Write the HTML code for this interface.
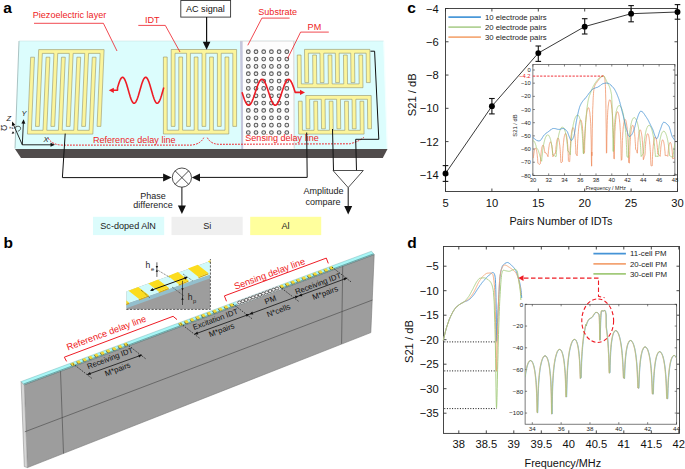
<!DOCTYPE html>
<html><head><meta charset="utf-8"><style>
html,body{margin:0;padding:0;background:#fff;}
svg{display:block;font-family:"Liberation Sans", sans-serif;}
</style></head><body>
<svg width="685" height="469" viewBox="0 0 685 469">
<rect width="685" height="469" fill="#fff"/>
<text x="3.2" y="13" font-size="15.5" fill="#000" text-anchor="start" font-weight="bold" >a</text>
<polygon points="19,41 383.6,41 387.2,149 15,149" fill="#dcfdfd" stroke="none" stroke-width="0" />
<line x1="383.8" y1="41" x2="387.3" y2="148.5" stroke="#f4ffff" stroke-width="1.2" />
<line x1="19" y1="41" x2="15" y2="148.5" stroke="#98b4b4" stroke-width="0.8" />
<line x1="19" y1="41" x2="383.6" y2="41" stroke="#c0dede" stroke-width="0.5" />
<polygon points="15,149 387.5,149 382.8,158 21,158" fill="#504b4b" stroke="none" stroke-width="0" />
<polygon points="240,41 294.6,41 294.6,149 241.2,149" fill="#fdfdfd" stroke="none" stroke-width="0" />
<polygon points="240,41 242.6,41 243.2,149 241.2,149" fill="#c4c6dc" stroke="none" stroke-width="0" />
<line x1="293.8" y1="41" x2="294.2" y2="148.5" stroke="#c8c8c8" stroke-width="0.8" />
<line x1="240" y1="41.2" x2="294.6" y2="41.2" stroke="#d0d0d0" stroke-width="0.6" />
<circle cx="248.3" cy="51.7" r="1.85" fill="#ececec" stroke="#5a5a5a" stroke-width="1.05"/>
<circle cx="256" cy="51.7" r="1.85" fill="#ececec" stroke="#5a5a5a" stroke-width="1.05"/>
<circle cx="263.7" cy="51.7" r="1.85" fill="#ececec" stroke="#5a5a5a" stroke-width="1.05"/>
<circle cx="271.4" cy="51.7" r="1.85" fill="#ececec" stroke="#5a5a5a" stroke-width="1.05"/>
<circle cx="279.1" cy="51.7" r="1.85" fill="#ececec" stroke="#5a5a5a" stroke-width="1.05"/>
<circle cx="286.8" cy="51.7" r="1.85" fill="#ececec" stroke="#5a5a5a" stroke-width="1.05"/>
<circle cx="248.3" cy="59.05" r="1.85" fill="#ececec" stroke="#5a5a5a" stroke-width="1.05"/>
<circle cx="256" cy="59.05" r="1.85" fill="#ececec" stroke="#5a5a5a" stroke-width="1.05"/>
<circle cx="263.7" cy="59.05" r="1.85" fill="#ececec" stroke="#5a5a5a" stroke-width="1.05"/>
<circle cx="271.4" cy="59.05" r="1.85" fill="#ececec" stroke="#5a5a5a" stroke-width="1.05"/>
<circle cx="279.1" cy="59.05" r="1.85" fill="#ececec" stroke="#5a5a5a" stroke-width="1.05"/>
<circle cx="286.8" cy="59.05" r="1.85" fill="#ececec" stroke="#5a5a5a" stroke-width="1.05"/>
<circle cx="248.3" cy="66.39" r="1.85" fill="#ececec" stroke="#5a5a5a" stroke-width="1.05"/>
<circle cx="256" cy="66.39" r="1.85" fill="#ececec" stroke="#5a5a5a" stroke-width="1.05"/>
<circle cx="263.7" cy="66.39" r="1.85" fill="#ececec" stroke="#5a5a5a" stroke-width="1.05"/>
<circle cx="271.4" cy="66.39" r="1.85" fill="#ececec" stroke="#5a5a5a" stroke-width="1.05"/>
<circle cx="279.1" cy="66.39" r="1.85" fill="#ececec" stroke="#5a5a5a" stroke-width="1.05"/>
<circle cx="286.8" cy="66.39" r="1.85" fill="#ececec" stroke="#5a5a5a" stroke-width="1.05"/>
<circle cx="248.3" cy="73.73" r="1.85" fill="#ececec" stroke="#5a5a5a" stroke-width="1.05"/>
<circle cx="256" cy="73.73" r="1.85" fill="#ececec" stroke="#5a5a5a" stroke-width="1.05"/>
<circle cx="263.7" cy="73.73" r="1.85" fill="#ececec" stroke="#5a5a5a" stroke-width="1.05"/>
<circle cx="271.4" cy="73.73" r="1.85" fill="#ececec" stroke="#5a5a5a" stroke-width="1.05"/>
<circle cx="279.1" cy="73.73" r="1.85" fill="#ececec" stroke="#5a5a5a" stroke-width="1.05"/>
<circle cx="286.8" cy="73.73" r="1.85" fill="#ececec" stroke="#5a5a5a" stroke-width="1.05"/>
<circle cx="248.3" cy="81.08" r="1.85" fill="#ececec" stroke="#5a5a5a" stroke-width="1.05"/>
<circle cx="256" cy="81.08" r="1.85" fill="#ececec" stroke="#5a5a5a" stroke-width="1.05"/>
<circle cx="263.7" cy="81.08" r="1.85" fill="#ececec" stroke="#5a5a5a" stroke-width="1.05"/>
<circle cx="271.4" cy="81.08" r="1.85" fill="#ececec" stroke="#5a5a5a" stroke-width="1.05"/>
<circle cx="279.1" cy="81.08" r="1.85" fill="#ececec" stroke="#5a5a5a" stroke-width="1.05"/>
<circle cx="286.8" cy="81.08" r="1.85" fill="#ececec" stroke="#5a5a5a" stroke-width="1.05"/>
<circle cx="248.3" cy="88.43" r="1.85" fill="#ececec" stroke="#5a5a5a" stroke-width="1.05"/>
<circle cx="256" cy="88.43" r="1.85" fill="#ececec" stroke="#5a5a5a" stroke-width="1.05"/>
<circle cx="263.7" cy="88.43" r="1.85" fill="#ececec" stroke="#5a5a5a" stroke-width="1.05"/>
<circle cx="271.4" cy="88.43" r="1.85" fill="#ececec" stroke="#5a5a5a" stroke-width="1.05"/>
<circle cx="279.1" cy="88.43" r="1.85" fill="#ececec" stroke="#5a5a5a" stroke-width="1.05"/>
<circle cx="286.8" cy="88.43" r="1.85" fill="#ececec" stroke="#5a5a5a" stroke-width="1.05"/>
<circle cx="248.3" cy="95.77" r="1.85" fill="#ececec" stroke="#5a5a5a" stroke-width="1.05"/>
<circle cx="256" cy="95.77" r="1.85" fill="#ececec" stroke="#5a5a5a" stroke-width="1.05"/>
<circle cx="263.7" cy="95.77" r="1.85" fill="#ececec" stroke="#5a5a5a" stroke-width="1.05"/>
<circle cx="271.4" cy="95.77" r="1.85" fill="#ececec" stroke="#5a5a5a" stroke-width="1.05"/>
<circle cx="279.1" cy="95.77" r="1.85" fill="#ececec" stroke="#5a5a5a" stroke-width="1.05"/>
<circle cx="286.8" cy="95.77" r="1.85" fill="#ececec" stroke="#5a5a5a" stroke-width="1.05"/>
<circle cx="248.3" cy="103.12" r="1.85" fill="#ececec" stroke="#5a5a5a" stroke-width="1.05"/>
<circle cx="256" cy="103.12" r="1.85" fill="#ececec" stroke="#5a5a5a" stroke-width="1.05"/>
<circle cx="263.7" cy="103.12" r="1.85" fill="#ececec" stroke="#5a5a5a" stroke-width="1.05"/>
<circle cx="271.4" cy="103.12" r="1.85" fill="#ececec" stroke="#5a5a5a" stroke-width="1.05"/>
<circle cx="279.1" cy="103.12" r="1.85" fill="#ececec" stroke="#5a5a5a" stroke-width="1.05"/>
<circle cx="286.8" cy="103.12" r="1.85" fill="#ececec" stroke="#5a5a5a" stroke-width="1.05"/>
<circle cx="248.3" cy="110.46" r="1.85" fill="#ececec" stroke="#5a5a5a" stroke-width="1.05"/>
<circle cx="256" cy="110.46" r="1.85" fill="#ececec" stroke="#5a5a5a" stroke-width="1.05"/>
<circle cx="263.7" cy="110.46" r="1.85" fill="#ececec" stroke="#5a5a5a" stroke-width="1.05"/>
<circle cx="271.4" cy="110.46" r="1.85" fill="#ececec" stroke="#5a5a5a" stroke-width="1.05"/>
<circle cx="279.1" cy="110.46" r="1.85" fill="#ececec" stroke="#5a5a5a" stroke-width="1.05"/>
<circle cx="286.8" cy="110.46" r="1.85" fill="#ececec" stroke="#5a5a5a" stroke-width="1.05"/>
<circle cx="248.3" cy="117.81" r="1.85" fill="#ececec" stroke="#5a5a5a" stroke-width="1.05"/>
<circle cx="256" cy="117.81" r="1.85" fill="#ececec" stroke="#5a5a5a" stroke-width="1.05"/>
<circle cx="263.7" cy="117.81" r="1.85" fill="#ececec" stroke="#5a5a5a" stroke-width="1.05"/>
<circle cx="271.4" cy="117.81" r="1.85" fill="#ececec" stroke="#5a5a5a" stroke-width="1.05"/>
<circle cx="279.1" cy="117.81" r="1.85" fill="#ececec" stroke="#5a5a5a" stroke-width="1.05"/>
<circle cx="286.8" cy="117.81" r="1.85" fill="#ececec" stroke="#5a5a5a" stroke-width="1.05"/>
<circle cx="248.3" cy="125.15" r="1.85" fill="#ececec" stroke="#5a5a5a" stroke-width="1.05"/>
<circle cx="256" cy="125.15" r="1.85" fill="#ececec" stroke="#5a5a5a" stroke-width="1.05"/>
<circle cx="263.7" cy="125.15" r="1.85" fill="#ececec" stroke="#5a5a5a" stroke-width="1.05"/>
<circle cx="271.4" cy="125.15" r="1.85" fill="#ececec" stroke="#5a5a5a" stroke-width="1.05"/>
<circle cx="279.1" cy="125.15" r="1.85" fill="#ececec" stroke="#5a5a5a" stroke-width="1.05"/>
<circle cx="286.8" cy="125.15" r="1.85" fill="#ececec" stroke="#5a5a5a" stroke-width="1.05"/>
<circle cx="248.3" cy="132.5" r="1.85" fill="#ececec" stroke="#5a5a5a" stroke-width="1.05"/>
<circle cx="256" cy="132.5" r="1.85" fill="#ececec" stroke="#5a5a5a" stroke-width="1.05"/>
<circle cx="263.7" cy="132.5" r="1.85" fill="#ececec" stroke="#5a5a5a" stroke-width="1.05"/>
<circle cx="271.4" cy="132.5" r="1.85" fill="#ececec" stroke="#5a5a5a" stroke-width="1.05"/>
<circle cx="279.1" cy="132.5" r="1.85" fill="#ececec" stroke="#5a5a5a" stroke-width="1.05"/>
<circle cx="286.8" cy="132.5" r="1.85" fill="#ececec" stroke="#5a5a5a" stroke-width="1.05"/>
<polygon points="38.7,49.6 104.1,49.6 100.87,126.4 97.07,126.4 100.14,53.4 88.54,53.4 85.47,126.4 81.67,126.4 84.74,53.4 73.14,53.4 70.07,126.4 66.27,126.4 69.34,53.4 57.74,53.4 54.67,126.4 50.87,126.4 53.94,53.4 42.34,53.4 39.27,126.4 35.47,126.4" fill="#fbf59c" stroke="#8e8a62" stroke-width="0.55" stroke-linejoin="miter"/>
<polygon points="27.45,134.1 92.85,134.1 96.08,57.2 92.28,57.2 89.21,130.3 77.61,130.3 80.68,57.2 76.88,57.2 73.81,130.3 62.21,130.3 65.28,57.2 61.48,57.2 58.41,130.3 46.81,130.3 49.88,57.2 46.08,57.2 43.01,130.3 31.41,130.3 34.48,57.2 30.68,57.2" fill="#fbf59c" stroke="#8e8a62" stroke-width="0.55" stroke-linejoin="miter"/>
<polygon points="171.2,49.5 236.6,49.5 236.6,126.4 232.8,126.4 232.8,53.3 221.2,53.3 221.2,126.4 217.4,126.4 217.4,53.3 205.8,53.3 205.8,126.4 202,126.4 202,53.3 190.4,53.3 190.4,126.4 186.6,126.4 186.6,53.3 175,53.3 175,126.4 171.2,126.4" fill="#fbf59c" stroke="#8e8a62" stroke-width="0.55" stroke-linejoin="miter"/>
<polygon points="163.4,134 228.8,134 228.8,57 225,57 225,130.2 213.4,130.2 213.4,57 209.6,57 209.6,130.2 198,130.2 198,57 194.2,57 194.2,130.2 182.6,130.2 182.6,57 178.8,57 178.8,130.2 167.2,130.2 167.2,57 163.4,57" fill="#fbf59c" stroke="#8e8a62" stroke-width="0.55" stroke-linejoin="miter"/>
<polygon points="304.5,49.4 369.9,49.4 370.23,82.6 366.43,82.6 366.14,53.2 354.54,53.2 354.83,82.6 351.03,82.6 350.74,53.2 339.14,53.2 339.43,82.6 335.63,82.6 335.34,53.2 323.74,53.2 324.03,82.6 320.23,82.6 319.94,53.2 308.34,53.2 308.63,82.6 304.83,82.6" fill="#fbf59c" stroke="#8e8a62" stroke-width="0.55" stroke-linejoin="miter"/>
<polygon points="297.58,87.7 362.98,87.7 362.66,55 358.86,55 359.15,83.9 347.55,83.9 347.26,55 343.46,55 343.75,83.9 332.15,83.9 331.86,55 328.06,55 328.35,83.9 316.75,83.9 316.46,55 312.66,55 312.94,83.9 301.35,83.9 301.06,55 297.26,55" fill="#fbf59c" stroke="#8e8a62" stroke-width="0.55" stroke-linejoin="miter"/>
<polygon points="305.8,95.5 371.2,95.5 371.53,128.8 367.73,128.8 367.44,99.3 355.84,99.3 356.13,128.8 352.33,128.8 352.04,99.3 340.44,99.3 340.73,128.8 336.93,128.8 336.64,99.3 325.04,99.3 325.33,128.8 321.53,128.8 321.24,99.3 309.64,99.3 309.93,128.8 306.13,128.8" fill="#fbf59c" stroke="#8e8a62" stroke-width="0.55" stroke-linejoin="miter"/>
<polygon points="298.69,134.1 364.09,134.1 363.76,101.2 359.96,101.2 360.25,130.3 348.65,130.3 348.36,101.2 344.56,101.2 344.85,130.3 333.25,130.3 332.96,101.2 329.16,101.2 329.45,130.3 317.85,130.3 317.56,101.2 313.76,101.2 314.05,130.3 302.45,130.3 302.16,101.2 298.36,101.2" fill="#fbf59c" stroke="#8e8a62" stroke-width="0.55" stroke-linejoin="miter"/>
<polyline points="112,90.3 117.5,90.3 117.5,87.84 118.08,85.87 118.66,84.01 119.24,82.3 119.81,80.79 120.39,79.52 120.97,78.52 121.55,77.8 122.13,77.4 122.71,77.31 123.29,77.54 123.87,78.09 124.45,78.95 125.02,80.08 125.6,81.46 126.18,83.07 126.76,84.85 127.34,86.77 127.92,88.77 128.5,90.82 129.07,92.85 129.65,94.81 130.23,96.67 130.81,98.37 131.39,99.87 131.97,101.13 132.55,102.12 133.13,102.82 133.71,103.22 134.28,103.29 134.86,103.04 135.44,102.48 136.02,101.61 136.6,100.47 137.18,99.07 137.76,97.46 138.34,95.67 138.91,93.75 139.49,91.74 140.07,89.69 140.65,87.67 141.23,85.7 141.81,83.85 142.39,82.16 142.97,80.67 143.54,79.42 144.12,78.44 144.7,77.75 145.28,77.37 145.86,77.32 146.44,77.58 147.02,78.16 147.59,79.03 148.17,80.19 148.75,81.59 149.33,83.22 149.91,85.01 150.49,86.94 151.07,88.95 151.65,90.99 152.23,93.02 152.8,94.98 153.38,96.82 153.96,98.51 154.54,99.98 155.12,101.22 155.7,102.19 156.28,102.87 156.86,103.23 157.43,103.28 158.01,103 158.59,102.41 159.17,101.52 159.75,100.36 160.33,98.94 160.91,97.31 161.49,95.51 162.06,93.57 162.64,91.56 163.22,89.52 163.8,87.49" fill="none" stroke="#ee1c25" stroke-width="1.6" stroke-linejoin="round"/>
<polygon points="108.8,90.3 113.8,87.7 113.8,92.9" fill="#ee1c25" stroke="none" stroke-width="0" />
<polyline points="242,92.3 242.66,94.33 243.33,96.32 244,98.2 244.66,99.94 245.32,101.49 245.99,102.82 246.66,103.88 247.32,104.66 247.98,105.14 248.65,105.3 249.31,105.14 249.98,104.66 250.65,103.88 251.31,102.82 251.97,101.49 252.64,99.94 253.31,98.2 253.97,96.32 254.63,94.33 255.3,92.3 255.97,90.27 256.63,88.28 257.3,86.4 257.96,84.66 258.62,83.11 259.29,81.78 259.95,80.72 260.62,79.94 261.28,79.46 261.95,79.3 262.62,79.46 263.28,79.94 263.94,80.72 264.61,81.78 265.27,83.11 265.94,84.66 266.61,86.4 267.27,88.28 267.94,90.27 268.6,92.3 269.26,94.33 269.93,96.32 270.59,98.2 271.26,99.94 271.93,101.49 272.59,102.82 273.25,103.88 273.92,104.66 274.58,105.14 275.25,105.3 275.91,105.14 276.58,104.66 277.25,103.88 277.91,102.82 278.57,101.49 279.24,99.94 279.9,98.2 280.57,96.32 281.24,94.33 281.9,92.3 282.56,90.27 283.23,88.28 283.89,86.4 284.56,84.66 285.22,83.11 285.89,81.78 286.56,80.72 287.22,79.94 287.88,79.46 288.55,79.3 289.21,79.46 289.88,79.94 290.54,80.72 291.21,81.78 291.88,83.11 292.54,84.66 293.2,86.4 293.87,88.28 294.53,90.27 295.2,92.3 295.2,92.4 301,92.4" fill="none" stroke="#ee1c25" stroke-width="1.6" stroke-linejoin="round"/>
<polygon points="305,92.4 300,95 300,89.8" fill="#ee1c25" stroke="none" stroke-width="0" />
<path d="M48.2,138.2 Q52,145 62.8,145.1 L191,145.1 Q200,144.5 203.8,137.7" fill="none" stroke="#ee1c25" stroke-width="1" stroke-dasharray="1.8,1.2"/>
<path d="M207.3,137.7 Q211,144.5 220,144.3 L349.7,143.8 Q358,142 363.9,137.3" fill="none" stroke="#ee1c25" stroke-width="1" stroke-dasharray="1.8,1.2"/>
<text x="93" y="142.6" font-size="9.05" fill="#ee1c25" text-anchor="start" font-weight="normal" >Reference delay line</text>
<text x="245.3" y="141.1" font-size="9.05" fill="#ee1c25" text-anchor="start" font-weight="normal" >Sensing delay line</text>
<line x1="22.3" y1="144.8" x2="51.5" y2="144.8" stroke="#111" stroke-width="0.9" />
<polygon points="55,144.8 50.5,146.8 50.5,142.8" fill="#111" stroke="none" stroke-width="0" />
<line x1="22.3" y1="144.8" x2="23.4" y2="122.5" stroke="#111" stroke-width="0.9" />
<polygon points="23.6,119.2 25.37,123.79 21.38,123.59" fill="#111" stroke="none" stroke-width="0" />
<line x1="22.3" y1="144.8" x2="13.4" y2="124.6" stroke="#111" stroke-width="0.9" />
<polygon points="12.1,121.6 15.26,124.65 11.91,125.98" fill="#111" stroke="none" stroke-width="0" />
<text x="43.6" y="141.6" font-size="7.5" fill="#222" text-anchor="start" font-weight="normal" font-style="italic">X</text>
<text x="21.6" y="115.8" font-size="7.5" fill="#222" text-anchor="start" font-weight="normal" font-style="italic">Y</text>
<text x="6.4" y="120.5" font-size="7.5" fill="#222" text-anchor="start" font-weight="normal" font-style="italic">Z</text>
<text x="3.4" y="130.3" font-size="8.2" fill="#222" text-anchor="middle" transform="rotate(90 3.4 127.7)">Ω</text>
<text x="11.8" y="130" font-size="6" fill="#222" text-anchor="middle" font-style="italic" transform="rotate(80 11.8 128)">z</text>
<path d="M14.2,128.6 C15.5,125.6 20.8,125.4 20.6,128.4 C20.4,130.2 19,131 17.8,131.2" fill="none" stroke="#222" stroke-width="0.75"/>
<polygon points="11.6,133.8 12.96,131.23 14.47,133.35" fill="#111" stroke="none" stroke-width="0" />
<text x="32.8" y="18.1" font-size="9.05" fill="#ee1c25" text-anchor="start" font-weight="normal" >Piezoelectric layer</text>
<polyline points="34,23.3 103.4,23.3 117,51" fill="none" stroke="#ee1c25" stroke-width="0.8" />
<text x="145" y="23" font-size="9.05" fill="#ee1c25" text-anchor="start" font-weight="normal" >IDT</text>
<polyline points="138.3,25.4 165.3,25.4 180,52" fill="none" stroke="#ee1c25" stroke-width="0.8" />
<text x="258.3" y="14.9" font-size="9.05" fill="#ee1c25" text-anchor="start" font-weight="normal" >Substrate</text>
<polyline points="289.6,18.1 261.9,18.1 247.8,45.3" fill="none" stroke="#ee1c25" stroke-width="0.8" />
<text x="307.6" y="29.9" font-size="9.05" fill="#ee1c25" text-anchor="start" font-weight="normal" >PM</text>
<polyline points="328.8,32.1 300.6,32.1 287.5,58.7" fill="none" stroke="#ee1c25" stroke-width="0.8" />
<rect x="180.8" y="0.5" width="49.8" height="16.6" fill="#fff" stroke="#333" stroke-width="0.9"/>
<text x="205.4" y="12" font-size="9.1" fill="#111" text-anchor="middle" font-weight="normal" >AC signal</text>
<line x1="206.6" y1="17" x2="206.6" y2="43" stroke="#111" stroke-width="1.2" />
<polygon points="206.6,49.8 202.8,41.8 210.4,41.8" fill="#111" stroke="none" stroke-width="0" />
<polyline points="65.2,133.6 62.4,177.6 163.5,177.6" fill="none" stroke="#111" stroke-width="1" />
<polygon points="171.6,177.6 163.1,181.6 163.1,173.6" fill="#111" stroke="none" stroke-width="0" />
<circle cx="181.9" cy="177.6" r="9.6" fill="#fff" stroke="#222" stroke-width="0.8"/>
<line x1="175.1" y1="170.8" x2="188.7" y2="184.4" stroke="#222" stroke-width="0.8" />
<line x1="175.1" y1="184.4" x2="188.7" y2="170.8" stroke="#222" stroke-width="0.8" />
<polyline points="306.7,132.5 307.2,177.4 199.7,177.4" fill="none" stroke="#111" stroke-width="1" />
<polygon points="191.8,177.5 200,173.5 200,181.5" fill="#111" stroke="none" stroke-width="0" />
<line x1="181.9" y1="187.2" x2="181.9" y2="206" stroke="#111" stroke-width="1" />
<polygon points="181.9,214 177.9,205.5 185.9,205.5" fill="#111" stroke="none" stroke-width="0" />
<polyline points="332.5,129 333.5,170.6" fill="none" stroke="#111" stroke-width="1" />
<polyline points="370.5,51.2 374.6,51.2 378.8,139.3 355.7,139.3 356.5,170.6" fill="none" stroke="#111" stroke-width="1" />
<polygon points="333,170.5 363.3,170.5 348.2,187.6" fill="#fff" stroke="#222" stroke-width="0.8" />
<line x1="348.2" y1="187.6" x2="348.2" y2="207" stroke="#111" stroke-width="1" />
<polygon points="348.2,214.5 344.2,206 352.2,206" fill="#111" stroke="none" stroke-width="0" />
<text x="153.1" y="198.6" font-size="9.0" fill="#222" text-anchor="middle" font-weight="normal" >Phase</text>
<text x="153" y="208.4" font-size="9.0" fill="#222" text-anchor="middle" font-weight="normal" >difference</text>
<text x="323.5" y="194.1" font-size="9.0" fill="#222" text-anchor="middle" font-weight="normal" >Amplitude</text>
<text x="322.9" y="204.6" font-size="9.0" fill="#222" text-anchor="middle" font-weight="normal" >compare</text>
<rect x="93" y="216.8" width="71.2" height="18.3" fill="#dcfcfc"/>
<rect x="171.5" y="216.8" width="71.2" height="18.3" fill="#efefef"/>
<rect x="250.2" y="216.8" width="71" height="18.3" fill="#ffff9d"/>
<text x="128.1" y="229.4" font-size="9.1" fill="#222" text-anchor="middle" font-weight="normal" >Sc-doped AlN</text>
<text x="207.3" y="229.4" font-size="9.1" fill="#222" text-anchor="middle" font-weight="normal" >Si</text>
<text x="285.6" y="229.4" font-size="9.1" fill="#222" text-anchor="middle" font-weight="normal" >Al</text>
<text x="3.5" y="247.7" font-size="15.5" fill="#000" text-anchor="start" font-weight="bold" >b</text>
<polygon points="24.3,384.8 374.2,254.6 370.8,332.6 27.4,467.6" fill="#9d9d9d" stroke="none" stroke-width="0" />
<polygon points="21.1,381.6 24.3,384.8 27.4,467.6 24.3,466.6" fill="#d6d6d6" stroke="#666" stroke-width="0.4" />
<polygon points="21.1,381.6 371.5,251.2 374.2,254.6 24.3,384.8" fill="#a8f6f6" stroke="#6fa8ac" stroke-width="0.4" />
<line x1="23.6" y1="384" x2="373.6" y2="253.8" stroke="#6aa8a8" stroke-width="1.0" />
<line x1="24.3" y1="384.8" x2="374.2" y2="254.6" stroke="#555" stroke-width="0.5" />
<line x1="374.2" y1="254.6" x2="370.8" y2="332.6" stroke="#777" stroke-width="0.6" />
<line x1="27.4" y1="467.6" x2="370.8" y2="332.6" stroke="#777" stroke-width="0.6" />
<line x1="24.8" y1="431.8" x2="372.5" y2="300" stroke="#444" stroke-width="0.6" />
<line x1="60.5" y1="371.3" x2="63.5" y2="453.5" stroke="#444" stroke-width="0.6" />
<line x1="342.7" y1="266.3" x2="341.6" y2="343.8" stroke="#444" stroke-width="0.6" />
<polygon points="70.15,364.02 72.95,362.97 74.85,365.47 72.05,366.52" fill="#556050" stroke="none" stroke-width="0" />
<polygon points="70.5,363.42 73.3,362.37 75.2,364.87 72.4,365.92" fill="#f2d83a" stroke="none" stroke-width="0" />
<polygon points="76.07,361.81 78.87,360.77 80.77,363.27 77.97,364.31" fill="#556050" stroke="none" stroke-width="0" />
<polygon points="76.42,361.21 79.22,360.17 81.12,362.67 78.32,363.71" fill="#f2d83a" stroke="none" stroke-width="0" />
<polygon points="81.99,359.61 84.79,358.57 86.69,361.07 83.89,362.11" fill="#556050" stroke="none" stroke-width="0" />
<polygon points="82.34,359.01 85.14,357.97 87.04,360.47 84.24,361.51" fill="#f2d83a" stroke="none" stroke-width="0" />
<polygon points="87.92,357.4 90.72,356.36 92.62,358.86 89.82,359.9" fill="#556050" stroke="none" stroke-width="0" />
<polygon points="88.27,356.8 91.07,355.76 92.97,358.26 90.17,359.3" fill="#f2d83a" stroke="none" stroke-width="0" />
<polygon points="93.84,355.2 96.64,354.16 98.54,356.66 95.74,357.7" fill="#556050" stroke="none" stroke-width="0" />
<polygon points="94.19,354.6 96.99,353.56 98.89,356.06 96.09,357.1" fill="#f2d83a" stroke="none" stroke-width="0" />
<polygon points="99.76,353 102.56,351.95 104.46,354.45 101.66,355.5" fill="#556050" stroke="none" stroke-width="0" />
<polygon points="100.11,352.4 102.91,351.35 104.81,353.85 102.01,354.9" fill="#f2d83a" stroke="none" stroke-width="0" />
<polygon points="105.68,350.79 108.48,349.75 110.38,352.25 107.58,353.29" fill="#556050" stroke="none" stroke-width="0" />
<polygon points="106.03,350.19 108.83,349.15 110.73,351.65 107.93,352.69" fill="#f2d83a" stroke="none" stroke-width="0" />
<polygon points="111.61,348.59 114.41,347.55 116.31,350.05 113.51,351.09" fill="#556050" stroke="none" stroke-width="0" />
<polygon points="111.96,347.99 114.76,346.95 116.66,349.45 113.86,350.49" fill="#f2d83a" stroke="none" stroke-width="0" />
<polygon points="117.53,346.38 120.33,345.34 122.23,347.84 119.43,348.88" fill="#556050" stroke="none" stroke-width="0" />
<polygon points="117.88,345.78 120.68,344.74 122.58,347.24 119.78,348.28" fill="#f2d83a" stroke="none" stroke-width="0" />
<polygon points="123.45,344.18 126.25,343.14 128.15,345.64 125.35,346.68" fill="#556050" stroke="none" stroke-width="0" />
<polygon points="123.8,343.58 126.6,342.54 128.5,345.04 125.7,346.08" fill="#f2d83a" stroke="none" stroke-width="0" />
<polygon points="178.15,323.82 180.95,322.78 182.85,325.28 180.05,326.32" fill="#556050" stroke="none" stroke-width="0" />
<polygon points="178.5,323.22 181.3,322.18 183.2,324.68 180.4,325.72" fill="#f2d83a" stroke="none" stroke-width="0" />
<polygon points="183.82,321.72 186.62,320.67 188.52,323.17 185.72,324.22" fill="#556050" stroke="none" stroke-width="0" />
<polygon points="184.17,321.12 186.97,320.07 188.87,322.57 186.07,323.62" fill="#f2d83a" stroke="none" stroke-width="0" />
<polygon points="189.48,319.61 192.28,318.56 194.18,321.06 191.38,322.11" fill="#556050" stroke="none" stroke-width="0" />
<polygon points="189.83,319.01 192.63,317.96 194.53,320.46 191.73,321.51" fill="#f2d83a" stroke="none" stroke-width="0" />
<polygon points="195.15,317.5 197.95,316.46 199.85,318.96 197.05,320" fill="#556050" stroke="none" stroke-width="0" />
<polygon points="195.5,316.9 198.3,315.86 200.2,318.36 197.4,319.4" fill="#f2d83a" stroke="none" stroke-width="0" />
<polygon points="200.82,315.39 203.62,314.35 205.52,316.85 202.72,317.89" fill="#556050" stroke="none" stroke-width="0" />
<polygon points="201.17,314.79 203.97,313.75 205.87,316.25 203.07,317.29" fill="#f2d83a" stroke="none" stroke-width="0" />
<polygon points="206.48,313.28 209.28,312.24 211.18,314.74 208.38,315.78" fill="#556050" stroke="none" stroke-width="0" />
<polygon points="206.83,312.68 209.63,311.64 211.53,314.14 208.73,315.18" fill="#f2d83a" stroke="none" stroke-width="0" />
<polygon points="212.15,311.17 214.95,310.13 216.85,312.63 214.05,313.67" fill="#556050" stroke="none" stroke-width="0" />
<polygon points="212.5,310.57 215.3,309.53 217.2,312.03 214.4,313.07" fill="#f2d83a" stroke="none" stroke-width="0" />
<polygon points="217.82,309.06 220.62,308.02 222.52,310.52 219.72,311.56" fill="#556050" stroke="none" stroke-width="0" />
<polygon points="218.17,308.46 220.97,307.42 222.87,309.92 220.07,310.96" fill="#f2d83a" stroke="none" stroke-width="0" />
<polygon points="223.48,306.95 226.28,305.91 228.18,308.41 225.38,309.45" fill="#556050" stroke="none" stroke-width="0" />
<polygon points="223.83,306.35 226.63,305.31 228.53,307.81 225.73,308.85" fill="#f2d83a" stroke="none" stroke-width="0" />
<polygon points="229.15,304.84 231.95,303.8 233.85,306.3 231.05,307.34" fill="#556050" stroke="none" stroke-width="0" />
<polygon points="229.5,304.24 232.3,303.2 234.2,305.7 231.4,306.74" fill="#f2d83a" stroke="none" stroke-width="0" />
<polygon points="279.25,286.2 282.05,285.16 283.95,287.66 281.15,288.7" fill="#556050" stroke="none" stroke-width="0" />
<polygon points="279.6,285.6 282.4,284.56 284.3,287.06 281.5,288.1" fill="#f2d83a" stroke="none" stroke-width="0" />
<polygon points="284.76,284.15 287.56,283.11 289.46,285.61 286.66,286.65" fill="#556050" stroke="none" stroke-width="0" />
<polygon points="285.11,283.55 287.91,282.51 289.81,285.01 287.01,286.05" fill="#f2d83a" stroke="none" stroke-width="0" />
<polygon points="290.27,282.1 293.07,281.06 294.97,283.56 292.17,284.6" fill="#556050" stroke="none" stroke-width="0" />
<polygon points="290.62,281.5 293.42,280.46 295.32,282.96 292.52,284" fill="#f2d83a" stroke="none" stroke-width="0" />
<polygon points="295.78,280.05 298.58,279.01 300.48,281.51 297.68,282.55" fill="#556050" stroke="none" stroke-width="0" />
<polygon points="296.13,279.45 298.93,278.41 300.83,280.91 298.03,281.95" fill="#f2d83a" stroke="none" stroke-width="0" />
<polygon points="301.29,278 304.09,276.95 305.99,279.45 303.19,280.5" fill="#556050" stroke="none" stroke-width="0" />
<polygon points="301.64,277.4 304.44,276.35 306.34,278.85 303.54,279.9" fill="#f2d83a" stroke="none" stroke-width="0" />
<polygon points="306.81,275.95 309.61,274.9 311.51,277.4 308.71,278.45" fill="#556050" stroke="none" stroke-width="0" />
<polygon points="307.16,275.35 309.96,274.3 311.86,276.8 309.06,277.85" fill="#f2d83a" stroke="none" stroke-width="0" />
<polygon points="312.32,273.89 315.12,272.85 317.02,275.35 314.22,276.39" fill="#556050" stroke="none" stroke-width="0" />
<polygon points="312.67,273.29 315.47,272.25 317.37,274.75 314.57,275.79" fill="#f2d83a" stroke="none" stroke-width="0" />
<polygon points="317.83,271.84 320.63,270.8 322.53,273.3 319.73,274.34" fill="#556050" stroke="none" stroke-width="0" />
<polygon points="318.18,271.24 320.98,270.2 322.88,272.7 320.08,273.74" fill="#f2d83a" stroke="none" stroke-width="0" />
<polygon points="323.34,269.79 326.14,268.75 328.04,271.25 325.24,272.29" fill="#556050" stroke="none" stroke-width="0" />
<polygon points="323.69,269.19 326.49,268.15 328.39,270.65 325.59,271.69" fill="#f2d83a" stroke="none" stroke-width="0" />
<polygon points="328.85,267.74 331.65,266.7 333.55,269.2 330.75,270.24" fill="#556050" stroke="none" stroke-width="0" />
<polygon points="329.2,267.14 332,266.1 333.9,268.6 331.1,269.64" fill="#f2d83a" stroke="none" stroke-width="0" />
<polygon points="235.3,301.89 278.6,285.77 281.4,289.17 238.1,305.29" fill="#e4e4e4" stroke="none" stroke-width="0" />
<ellipse cx="239.41" cy="302.5" rx="1.75" ry="1.5" fill="#f4f4f4" stroke="#3a3a3a" stroke-width="0.75"/>
<ellipse cx="242.82" cy="301.23" rx="1.75" ry="1.5" fill="#f4f4f4" stroke="#3a3a3a" stroke-width="0.75"/>
<ellipse cx="246.24" cy="299.96" rx="1.75" ry="1.5" fill="#f4f4f4" stroke="#3a3a3a" stroke-width="0.75"/>
<ellipse cx="249.66" cy="298.69" rx="1.75" ry="1.5" fill="#f4f4f4" stroke="#3a3a3a" stroke-width="0.75"/>
<ellipse cx="253.07" cy="297.42" rx="1.75" ry="1.5" fill="#f4f4f4" stroke="#3a3a3a" stroke-width="0.75"/>
<ellipse cx="256.49" cy="296.15" rx="1.75" ry="1.5" fill="#f4f4f4" stroke="#3a3a3a" stroke-width="0.75"/>
<ellipse cx="259.91" cy="294.87" rx="1.75" ry="1.5" fill="#f4f4f4" stroke="#3a3a3a" stroke-width="0.75"/>
<ellipse cx="263.32" cy="293.6" rx="1.75" ry="1.5" fill="#f4f4f4" stroke="#3a3a3a" stroke-width="0.75"/>
<ellipse cx="266.74" cy="292.33" rx="1.75" ry="1.5" fill="#f4f4f4" stroke="#3a3a3a" stroke-width="0.75"/>
<ellipse cx="270.16" cy="291.06" rx="1.75" ry="1.5" fill="#f4f4f4" stroke="#3a3a3a" stroke-width="0.75"/>
<ellipse cx="273.57" cy="289.79" rx="1.75" ry="1.5" fill="#f4f4f4" stroke="#3a3a3a" stroke-width="0.75"/>
<ellipse cx="276.99" cy="288.52" rx="1.75" ry="1.5" fill="#f4f4f4" stroke="#3a3a3a" stroke-width="0.75"/>
<text x="67.9" y="350.5" font-size="9.25" fill="#ee1c25" text-anchor="start" transform="rotate(-20.4 67.9 350.5)">Reference delay line</text>
<text x="235.4" y="289.8" font-size="9.25" fill="#ee1c25" text-anchor="start" transform="rotate(-20.4 235.4 289.8)">Sensing delay line</text>
<polyline points="66.6,361.4 64.3,357.2 173.1,316.3 177,319.6" fill="none" stroke="#ee1c25" stroke-width="1" />
<polyline points="226.5,301.3 224.4,295.9 326.3,258.1 328.3,263.4" fill="none" stroke="#ee1c25" stroke-width="1" />
<line x1="72.8" y1="363.6" x2="92" y2="378.48" stroke="#111" stroke-width="0.7" stroke-dasharray="1.6,1.2"/>
<line x1="126.6" y1="344" x2="145.8" y2="358.88" stroke="#111" stroke-width="0.7" stroke-dasharray="1.6,1.2"/>
<line x1="87.2" y1="374.6" x2="142" y2="354.9" stroke="#111" stroke-width="0.8" />
<polygon points="87.2,374.6 89.99,372 91,374.83" fill="#111" stroke="none" stroke-width="0" />
<polygon points="142,354.9 139.21,357.5 138.2,354.67" fill="#111" stroke="none" stroke-width="0" />
<text x="88.2" y="369.2" font-size="7.75" fill="#111" text-anchor="start" transform="rotate(-20.4 88.2 369.2)">Receiving IDT</text>
<text x="106" y="376.4" font-size="7.9" fill="#111" text-anchor="start" transform="rotate(-20.4 106 376.4)">M*pairs</text>
<line x1="180.6" y1="323.5" x2="199.8" y2="338.38" stroke="#111" stroke-width="0.7" stroke-dasharray="1.6,1.2"/>
<line x1="233" y1="304" x2="252.2" y2="318.88" stroke="#111" stroke-width="0.7" stroke-dasharray="1.6,1.2"/>
<line x1="279.6" y1="286.6" x2="298.8" y2="301.48" stroke="#111" stroke-width="0.7" stroke-dasharray="1.6,1.2"/>
<line x1="332" y1="267.1" x2="351.2" y2="281.98" stroke="#111" stroke-width="0.7" stroke-dasharray="1.6,1.2"/>
<line x1="194.5" y1="334.2" x2="249.5" y2="314.2" stroke="#111" stroke-width="0.8" />
<polygon points="194.5,334.2 197.28,331.59 198.3,334.41" fill="#111" stroke="none" stroke-width="0" />
<polygon points="249.5,314.2 246.72,316.81 245.7,313.99" fill="#111" stroke="none" stroke-width="0" />
<line x1="249.5" y1="314.2" x2="298.6" y2="296" stroke="#111" stroke-width="0.8" />
<polygon points="249.5,314.2 252.26,311.58 253.3,314.39" fill="#111" stroke="none" stroke-width="0" />
<polygon points="298.6,296 295.84,298.62 294.8,295.81" fill="#111" stroke="none" stroke-width="0" />
<line x1="298.6" y1="296" x2="347.2" y2="278" stroke="#111" stroke-width="0.8" />
<polygon points="298.6,296 301.36,293.38 302.4,296.19" fill="#111" stroke="none" stroke-width="0" />
<polygon points="347.2,278 344.44,280.62 343.4,277.81" fill="#111" stroke="none" stroke-width="0" />
<text x="194" y="330" font-size="7.65" fill="#111" text-anchor="start" transform="rotate(-20.4 194 330)">Excitation IDT</text>
<text x="210" y="337.2" font-size="7.9" fill="#111" text-anchor="start" transform="rotate(-20.4 210 337.2)">M*pairs</text>
<text x="265.8" y="304.4" font-size="7.9" fill="#111" text-anchor="start" transform="rotate(-20.4 265.8 304.4)">PM</text>
<text x="268" y="317.2" font-size="7.9" fill="#111" text-anchor="start" transform="rotate(-20.4 268 317.2)">N*cells</text>
<text x="296.2" y="294.6" font-size="7.75" fill="#111" text-anchor="start" transform="rotate(-20.4 296.2 294.6)">Receiving IDT</text>
<text x="313.6" y="300" font-size="7.9" fill="#111" text-anchor="start" transform="rotate(-20.4 313.6 300)">M*pairs</text>
<clipPath id="clipb"><rect x="126.3" y="255" width="84.1" height="54.4"/></clipPath>
<g clip-path="url(#clipb)">
<polygon points="126.3,291.6 210.4,261 210.4,309.4 126.3,309.4" fill="#9d9d9d" stroke="none" stroke-width="0" />
<polygon points="126.3,291.6 210.4,261 210.4,274.8 126.3,303.9" fill="#d0fafa" stroke="none" stroke-width="0" />
<polygon points="126.3,303.9 210.4,274.8 210.4,278.2 126.3,308.3" fill="#93bfcd" stroke="none" stroke-width="0" />
<polygon points="99.5,313.9 109.3,310 109.3,311.4 99.5,315.3" fill="#d8a810" stroke="none" stroke-width="0" />
<polygon points="88.9,305.6 98.7,301.7 109.3,310 99.5,313.9" fill="#fcdc1e" stroke="none" stroke-width="0" />
<polygon points="119.3,306.5 129.1,302.6 129.1,304 119.3,307.9" fill="#d8a810" stroke="none" stroke-width="0" />
<polygon points="108.7,298.2 118.5,294.3 129.1,302.6 119.3,306.5" fill="#fcdc1e" stroke="none" stroke-width="0" />
<polygon points="139.1,299.1 148.9,295.2 148.9,296.6 139.1,300.5" fill="#d8a810" stroke="none" stroke-width="0" />
<polygon points="128.5,290.8 138.3,286.9 148.9,295.2 139.1,299.1" fill="#fcdc1e" stroke="none" stroke-width="0" />
<polygon points="158.9,291.7 168.7,287.8 168.7,289.2 158.9,293.1" fill="#d8a810" stroke="none" stroke-width="0" />
<polygon points="148.3,283.4 158.1,279.5 168.7,287.8 158.9,291.7" fill="#fcdc1e" stroke="none" stroke-width="0" />
<polygon points="178.7,284.3 188.5,280.4 188.5,281.8 178.7,285.7" fill="#d8a810" stroke="none" stroke-width="0" />
<polygon points="168.1,276 177.9,272.1 188.5,280.4 178.7,284.3" fill="#fcdc1e" stroke="none" stroke-width="0" />
<polygon points="198.5,276.9 208.3,273 208.3,274.4 198.5,278.3" fill="#d8a810" stroke="none" stroke-width="0" />
<polygon points="187.9,268.6 197.7,264.7 208.3,273 198.5,276.9" fill="#fcdc1e" stroke="none" stroke-width="0" />
<polygon points="218.3,269.5 228.1,265.6 228.1,267 218.3,270.9" fill="#d8a810" stroke="none" stroke-width="0" />
<polygon points="207.7,261.2 217.5,257.3 228.1,265.6 218.3,269.5" fill="#fcdc1e" stroke="none" stroke-width="0" />
</g>
<polyline points="126.3,309.4 210.4,309.4 210.4,259" fill="none" stroke="#333" stroke-width="0.8" stroke-dasharray="2.2,1.4"/>
<line x1="156.9" y1="262.3" x2="156.9" y2="276.9" stroke="#222" stroke-width="0.7" />
<polygon points="156.9,268.2 155.7,266 158.1,266" fill="#111" stroke="none" stroke-width="0" />
<polygon points="156.9,269.6 158.1,271.8 155.7,271.8" fill="#111" stroke="none" stroke-width="0" />
<line x1="157.8" y1="270.2" x2="170" y2="277.5" stroke="#222" stroke-width="0.6" stroke-dasharray="1,0.8"/>
<line x1="182.5" y1="280.8" x2="182.5" y2="305" stroke="#222" stroke-width="0.7" />
<polygon points="182.5,290.5 181.3,288.3 183.7,288.3" fill="#111" stroke="none" stroke-width="0" />
<polygon points="182.5,297.5 183.7,299.7 181.3,299.7" fill="#111" stroke="none" stroke-width="0" />
<line x1="172" y1="287" x2="184" y2="296" stroke="#222" stroke-width="0.6" stroke-dasharray="1,0.8"/>
<line x1="141" y1="290" x2="150" y2="298" stroke="#222" stroke-width="0.6" stroke-dasharray="1,0.8"/>
<line x1="183" y1="274" x2="193" y2="281" stroke="#222" stroke-width="0.6" stroke-dasharray="1,0.8"/>
<line x1="151.2" y1="290.3" x2="186.5" y2="277.6" stroke="#111" stroke-width="1.0" />
<polygon points="150,290.7 152.66,288.04 153.74,291.05" fill="#111" stroke="none" stroke-width="0" />
<polygon points="187.8,277.1 185.14,279.76 184.06,276.75" fill="#111" stroke="none" stroke-width="0" />
<text x="145.6" y="267.8" font-size="8.6" fill="#222" text-anchor="start" font-weight="normal" >h</text>
<text x="150.9" y="270.6" font-size="5.8" fill="#222" text-anchor="start" font-weight="normal" >e</text>
<text x="187.8" y="300.4" font-size="8.6" fill="#222" text-anchor="start" font-weight="normal" >h</text>
<text x="192.9" y="303.4" font-size="5.8" fill="#222" text-anchor="start" font-weight="normal" >p</text>
<text x="407.2" y="12.8" font-size="15.5" fill="#000" text-anchor="start" font-weight="bold" >c</text>
<rect x="445.5" y="8.5" width="232.0" height="183.0" fill="none" stroke="#333" stroke-width="0.9"/>
<line x1="445.5" y1="8.5" x2="448.5" y2="8.5" stroke="#333" stroke-width="0.9" />
<line x1="677.5" y1="8.5" x2="674.5" y2="8.5" stroke="#333" stroke-width="0.9" />
<text x="438.8" y="12.5" font-size="11.2" fill="#111" text-anchor="end" font-weight="normal" >−4</text>
<line x1="445.5" y1="41.77" x2="448.5" y2="41.77" stroke="#333" stroke-width="0.9" />
<line x1="677.5" y1="41.77" x2="674.5" y2="41.77" stroke="#333" stroke-width="0.9" />
<text x="438.8" y="45.77" font-size="11.2" fill="#111" text-anchor="end" font-weight="normal" >−6</text>
<line x1="445.5" y1="75.05" x2="448.5" y2="75.05" stroke="#333" stroke-width="0.9" />
<line x1="677.5" y1="75.05" x2="674.5" y2="75.05" stroke="#333" stroke-width="0.9" />
<text x="438.8" y="79.05" font-size="11.2" fill="#111" text-anchor="end" font-weight="normal" >−8</text>
<line x1="445.5" y1="108.32" x2="448.5" y2="108.32" stroke="#333" stroke-width="0.9" />
<line x1="677.5" y1="108.32" x2="674.5" y2="108.32" stroke="#333" stroke-width="0.9" />
<text x="438.8" y="112.32" font-size="11.2" fill="#111" text-anchor="end" font-weight="normal" >−10</text>
<line x1="445.5" y1="141.59" x2="448.5" y2="141.59" stroke="#333" stroke-width="0.9" />
<line x1="677.5" y1="141.59" x2="674.5" y2="141.59" stroke="#333" stroke-width="0.9" />
<text x="438.8" y="145.59" font-size="11.2" fill="#111" text-anchor="end" font-weight="normal" >−12</text>
<line x1="445.5" y1="174.86" x2="448.5" y2="174.86" stroke="#333" stroke-width="0.9" />
<line x1="677.5" y1="174.86" x2="674.5" y2="174.86" stroke="#333" stroke-width="0.9" />
<text x="438.8" y="178.86" font-size="11.2" fill="#111" text-anchor="end" font-weight="normal" >−14</text>
<line x1="445.5" y1="191.5" x2="445.5" y2="188.5" stroke="#333" stroke-width="0.9" />
<line x1="445.5" y1="8.5" x2="445.5" y2="11.5" stroke="#333" stroke-width="0.9" />
<text x="445.5" y="207.2" font-size="11.2" fill="#111" text-anchor="middle" font-weight="normal" >5</text>
<line x1="491.9" y1="191.5" x2="491.9" y2="188.5" stroke="#333" stroke-width="0.9" />
<line x1="491.9" y1="8.5" x2="491.9" y2="11.5" stroke="#333" stroke-width="0.9" />
<text x="491.9" y="207.2" font-size="11.2" fill="#111" text-anchor="middle" font-weight="normal" >10</text>
<line x1="538.3" y1="191.5" x2="538.3" y2="188.5" stroke="#333" stroke-width="0.9" />
<line x1="538.3" y1="8.5" x2="538.3" y2="11.5" stroke="#333" stroke-width="0.9" />
<text x="538.3" y="207.2" font-size="11.2" fill="#111" text-anchor="middle" font-weight="normal" >15</text>
<line x1="584.7" y1="191.5" x2="584.7" y2="188.5" stroke="#333" stroke-width="0.9" />
<line x1="584.7" y1="8.5" x2="584.7" y2="11.5" stroke="#333" stroke-width="0.9" />
<text x="584.7" y="207.2" font-size="11.2" fill="#111" text-anchor="middle" font-weight="normal" >20</text>
<line x1="631.1" y1="191.5" x2="631.1" y2="188.5" stroke="#333" stroke-width="0.9" />
<line x1="631.1" y1="8.5" x2="631.1" y2="11.5" stroke="#333" stroke-width="0.9" />
<text x="631.1" y="207.2" font-size="11.2" fill="#111" text-anchor="middle" font-weight="normal" >25</text>
<line x1="677.5" y1="191.5" x2="677.5" y2="188.5" stroke="#333" stroke-width="0.9" />
<line x1="677.5" y1="8.5" x2="677.5" y2="11.5" stroke="#333" stroke-width="0.9" />
<text x="677.5" y="207.2" font-size="11.2" fill="#111" text-anchor="middle" font-weight="normal" >30</text>
<text x="560.9" y="224.8" font-size="10.85" fill="#111" text-anchor="middle" font-weight="normal" >Pairs Number of IDTs</text>
<text x="415.6" y="94.8" font-size="11.2" fill="#111" text-anchor="middle" transform="rotate(-90 415.6 94.8)">S21 / dB</text>
<path d="M445.5,173.5 L491.9,106.2 L538.3,53.1 L584.7,26.6 L631.1,13.7 L677.5,12.0" fill="none" stroke="#222" stroke-width="0.9" stroke-linejoin="round" />
<line x1="445.5" y1="165.6" x2="445.5" y2="181.4" stroke="#111" stroke-width="1.1" />
<line x1="442.7" y1="165.6" x2="448.3" y2="165.6" stroke="#111" stroke-width="1.1" />
<line x1="442.7" y1="181.4" x2="448.3" y2="181.4" stroke="#111" stroke-width="1.1" />
<circle cx="445.5" cy="173.53" r="2.95" fill="#000"/>
<line x1="491.9" y1="98.5" x2="491.9" y2="113.9" stroke="#111" stroke-width="1.1" />
<line x1="489.1" y1="98.5" x2="494.7" y2="98.5" stroke="#111" stroke-width="1.1" />
<line x1="489.1" y1="113.9" x2="494.7" y2="113.9" stroke="#111" stroke-width="1.1" />
<circle cx="491.9" cy="106.16" r="2.95" fill="#000"/>
<line x1="538.3" y1="46" x2="538.3" y2="61.4" stroke="#111" stroke-width="1.1" />
<line x1="535.5" y1="46" x2="541.1" y2="46" stroke="#111" stroke-width="1.1" />
<line x1="535.5" y1="61.4" x2="541.1" y2="61.4" stroke="#111" stroke-width="1.1" />
<circle cx="538.3" cy="53.09" r="2.95" fill="#000"/>
<line x1="584.7" y1="18.7" x2="584.7" y2="34" stroke="#111" stroke-width="1.1" />
<line x1="581.9" y1="18.7" x2="587.5" y2="18.7" stroke="#111" stroke-width="1.1" />
<line x1="581.9" y1="34" x2="587.5" y2="34" stroke="#111" stroke-width="1.1" />
<circle cx="584.7" cy="26.63" r="2.95" fill="#000"/>
<line x1="631.1" y1="5.6" x2="631.1" y2="21.8" stroke="#111" stroke-width="1.1" />
<line x1="628.3" y1="5.6" x2="633.9" y2="5.6" stroke="#111" stroke-width="1.1" />
<line x1="628.3" y1="21.8" x2="633.9" y2="21.8" stroke="#111" stroke-width="1.1" />
<circle cx="631.1" cy="13.66" r="2.95" fill="#000"/>
<line x1="677.5" y1="4.6" x2="677.5" y2="19.2" stroke="#111" stroke-width="1.1" />
<line x1="674.7" y1="4.6" x2="680.3" y2="4.6" stroke="#111" stroke-width="1.1" />
<line x1="674.7" y1="19.2" x2="680.3" y2="19.2" stroke="#111" stroke-width="1.1" />
<circle cx="677.5" cy="11.99" r="2.95" fill="#000"/>
<line x1="448.4" y1="17.1" x2="480.9" y2="17.1" stroke="#4a98d8" stroke-width="1.8" />
<text x="485" y="19.6" font-size="7.75" fill="#222" text-anchor="start" font-weight="normal" >10 electrode pairs</text>
<line x1="448.4" y1="27.1" x2="480.9" y2="27.1" stroke="#b2d296" stroke-width="1.8" />
<text x="485" y="29.6" font-size="7.75" fill="#222" text-anchor="start" font-weight="normal" >20 electrode pairs</text>
<line x1="448.4" y1="37.1" x2="480.9" y2="37.1" stroke="#f5ab7a" stroke-width="1.8" />
<text x="485" y="39.6" font-size="7.75" fill="#222" text-anchor="start" font-weight="normal" >30 electrode pairs</text>
<rect x="532.9" y="64.5" width="142.0" height="110.9" fill="#fff" stroke="#444" stroke-width="0.7"/>
<line x1="532.9" y1="70" x2="534.9" y2="70" stroke="#333" stroke-width="0.6" />
<line x1="674.9" y1="70" x2="672.9" y2="70" stroke="#333" stroke-width="0.6" />
<text x="530.8" y="72.1" font-size="5.8" fill="#222" text-anchor="end" font-weight="normal" >0</text>
<line x1="532.9" y1="83.17" x2="534.9" y2="83.17" stroke="#333" stroke-width="0.6" />
<line x1="674.9" y1="83.17" x2="672.9" y2="83.17" stroke="#333" stroke-width="0.6" />
<text x="530.8" y="85.27" font-size="5.8" fill="#222" text-anchor="end" font-weight="normal" >−10</text>
<line x1="532.9" y1="96.35" x2="534.9" y2="96.35" stroke="#333" stroke-width="0.6" />
<line x1="674.9" y1="96.35" x2="672.9" y2="96.35" stroke="#333" stroke-width="0.6" />
<text x="530.8" y="98.45" font-size="5.8" fill="#222" text-anchor="end" font-weight="normal" >−20</text>
<line x1="532.9" y1="109.53" x2="534.9" y2="109.53" stroke="#333" stroke-width="0.6" />
<line x1="674.9" y1="109.53" x2="672.9" y2="109.53" stroke="#333" stroke-width="0.6" />
<text x="530.8" y="111.62" font-size="5.8" fill="#222" text-anchor="end" font-weight="normal" >−30</text>
<line x1="532.9" y1="122.7" x2="534.9" y2="122.7" stroke="#333" stroke-width="0.6" />
<line x1="674.9" y1="122.7" x2="672.9" y2="122.7" stroke="#333" stroke-width="0.6" />
<text x="530.8" y="124.8" font-size="5.8" fill="#222" text-anchor="end" font-weight="normal" >−40</text>
<line x1="532.9" y1="135.88" x2="534.9" y2="135.88" stroke="#333" stroke-width="0.6" />
<line x1="674.9" y1="135.88" x2="672.9" y2="135.88" stroke="#333" stroke-width="0.6" />
<text x="530.8" y="137.97" font-size="5.8" fill="#222" text-anchor="end" font-weight="normal" >−50</text>
<line x1="532.9" y1="149.05" x2="534.9" y2="149.05" stroke="#333" stroke-width="0.6" />
<line x1="674.9" y1="149.05" x2="672.9" y2="149.05" stroke="#333" stroke-width="0.6" />
<text x="530.8" y="151.15" font-size="5.8" fill="#222" text-anchor="end" font-weight="normal" >−60</text>
<line x1="532.9" y1="162.22" x2="534.9" y2="162.22" stroke="#333" stroke-width="0.6" />
<line x1="674.9" y1="162.22" x2="672.9" y2="162.22" stroke="#333" stroke-width="0.6" />
<text x="530.8" y="164.32" font-size="5.8" fill="#222" text-anchor="end" font-weight="normal" >−70</text>
<line x1="532.9" y1="175.4" x2="534.9" y2="175.4" stroke="#333" stroke-width="0.6" />
<line x1="674.9" y1="175.4" x2="672.9" y2="175.4" stroke="#333" stroke-width="0.6" />
<text x="530.8" y="177.5" font-size="5.8" fill="#222" text-anchor="end" font-weight="normal" >−80</text>
<line x1="532.9" y1="175.4" x2="532.9" y2="173.4" stroke="#333" stroke-width="0.6" />
<line x1="532.9" y1="64.5" x2="532.9" y2="66.5" stroke="#333" stroke-width="0.6" />
<text x="532.9" y="182.4" font-size="5.8" fill="#222" text-anchor="middle" font-weight="normal" >30</text>
<line x1="548.68" y1="175.4" x2="548.68" y2="173.4" stroke="#333" stroke-width="0.6" />
<line x1="548.68" y1="64.5" x2="548.68" y2="66.5" stroke="#333" stroke-width="0.6" />
<text x="548.68" y="182.4" font-size="5.8" fill="#222" text-anchor="middle" font-weight="normal" >32</text>
<line x1="564.46" y1="175.4" x2="564.46" y2="173.4" stroke="#333" stroke-width="0.6" />
<line x1="564.46" y1="64.5" x2="564.46" y2="66.5" stroke="#333" stroke-width="0.6" />
<text x="564.46" y="182.4" font-size="5.8" fill="#222" text-anchor="middle" font-weight="normal" >34</text>
<line x1="580.23" y1="175.4" x2="580.23" y2="173.4" stroke="#333" stroke-width="0.6" />
<line x1="580.23" y1="64.5" x2="580.23" y2="66.5" stroke="#333" stroke-width="0.6" />
<text x="580.23" y="182.4" font-size="5.8" fill="#222" text-anchor="middle" font-weight="normal" >36</text>
<line x1="596.01" y1="175.4" x2="596.01" y2="173.4" stroke="#333" stroke-width="0.6" />
<line x1="596.01" y1="64.5" x2="596.01" y2="66.5" stroke="#333" stroke-width="0.6" />
<text x="596.01" y="182.4" font-size="5.8" fill="#222" text-anchor="middle" font-weight="normal" >38</text>
<line x1="611.79" y1="175.4" x2="611.79" y2="173.4" stroke="#333" stroke-width="0.6" />
<line x1="611.79" y1="64.5" x2="611.79" y2="66.5" stroke="#333" stroke-width="0.6" />
<text x="611.79" y="182.4" font-size="5.8" fill="#222" text-anchor="middle" font-weight="normal" >40</text>
<line x1="627.57" y1="175.4" x2="627.57" y2="173.4" stroke="#333" stroke-width="0.6" />
<line x1="627.57" y1="64.5" x2="627.57" y2="66.5" stroke="#333" stroke-width="0.6" />
<text x="627.57" y="182.4" font-size="5.8" fill="#222" text-anchor="middle" font-weight="normal" >42</text>
<line x1="643.34" y1="175.4" x2="643.34" y2="173.4" stroke="#333" stroke-width="0.6" />
<line x1="643.34" y1="64.5" x2="643.34" y2="66.5" stroke="#333" stroke-width="0.6" />
<text x="643.34" y="182.4" font-size="5.8" fill="#222" text-anchor="middle" font-weight="normal" >44</text>
<line x1="659.12" y1="175.4" x2="659.12" y2="173.4" stroke="#333" stroke-width="0.6" />
<line x1="659.12" y1="64.5" x2="659.12" y2="66.5" stroke="#333" stroke-width="0.6" />
<text x="659.12" y="182.4" font-size="5.8" fill="#222" text-anchor="middle" font-weight="normal" >46</text>
<line x1="674.9" y1="175.4" x2="674.9" y2="173.4" stroke="#333" stroke-width="0.6" />
<line x1="674.9" y1="64.5" x2="674.9" y2="66.5" stroke="#333" stroke-width="0.6" />
<text x="674.9" y="182.4" font-size="5.8" fill="#222" text-anchor="middle" font-weight="normal" >48</text>
<text x="605.8" y="189.6" font-size="5.3" fill="#222" text-anchor="middle" font-weight="normal" >Frequency / MHz</text>
<text x="517.3" y="125.5" font-size="5.8" fill="#222" text-anchor="middle" transform="rotate(-90 517.3 125.5)">S21 / dB</text>
<clipPath id="clipc"><rect x="532.9" y="64.5" width="142.0" height="110.9"/></clipPath>
<path d="M532.9,158.1 L533.0,158.0 L533.2,157.9 L533.3,157.8 L533.4,157.7 L533.5,156.3 L533.7,155.1 L533.8,154.1 L533.9,153.1 L534.1,152.3 L534.2,151.5 L534.3,150.8 L534.5,150.2 L534.6,149.7 L534.7,149.3 L534.8,148.9 L535.0,148.6 L535.1,148.3 L535.2,148.2 L535.4,148.1 L535.5,148.1 L535.6,148.1 L535.7,148.2 L535.9,148.4 L536.0,148.6 L536.1,148.9 L536.3,149.3 L536.4,149.8 L536.5,150.4 L536.6,151.0 L536.8,151.7 L536.9,152.5 L537.0,153.5 L537.2,154.5 L537.3,155.7 L537.4,157.0 L537.6,158.4 L537.7,160.0 L537.8,161.9 L537.9,163.0 L538.1,163.2 L538.2,163.4 L538.3,163.6 L538.5,163.8 L538.6,163.9 L538.7,164.0 L538.8,164.1 L539.0,164.2 L539.1,164.3 L539.2,164.3 L539.4,164.4 L539.5,164.3 L539.6,164.3 L539.7,164.3 L539.9,164.2 L540.0,164.1 L540.1,164.0 L540.3,163.8 L540.4,161.9 L540.5,159.8 L540.7,158.0 L540.8,156.4 L540.9,154.9 L541.0,153.6 L541.2,152.4 L541.3,151.3 L541.4,150.3 L541.6,149.5 L541.7,148.7 L541.8,148.0 L541.9,147.4 L542.1,146.9 L542.2,146.4 L542.3,146.0 L542.5,145.7 L542.6,145.5 L542.7,145.3 L542.8,145.2 L543.0,145.2 L543.1,145.2 L543.2,145.3 L543.4,145.5 L543.5,145.7 L543.6,146.0 L543.8,146.4 L543.9,146.9 L544.0,147.4 L544.1,148.1 L544.3,148.8 L544.4,149.6 L544.5,150.5 L544.7,151.5 L544.8,152.7 L544.9,153.0 L545.0,152.9 L545.2,152.8 L545.3,152.8 L545.4,152.8 L545.6,152.8 L545.7,152.8 L545.8,152.9 L546.0,153.0 L546.1,153.1 L546.2,153.3 L546.3,153.4 L546.5,153.6 L546.6,153.8 L546.7,154.0 L546.9,154.2 L547.0,154.5 L547.1,154.7 L547.2,155.0 L547.4,155.3 L547.5,155.6 L547.6,155.9 L547.8,156.2 L547.9,156.5 L548.0,156.7 L548.1,154.8 L548.3,153.2 L548.4,151.7 L548.5,150.4 L548.7,149.2 L548.8,148.1 L548.9,147.1 L549.1,146.3 L549.2,145.5 L549.3,144.8 L549.4,144.2 L549.6,143.6 L549.7,143.2 L549.8,142.8 L550.0,142.5 L550.1,142.2 L550.2,142.1 L550.3,142.0 L550.5,141.9 L550.6,141.9 L550.7,142.0 L550.9,142.2 L551.0,142.4 L551.1,142.7 L551.2,143.1 L551.4,143.5 L551.5,144.1 L551.6,144.7 L551.8,145.4 L551.9,146.2 L552.0,147.1 L552.2,148.1 L552.3,149.3 L552.4,150.6 L552.5,152.0 L552.7,153.6 L552.8,155.4 L552.9,156.7 L553.1,156.4 L553.2,156.2 L553.3,155.9 L553.4,155.6 L553.6,155.4 L553.7,155.1 L553.8,154.9 L554.0,154.7 L554.1,154.5 L554.2,154.3 L554.3,154.1 L554.5,154.0 L554.6,153.8 L554.7,153.7 L554.9,153.6 L555.0,153.6 L555.1,153.5 L555.3,153.5 L555.4,153.5 L555.5,153.1 L555.6,151.2 L555.8,149.6 L555.9,148.1 L556.0,146.7 L556.2,145.5 L556.3,144.4 L556.4,143.4 L556.5,142.6 L556.7,141.8 L556.8,141.1 L556.9,140.4 L557.1,139.9 L557.2,139.4 L557.3,139.0 L557.4,138.7 L557.6,138.4 L557.7,138.3 L557.8,138.1 L558.0,138.1 L558.1,138.1 L558.2,138.2 L558.4,138.3 L558.5,138.5 L558.6,138.8 L558.7,139.2 L558.9,139.6 L559.0,140.2 L559.1,140.8 L559.3,141.5 L559.4,142.3 L559.5,143.1 L559.6,144.2 L559.8,145.3 L559.9,146.6 L560.0,148.0 L560.2,149.6 L560.3,151.4 L560.4,153.5 L560.6,155.8 L560.7,158.5 L560.8,161.7 L560.9,162.5 L561.1,162.5 L561.2,162.5 L561.3,162.5 L561.5,162.5 L561.6,162.4 L561.7,162.4 L561.8,162.3 L562.0,162.2 L562.1,162.1 L562.2,162.0 L562.4,161.8 L562.5,158.9 L562.6,155.8 L562.7,153.2 L562.9,150.8 L563.0,148.7 L563.1,146.9 L563.3,145.2 L563.4,143.7 L563.5,142.4 L563.7,141.1 L563.8,140.0 L563.9,139.0 L564.0,138.1 L564.2,137.3 L564.3,136.6 L564.4,136.0 L564.6,135.4 L564.7,134.9 L564.8,134.5 L564.9,134.2 L565.1,133.9 L565.2,133.7 L565.3,133.5 L565.5,133.5 L565.6,133.5 L565.7,133.5 L565.8,133.7 L566.0,133.9 L566.1,134.1 L566.2,134.5 L566.4,134.9 L566.5,135.4 L566.6,136.0 L566.8,136.7 L566.9,137.5 L567.0,138.3 L567.1,139.3 L567.3,140.4 L567.4,141.7 L567.5,143.1 L567.7,144.7 L567.8,146.5 L567.9,148.5 L568.0,150.8 L568.2,153.5 L568.3,156.7 L568.4,160.5 L568.6,161.3 L568.7,161.4 L568.8,161.4 L568.9,161.5 L569.1,161.5 L569.2,161.6 L569.3,161.6 L569.5,161.6 L569.6,161.6 L569.7,161.5 L569.9,157.3 L570.0,153.7 L570.1,150.6 L570.2,147.9 L570.4,145.5 L570.5,143.4 L570.6,141.5 L570.8,139.8 L570.9,138.3 L571.0,136.9 L571.1,135.7 L571.3,134.6 L571.4,133.5 L571.5,132.6 L571.7,131.8 L571.8,131.0 L571.9,130.4 L572.1,129.8 L572.2,129.3 L572.3,128.9 L572.4,128.5 L572.6,128.2 L572.7,128.0 L572.8,127.8 L573.0,127.7 L573.1,127.7 L573.2,127.7 L573.3,127.8 L573.5,128.0 L573.6,128.2 L573.7,128.6 L573.9,129.0 L574.0,129.4 L574.1,130.0 L574.2,130.6 L574.4,131.4 L574.5,132.2 L574.6,133.2 L574.8,134.3 L574.9,135.5 L575.0,136.9 L575.2,138.5 L575.3,140.2 L575.4,142.2 L575.5,144.5 L575.7,147.2 L575.8,150.3 L575.9,153.9 L576.1,154.0 L576.2,154.2 L576.3,154.4 L576.4,154.6 L576.6,154.8 L576.7,155.0 L576.8,155.3 L577.0,155.5 L577.1,155.8 L577.2,154.9 L577.3,150.5 L577.5,146.9 L577.6,143.7 L577.7,141.0 L577.9,138.6 L578.0,136.5 L578.1,134.5 L578.3,132.8 L578.4,131.3 L578.5,129.8 L578.6,128.6 L578.8,127.4 L578.9,126.3 L579.0,125.4 L579.2,124.5 L579.3,123.7 L579.4,123.0 L579.5,122.4 L579.7,121.8 L579.8,121.3 L579.9,120.9 L580.1,120.6 L580.2,120.3 L580.3,120.1 L580.4,120.0 L580.6,119.9 L580.7,119.9 L580.8,119.9 L581.0,120.1 L581.1,120.3 L581.2,120.5 L581.4,120.9 L581.5,121.3 L581.6,121.8 L581.7,122.4 L581.9,123.1 L582.0,123.9 L582.1,124.8 L582.3,125.9 L582.4,127.0 L582.5,128.3 L582.6,129.8 L582.8,131.5 L582.9,133.5 L583.0,135.7 L583.2,138.3 L583.3,141.4 L583.4,145.1 L583.5,149.6 L583.7,153.7 L583.8,153.4 L583.9,153.2 L584.1,153.0 L584.2,152.8 L584.3,152.6 L584.5,152.5 L584.6,150.8 L584.7,145.3 L584.8,140.9 L585.0,137.1 L585.1,133.9 L585.2,131.1 L585.4,128.6 L585.5,126.4 L585.6,124.4 L585.7,122.6 L585.9,120.9 L586.0,119.4 L586.1,118.1 L586.3,116.8 L586.4,115.7 L586.5,114.6 L586.7,113.7 L586.8,112.8 L586.9,112.0 L587.0,111.3 L587.2,110.6 L587.3,110.0 L587.4,109.5 L587.6,109.1 L587.7,108.7 L587.8,108.4 L587.9,108.1 L588.1,107.9 L588.2,107.8 L588.3,107.8 L588.5,107.8 L588.6,107.8 L588.7,108.0 L588.8,108.2 L589.0,108.5 L589.1,108.9 L589.2,109.4 L589.4,109.9 L589.5,110.6 L589.6,111.3 L589.8,112.2 L589.9,113.2 L590.0,114.4 L590.1,115.7 L590.3,117.3 L590.4,119.1 L590.5,121.1 L590.7,123.5 L590.8,126.4 L590.9,129.9 L591.0,134.3 L591.2,139.9 L591.3,147.9 L591.4,160.9 L591.6,166.2 L591.7,166.0 L591.8,152.0 L591.9,155.8 L592.1,146.2 L592.2,137.1 L592.3,128.7 L592.5,121.1 L592.6,114.7 L592.7,109.4 L592.9,105.6 L593.0,102.8 L593.1,100.1 L593.2,97.7 L593.4,95.5 L593.5,93.5 L593.6,91.8 L593.8,90.4 L593.9,89.3 L594.0,88.4 L594.1,87.8 L594.3,87.3 L594.4,86.9 L594.5,86.5 L594.7,86.1 L594.8,85.8 L594.9,85.4 L595.0,85.1 L595.2,84.8 L595.3,84.6 L595.4,84.3 L595.6,84.1 L595.7,83.9 L595.8,83.7 L596.0,83.5 L596.1,83.3 L596.2,83.1 L596.3,83.0 L596.5,82.8 L596.6,82.6 L596.7,82.5 L596.9,82.3 L597.0,82.1 L597.1,82.0 L597.2,81.8 L597.4,81.6 L597.5,81.5 L597.6,81.3 L597.8,81.1 L597.9,80.9 L598.0,80.7 L598.2,80.5 L598.3,80.3 L598.4,80.1 L598.5,80.0 L598.7,79.8 L598.8,79.6 L598.9,79.4 L599.1,79.3 L599.2,79.1 L599.3,78.9 L599.4,78.8 L599.6,78.6 L599.7,78.5 L599.8,78.3 L600.0,78.2 L600.1,78.0 L600.2,77.9 L600.3,77.8 L600.5,77.6 L600.6,77.5 L600.7,77.4 L600.9,77.3 L601.0,77.1 L601.1,77.0 L601.3,76.9 L601.4,76.8 L601.5,76.6 L601.6,76.5 L601.8,76.4 L601.9,76.3 L602.0,76.2 L602.2,76.0 L602.3,75.9 L602.4,75.8 L602.5,75.8 L602.7,75.7 L602.8,75.6 L602.9,75.6 L603.1,75.6 L603.2,75.5 L603.3,75.5 L603.4,75.6 L603.6,75.7 L603.7,75.9 L603.8,76.1 L604.0,76.3 L604.1,76.6 L604.2,77.0 L604.4,77.4 L604.5,77.8 L604.6,78.3 L604.7,78.8 L604.9,79.6 L605.0,80.8 L605.1,82.4 L605.3,84.3 L605.4,86.6 L605.5,89.3 L605.6,93.8 L605.8,100.2 L605.9,108.3 L606.0,117.9 L606.2,128.5 L606.3,140.0 L606.4,152.3 L606.5,153.2 L606.7,153.0 L606.8,146.0 L606.9,136.0 L607.1,129.3 L607.2,124.4 L607.3,120.4 L607.5,117.2 L607.6,114.6 L607.7,112.3 L607.8,110.4 L608.0,108.7 L608.1,107.3 L608.2,106.0 L608.4,104.9 L608.5,103.9 L608.6,103.1 L608.7,102.3 L608.9,101.7 L609.0,101.2 L609.1,100.8 L609.3,100.4 L609.4,100.1 L609.5,99.9 L609.6,99.8 L609.8,99.8 L609.9,99.8 L610.0,99.9 L610.2,100.0 L610.3,100.2 L610.4,100.5 L610.6,100.8 L610.7,101.2 L610.8,101.7 L610.9,102.2 L611.1,102.8 L611.2,103.5 L611.3,104.3 L611.5,105.1 L611.6,106.0 L611.7,107.0 L611.8,108.1 L612.0,109.3 L612.1,110.6 L612.2,112.1 L612.4,113.6 L612.5,115.3 L612.6,117.2 L612.8,119.3 L612.9,121.7 L613.0,124.3 L613.1,127.3 L613.3,130.7 L613.4,134.8 L613.5,139.7 L613.7,146.0 L613.8,154.5 L613.9,158.7 L614.0,158.8 L614.2,158.8 L614.3,158.9 L614.4,151.1 L614.6,144.2 L614.7,139.1 L614.8,135.0 L614.9,131.7 L615.1,128.9 L615.2,126.4 L615.3,124.4 L615.5,122.5 L615.6,120.9 L615.7,119.5 L615.9,118.3 L616.0,117.2 L616.1,116.2 L616.2,115.4 L616.4,114.6 L616.5,114.0 L616.6,113.4 L616.8,112.9 L616.9,112.5 L617.0,112.2 L617.1,112.0 L617.3,111.8 L617.4,111.7 L617.5,111.7 L617.7,111.8 L617.8,111.9 L617.9,112.0 L618.0,112.3 L618.2,112.6 L618.3,113.0 L618.4,113.4 L618.6,113.9 L618.7,114.5 L618.8,115.2 L619.0,115.9 L619.1,116.7 L619.2,117.6 L619.3,118.7 L619.5,119.8 L619.6,121.0 L619.7,122.3 L619.9,123.8 L620.0,125.5 L620.1,127.3 L620.2,129.3 L620.4,131.6 L620.5,134.1 L620.6,137.0 L620.8,140.4 L620.9,144.4 L621.0,149.3 L621.1,155.4 L621.3,160.3 L621.4,160.1 L621.5,159.9 L621.7,159.7 L621.8,159.5 L621.9,159.3 L622.1,153.3 L622.2,148.1 L622.3,143.9 L622.4,140.5 L622.6,137.7 L622.7,135.2 L622.8,133.0 L623.0,131.2 L623.1,129.5 L623.2,128.0 L623.3,126.7 L623.5,125.6 L623.6,124.6 L623.7,123.6 L623.9,122.9 L624.0,122.2 L624.1,121.5 L624.3,121.0 L624.4,120.6 L624.5,120.2 L624.6,119.9 L624.8,119.7 L624.9,119.6 L625.0,119.5 L625.2,119.5 L625.3,119.6 L625.4,119.7 L625.5,119.9 L625.7,120.2 L625.8,120.5 L625.9,120.9 L626.1,121.4 L626.2,121.9 L626.3,122.5 L626.4,123.2 L626.6,124.0 L626.7,124.9 L626.8,125.9 L627.0,126.9 L627.1,128.1 L627.2,129.4 L627.4,130.9 L627.5,132.5 L627.6,134.3 L627.7,136.2 L627.9,138.5 L628.0,141.0 L628.1,143.9 L628.3,147.2 L628.4,151.2 L628.5,156.0 L628.6,162.1 L628.8,162.8 L628.9,162.9 L629.0,163.0 L629.2,163.0 L629.3,163.1 L629.4,163.1 L629.5,159.8 L629.7,154.5 L629.8,150.4 L629.9,146.9 L630.1,144.0 L630.2,141.5 L630.3,139.3 L630.5,137.4 L630.6,135.7 L630.7,134.2 L630.8,132.9 L631.0,131.7 L631.1,130.7 L631.2,129.7 L631.4,128.9 L631.5,128.2 L631.6,127.5 L631.7,127.0 L631.9,126.5 L632.0,126.1 L632.1,125.8 L632.3,125.6 L632.4,125.4 L632.5,125.3 L632.6,125.3 L632.8,125.3 L632.9,125.4 L633.0,125.6 L633.2,125.8 L633.3,126.1 L633.4,126.5 L633.6,127.0 L633.7,127.5 L633.8,128.1 L633.9,128.8 L634.1,129.5 L634.2,130.4 L634.3,131.3 L634.5,132.4 L634.6,133.5 L634.7,134.8 L634.8,136.3 L635.0,137.8 L635.1,139.6 L635.2,141.6 L635.4,143.8 L635.5,146.3 L635.6,149.1 L635.7,149.4 L635.9,149.5 L636.0,149.7 L636.1,149.9 L636.3,150.2 L636.4,150.4 L636.5,150.8 L636.7,151.1 L636.8,151.5 L636.9,151.9 L637.0,152.3 L637.2,152.7 L637.3,153.2 L637.4,151.9 L637.6,149.0 L637.7,146.4 L637.8,144.3 L637.9,142.3 L638.1,140.6 L638.2,139.1 L638.3,137.8 L638.5,136.6 L638.6,135.5 L638.7,134.5 L638.9,133.7 L639.0,132.9 L639.1,132.3 L639.2,131.7 L639.4,131.2 L639.5,130.8 L639.6,130.5 L639.8,130.3 L639.9,130.1 L640.0,130.0 L640.1,129.9 L640.3,129.9 L640.4,130.0 L640.5,130.2 L640.7,130.4 L640.8,130.7 L640.9,131.0 L641.0,131.5 L641.2,132.0 L641.3,132.6 L641.4,133.2 L641.6,134.0 L641.7,134.8 L641.8,135.7 L642.0,136.8 L642.1,137.9 L642.2,139.2 L642.3,140.6 L642.5,142.2 L642.6,143.9 L642.7,145.9 L642.9,148.1 L643.0,150.5 L643.1,153.4 L643.2,156.7 L643.4,159.7 L643.5,159.3 L643.6,158.9 L643.8,158.5 L643.9,158.0 L644.0,157.6 L644.1,157.2 L644.3,156.8 L644.4,156.4 L644.5,156.1 L644.7,155.7 L644.8,155.4 L644.9,155.1 L645.1,153.0 L645.2,150.5 L645.3,148.3 L645.4,146.4 L645.6,144.6 L645.7,143.1 L645.8,141.8 L646.0,140.5 L646.1,139.5 L646.2,138.5 L646.3,137.6 L646.5,136.9 L646.6,136.2 L646.7,135.6 L646.9,135.1 L647.0,134.7 L647.1,134.4 L647.2,134.1 L647.4,133.9 L647.5,133.8 L647.6,133.7 L647.8,133.8 L647.9,133.8 L648.0,134.0 L648.2,134.2 L648.3,134.5 L648.4,134.8 L648.5,135.2 L648.7,135.7 L648.8,136.3 L648.9,137.0 L649.1,137.7 L649.2,138.5 L649.3,139.4 L649.4,140.5 L649.6,141.6 L649.7,142.9 L649.8,144.3 L650.0,145.8 L650.1,147.5 L650.2,149.5 L650.4,151.7 L650.5,154.1 L650.6,157.0 L650.7,160.3 L650.9,164.1 L651.0,165.5 L651.1,165.7 L651.3,165.8 L651.4,165.9 L651.5,166.0 L651.6,166.0 L651.8,166.0 L651.9,166.0 L652.0,165.9 L652.2,165.8 L652.3,163.0 L652.4,159.5 L652.5,156.5 L652.7,154.0 L652.8,151.7 L652.9,149.8 L653.1,148.1 L653.2,146.5 L653.3,145.2 L653.5,143.9 L653.6,142.8 L653.7,141.9 L653.8,141.0 L654.0,140.2 L654.1,139.6 L654.2,139.0 L654.4,138.5 L654.5,138.1 L654.6,137.7 L654.7,137.4 L654.9,137.2 L655.0,137.1 L655.1,137.0 L655.3,137.0 L655.4,137.1 L655.5,137.2 L655.6,137.4 L655.8,137.7 L655.9,138.0 L656.0,138.5 L656.2,138.9 L656.3,139.5 L656.4,140.2 L656.6,140.9 L656.7,141.7 L656.8,142.6 L656.9,143.6 L657.1,144.8 L657.2,146.0 L657.3,147.4 L657.5,149.0 L657.6,150.7 L657.7,152.6 L657.8,154.0 L658.0,154.1 L658.1,154.1 L658.2,154.2 L658.4,154.3 L658.5,154.4 L658.6,154.5 L658.7,154.6 L658.9,154.7 L659.0,154.9 L659.1,155.0 L659.3,155.2 L659.4,155.4 L659.5,155.5 L659.7,155.7 L659.8,155.9 L659.9,156.1 L660.0,156.2 L660.2,156.4 L660.3,154.7 L660.4,152.8 L660.6,151.1 L660.7,149.5 L660.8,148.1 L660.9,146.9 L661.1,145.8 L661.2,144.8 L661.3,143.9 L661.5,143.2 L661.6,142.5 L661.7,141.9 L661.8,141.4 L662.0,141.0 L662.1,140.6 L662.2,140.3 L662.4,140.1 L662.5,140.0 L662.6,139.9 L662.8,139.9 L662.9,140.0 L663.0,140.1 L663.1,140.3 L663.3,140.6 L663.4,140.9 L663.5,141.3 L663.7,141.8 L663.8,142.3 L663.9,143.0 L664.0,143.7 L664.2,144.5 L664.3,145.4 L664.4,146.4 L664.6,147.5 L664.7,148.8 L664.8,150.2 L665.0,151.7 L665.1,153.4 L665.2,155.4 L665.3,155.7 L665.5,155.6 L665.6,155.6 L665.7,155.5 L665.9,155.5 L666.0,155.5 L666.1,155.5 L666.2,155.4 L666.4,155.5 L666.5,155.5 L666.6,155.5 L666.8,155.6 L666.9,155.6 L667.0,155.7 L667.1,155.8 L667.3,155.8 L667.4,155.9 L667.5,156.1 L667.7,156.2 L667.8,156.3 L667.9,155.4 L668.1,153.7 L668.2,152.1 L668.3,150.8 L668.4,149.5 L668.6,148.4 L668.7,147.4 L668.8,146.6 L669.0,145.8 L669.1,145.1 L669.2,144.5 L669.3,144.0 L669.5,143.5 L669.6,143.2 L669.7,142.9 L669.9,142.7 L670.0,142.5 L670.1,142.5 L670.2,142.4 L670.4,142.5 L670.5,142.6 L670.6,142.8 L670.8,143.1 L670.9,143.4 L671.0,143.8 L671.2,144.3 L671.3,144.8 L671.4,145.5 L671.5,146.2 L671.7,147.0 L671.8,147.9 L671.9,148.9 L672.1,150.0 L672.2,151.3 L672.3,152.6 L672.4,154.2 L672.6,155.9 L672.7,157.8 L672.8,158.9 L673.0,158.8 L673.1,158.7 L673.2,158.6 L673.3,158.5 L673.5,158.4 L673.6,158.3 L673.7,158.2 L673.9,158.1 L674.0,158.1 L674.1,158.0 L674.3,157.9 L674.4,157.9 L674.5,157.8 L674.6,157.8 L674.8,157.8 L674.9,157.8" fill="none" stroke="#ee8656" stroke-width="0.7" stroke-linejoin="round" clip-path="url(#clipc)"/>
<path d="M532.9,140.7 L533.0,140.7 L533.2,140.7 L533.3,140.7 L533.4,140.8 L533.5,140.9 L533.7,140.9 L533.8,141.0 L533.9,141.1 L534.1,141.3 L534.2,141.4 L534.3,141.6 L534.5,141.8 L534.6,142.0 L534.7,142.3 L534.8,142.5 L535.0,142.8 L535.1,143.1 L535.2,143.4 L535.4,143.8 L535.5,144.2 L535.6,144.6 L535.7,145.0 L535.9,145.4 L536.0,145.9 L536.1,146.4 L536.3,147.0 L536.4,147.6 L536.5,148.2 L536.6,148.2 L536.8,148.2 L536.9,148.3 L537.0,148.4 L537.2,148.5 L537.3,148.7 L537.4,148.9 L537.6,149.1 L537.7,149.3 L537.8,149.6 L537.9,149.8 L538.1,150.1 L538.2,150.4 L538.3,150.8 L538.5,151.1 L538.6,151.5 L538.7,151.9 L538.8,152.3 L539.0,152.7 L539.1,153.1 L539.2,153.5 L539.4,154.0 L539.5,154.4 L539.6,154.9 L539.7,155.3 L539.9,155.8 L540.0,156.3 L540.1,156.7 L540.3,157.2 L540.4,157.6 L540.5,158.1 L540.7,158.5 L540.8,159.0 L540.9,159.4 L541.0,159.8 L541.2,160.2 L541.3,160.6 L541.4,160.9 L541.6,161.3 L541.7,161.1 L541.8,159.4 L541.9,157.9 L542.1,156.5 L542.2,155.1 L542.3,153.9 L542.5,152.7 L542.6,151.6 L542.7,150.6 L542.8,149.6 L543.0,148.6 L543.1,147.8 L543.2,146.9 L543.4,146.1 L543.5,145.4 L543.6,144.7 L543.8,144.0 L543.9,143.3 L544.0,142.7 L544.1,142.1 L544.3,141.6 L544.4,141.1 L544.5,140.6 L544.7,140.1 L544.8,139.6 L544.9,139.2 L545.0,138.8 L545.2,138.4 L545.3,138.1 L545.4,137.7 L545.6,137.4 L545.7,137.1 L545.8,136.8 L546.0,136.6 L546.1,136.4 L546.2,136.1 L546.3,135.9 L546.5,135.8 L546.6,135.6 L546.7,135.4 L546.9,135.3 L547.0,135.2 L547.1,135.1 L547.2,135.0 L547.4,135.0 L547.5,134.9 L547.6,134.9 L547.8,134.9 L547.9,134.9 L548.0,135.0 L548.1,135.0 L548.3,135.1 L548.4,135.2 L548.5,135.3 L548.7,135.4 L548.8,135.5 L548.9,135.7 L549.1,135.9 L549.2,136.1 L549.3,136.3 L549.4,136.6 L549.6,136.8 L549.7,137.1 L549.8,137.4 L550.0,137.8 L550.1,138.1 L550.2,138.5 L550.3,138.9 L550.5,139.4 L550.6,139.8 L550.7,140.3 L550.9,140.9 L551.0,141.4 L551.1,142.1 L551.2,142.7 L551.4,143.4 L551.5,144.1 L551.6,144.9 L551.8,145.7 L551.9,146.6 L552.0,147.5 L552.2,148.5 L552.3,149.6 L552.4,150.7 L552.5,152.0 L552.7,153.3 L552.8,154.7 L552.9,154.8 L553.1,154.8 L553.2,154.9 L553.3,155.0 L553.4,155.1 L553.6,155.2 L553.7,155.2 L553.8,155.3 L554.0,155.4 L554.1,155.5 L554.2,155.6 L554.3,155.6 L554.5,155.7 L554.6,155.8 L554.7,155.9 L554.9,156.0 L555.0,156.1 L555.1,156.2 L555.3,156.2 L555.4,156.3 L555.5,156.4 L555.6,156.5 L555.8,156.6 L555.9,156.7 L556.0,156.7 L556.2,156.0 L556.3,154.2 L556.4,152.5 L556.5,151.0 L556.7,149.5 L556.8,148.2 L556.9,146.9 L557.1,145.7 L557.2,144.6 L557.3,143.5 L557.4,142.5 L557.6,141.6 L557.7,140.7 L557.8,139.8 L558.0,139.0 L558.1,138.3 L558.2,137.5 L558.4,136.8 L558.5,136.2 L558.6,135.5 L558.7,134.9 L558.9,134.4 L559.0,133.8 L559.1,133.3 L559.3,132.8 L559.4,132.3 L559.5,131.9 L559.6,131.5 L559.8,131.1 L559.9,130.7 L560.0,130.3 L560.2,130.0 L560.3,129.7 L560.4,129.4 L560.6,129.1 L560.7,128.9 L560.8,128.6 L560.9,128.4 L561.1,128.2 L561.2,128.0 L561.3,127.8 L561.5,127.7 L561.6,127.6 L561.7,127.4 L561.8,127.3 L562.0,127.3 L562.1,127.2 L562.2,127.2 L562.4,127.1 L562.5,127.1 L562.6,127.1 L562.7,127.2 L562.9,127.2 L563.0,127.3 L563.1,127.4 L563.3,127.5 L563.4,127.6 L563.5,127.7 L563.7,127.9 L563.8,128.0 L563.9,128.2 L564.0,128.5 L564.2,128.7 L564.3,129.0 L564.4,129.3 L564.6,129.6 L564.7,129.9 L564.8,130.3 L564.9,130.7 L565.1,131.1 L565.2,131.5 L565.3,132.0 L565.5,132.5 L565.6,133.0 L565.7,133.6 L565.8,134.2 L566.0,134.9 L566.1,135.6 L566.2,136.3 L566.4,137.1 L566.5,138.0 L566.6,138.9 L566.8,139.9 L566.9,140.9 L567.0,142.0 L567.1,143.2 L567.3,144.6 L567.4,146.0 L567.5,147.5 L567.7,149.2 L567.8,151.0 L567.9,151.1 L568.0,151.1 L568.2,151.2 L568.3,151.3 L568.4,151.4 L568.6,151.5 L568.7,151.7 L568.8,151.8 L568.9,152.0 L569.1,152.2 L569.2,152.4 L569.3,152.7 L569.5,152.9 L569.6,153.2 L569.7,153.5 L569.9,153.8 L570.0,154.1 L570.1,154.4 L570.2,154.8 L570.4,152.8 L570.5,150.4 L570.6,148.2 L570.8,146.2 L570.9,144.4 L571.0,142.7 L571.1,141.1 L571.3,139.6 L571.4,138.2 L571.5,136.9 L571.7,135.7 L571.8,134.5 L571.9,133.4 L572.1,132.4 L572.2,131.4 L572.3,130.5 L572.4,129.6 L572.6,128.7 L572.7,127.9 L572.8,127.2 L573.0,126.4 L573.1,125.7 L573.2,125.0 L573.3,124.4 L573.5,123.8 L573.6,123.2 L573.7,122.6 L573.9,122.1 L574.0,121.6 L574.1,121.1 L574.2,120.6 L574.4,120.2 L574.5,119.8 L574.6,119.4 L574.8,119.0 L574.9,118.6 L575.0,118.3 L575.2,117.9 L575.3,117.6 L575.4,117.3 L575.5,117.1 L575.7,116.8 L575.8,116.6 L575.9,116.4 L576.1,116.2 L576.2,116.0 L576.3,115.8 L576.4,115.7 L576.6,115.5 L576.7,115.4 L576.8,115.3 L577.0,115.2 L577.1,115.2 L577.2,115.1 L577.3,115.1 L577.5,115.1 L577.6,115.1 L577.7,115.1 L577.9,115.2 L578.0,115.2 L578.1,115.3 L578.3,115.4 L578.4,115.5 L578.5,115.6 L578.6,115.8 L578.8,116.0 L578.9,116.2 L579.0,116.4 L579.2,116.7 L579.3,116.9 L579.4,117.2 L579.5,117.5 L579.7,117.9 L579.8,118.3 L579.9,118.7 L580.1,119.1 L580.2,119.6 L580.3,120.1 L580.4,120.6 L580.6,121.2 L580.7,121.8 L580.8,122.5 L581.0,123.2 L581.1,124.0 L581.2,124.8 L581.4,125.7 L581.5,126.7 L581.6,127.8 L581.7,128.9 L581.9,130.1 L582.0,131.4 L582.1,132.9 L582.3,134.5 L582.4,136.3 L582.5,138.3 L582.6,140.5 L582.8,143.0 L582.9,145.9 L583.0,149.3 L583.2,153.1 L583.3,153.3 L583.4,153.5 L583.5,153.7 L583.7,153.8 L583.8,151.2 L583.9,148.8 L584.1,146.5 L584.2,144.2 L584.3,141.9 L584.5,139.7 L584.6,137.5 L584.7,135.4 L584.8,133.4 L585.0,131.4 L585.1,129.5 L585.2,127.6 L585.4,125.8 L585.5,124.0 L585.6,122.3 L585.7,120.7 L585.9,119.1 L586.0,117.6 L586.1,116.2 L586.3,114.9 L586.4,113.6 L586.5,112.4 L586.7,111.2 L586.8,110.1 L586.9,109.0 L587.0,108.0 L587.2,107.0 L587.3,106.0 L587.4,105.1 L587.6,104.2 L587.7,103.4 L587.8,102.6 L587.9,101.8 L588.1,101.1 L588.2,100.4 L588.3,99.8 L588.5,99.2 L588.6,98.7 L588.7,98.2 L588.8,97.7 L589.0,97.3 L589.1,96.8 L589.2,96.4 L589.4,96.0 L589.5,95.6 L589.6,95.2 L589.8,94.9 L589.9,94.5 L590.0,94.2 L590.1,93.9 L590.3,93.5 L590.4,93.2 L590.5,92.9 L590.7,92.6 L590.8,92.3 L590.9,92.0 L591.0,91.7 L591.2,91.3 L591.3,91.0 L591.4,90.7 L591.6,90.4 L591.7,90.1 L591.8,89.7 L591.9,89.4 L592.1,89.1 L592.2,88.8 L592.3,88.5 L592.5,88.2 L592.6,87.9 L592.7,87.6 L592.9,87.3 L593.0,87.0 L593.1,86.7 L593.2,86.5 L593.4,86.2 L593.5,85.9 L593.6,85.7 L593.8,85.4 L593.9,85.2 L594.0,84.9 L594.1,84.7 L594.3,84.5 L594.4,84.3 L594.5,84.1 L594.7,83.8 L594.8,83.6 L594.9,83.4 L595.0,83.2 L595.2,83.0 L595.3,82.8 L595.4,82.7 L595.6,82.5 L595.7,82.3 L595.8,82.1 L596.0,81.9 L596.1,81.7 L596.2,81.6 L596.3,81.4 L596.5,81.2 L596.6,81.1 L596.7,80.9 L596.9,80.7 L597.0,80.6 L597.1,80.4 L597.2,80.3 L597.4,80.1 L597.5,80.0 L597.6,79.8 L597.8,79.7 L597.9,79.5 L598.0,79.4 L598.2,79.2 L598.3,79.1 L598.4,78.9 L598.5,78.8 L598.7,78.6 L598.8,78.5 L598.9,78.3 L599.1,78.2 L599.2,78.1 L599.3,77.9 L599.4,77.8 L599.6,77.7 L599.7,77.6 L599.8,77.5 L600.0,77.3 L600.1,77.2 L600.2,77.2 L600.3,77.1 L600.5,77.0 L600.6,76.9 L600.7,76.9 L600.9,76.8 L601.0,76.7 L601.1,76.7 L601.3,76.6 L601.4,76.6 L601.5,76.5 L601.6,76.5 L601.8,76.4 L601.9,76.4 L602.0,76.3 L602.2,76.3 L602.3,76.3 L602.4,76.2 L602.5,76.2 L602.7,76.2 L602.8,76.1 L602.9,76.1 L603.1,76.1 L603.2,76.1 L603.3,76.1 L603.4,76.1 L603.6,76.1 L603.7,76.1 L603.8,76.2 L604.0,76.2 L604.1,76.3 L604.2,76.5 L604.4,76.6 L604.5,76.8 L604.6,77.0 L604.7,77.2 L604.9,77.4 L605.0,77.6 L605.1,77.9 L605.3,78.2 L605.4,78.4 L605.5,78.7 L605.6,79.0 L605.8,79.3 L605.9,79.6 L606.0,79.9 L606.2,80.2 L606.3,80.5 L606.4,80.8 L606.5,81.1 L606.7,81.4 L606.8,81.7 L606.9,82.0 L607.1,82.3 L607.2,82.5 L607.3,82.8 L607.5,83.0 L607.6,83.3 L607.7,83.5 L607.8,83.7 L608.0,84.0 L608.1,84.2 L608.2,84.4 L608.4,84.6 L608.5,84.8 L608.6,85.1 L608.7,85.3 L608.9,85.5 L609.0,85.8 L609.1,86.0 L609.3,86.3 L609.4,86.6 L609.5,86.9 L609.6,87.2 L609.8,87.6 L609.9,87.9 L610.0,88.3 L610.2,88.7 L610.3,89.1 L610.4,89.6 L610.6,90.1 L610.7,90.6 L610.8,91.2 L610.9,91.7 L611.1,92.4 L611.2,93.0 L611.3,93.7 L611.5,94.5 L611.6,95.3 L611.7,96.9 L611.8,99.5 L612.0,102.8 L612.1,106.9 L612.2,111.5 L612.4,116.6 L612.5,122.0 L612.6,127.5 L612.8,133.1 L612.9,138.6 L613.0,151.4 L613.1,151.4 L613.3,151.4 L613.4,151.4 L613.5,146.5 L613.7,141.9 L613.8,138.1 L613.9,135.0 L614.0,132.3 L614.2,129.9 L614.3,127.8 L614.4,125.9 L614.6,124.3 L614.7,122.7 L614.8,121.3 L614.9,120.0 L615.1,118.9 L615.2,117.8 L615.3,116.8 L615.5,115.8 L615.6,115.0 L615.7,114.2 L615.9,113.4 L616.0,112.7 L616.1,112.1 L616.2,111.5 L616.4,110.9 L616.5,110.4 L616.6,109.9 L616.8,109.4 L616.9,109.0 L617.0,108.6 L617.1,108.2 L617.3,107.9 L617.4,107.6 L617.5,107.3 L617.7,107.1 L617.8,106.8 L617.9,106.6 L618.0,106.4 L618.2,106.2 L618.3,106.1 L618.4,106.0 L618.6,105.9 L618.7,105.8 L618.8,105.7 L619.0,105.7 L619.1,105.6 L619.2,105.6 L619.3,105.6 L619.5,105.6 L619.6,105.7 L619.7,105.7 L619.9,105.8 L620.0,105.9 L620.1,106.0 L620.2,106.1 L620.4,106.3 L620.5,106.4 L620.6,106.6 L620.8,106.8 L620.9,107.0 L621.0,107.2 L621.1,107.5 L621.3,107.7 L621.4,108.0 L621.5,108.3 L621.7,108.6 L621.8,108.9 L621.9,109.3 L622.1,109.7 L622.2,110.1 L622.3,110.5 L622.4,110.9 L622.6,111.4 L622.7,111.8 L622.8,112.3 L623.0,112.9 L623.1,113.4 L623.2,114.0 L623.3,114.6 L623.5,115.2 L623.6,115.9 L623.7,116.6 L623.9,117.3 L624.0,118.0 L624.1,118.8 L624.3,119.7 L624.4,120.5 L624.5,121.4 L624.6,122.4 L624.8,123.4 L624.9,124.5 L625.0,125.6 L625.2,126.8 L625.3,128.1 L625.4,129.4 L625.5,130.8 L625.7,132.3 L625.8,134.0 L625.9,135.8 L626.1,137.7 L626.2,139.8 L626.3,142.1 L626.4,144.6 L626.6,147.5 L626.7,150.7 L626.8,154.5 L627.0,156.5 L627.1,156.6 L627.2,156.7 L627.4,156.8 L627.5,157.0 L627.6,157.1 L627.7,157.2 L627.9,157.3 L628.0,157.4 L628.1,157.6 L628.3,157.0 L628.4,153.2 L628.5,150.0 L628.6,147.2 L628.8,144.8 L628.9,142.6 L629.0,140.6 L629.2,138.9 L629.3,137.3 L629.4,135.8 L629.5,134.4 L629.7,133.2 L629.8,132.0 L629.9,130.9 L630.1,129.9 L630.2,129.0 L630.3,128.1 L630.5,127.3 L630.6,126.5 L630.7,125.8 L630.8,125.1 L631.0,124.5 L631.1,123.9 L631.2,123.3 L631.4,122.8 L631.5,122.3 L631.6,121.8 L631.7,121.4 L631.9,121.0 L632.0,120.6 L632.1,120.3 L632.3,119.9 L632.4,119.6 L632.5,119.4 L632.6,119.1 L632.8,118.9 L632.9,118.7 L633.0,118.5 L633.2,118.3 L633.3,118.2 L633.4,118.0 L633.6,117.9 L633.7,117.8 L633.8,117.8 L633.9,117.7 L634.1,117.7 L634.2,117.6 L634.3,117.6 L634.5,117.7 L634.6,117.7 L634.7,117.7 L634.8,117.8 L635.0,117.9 L635.1,118.0 L635.2,118.1 L635.4,118.3 L635.5,118.4 L635.6,118.6 L635.7,118.8 L635.9,119.0 L636.0,119.2 L636.1,119.5 L636.3,119.8 L636.4,120.0 L636.5,120.3 L636.7,120.7 L636.8,121.0 L636.9,121.4 L637.0,121.8 L637.2,122.2 L637.3,122.6 L637.4,123.1 L637.6,123.5 L637.7,124.1 L637.8,124.6 L637.9,125.1 L638.1,125.7 L638.2,126.3 L638.3,127.0 L638.5,127.7 L638.6,128.4 L638.7,129.1 L638.9,129.9 L639.0,130.8 L639.1,131.6 L639.2,132.6 L639.4,133.5 L639.5,134.6 L639.6,135.6 L639.8,136.8 L639.9,138.0 L640.0,139.3 L640.1,140.7 L640.3,142.2 L640.4,143.8 L640.5,145.6 L640.7,147.5 L640.8,149.5 L640.9,151.8 L641.0,154.3 L641.2,156.5 L641.3,156.3 L641.4,156.1 L641.6,155.9 L641.7,155.7 L641.8,155.6 L642.0,155.4 L642.1,155.2 L642.2,155.0 L642.3,154.8 L642.5,154.6 L642.6,154.4 L642.7,154.2 L642.9,154.0 L643.0,153.9 L643.1,153.7 L643.2,153.5 L643.4,153.4 L643.5,151.4 L643.6,149.5 L643.8,147.7 L643.9,146.0 L644.0,144.5 L644.1,143.2 L644.3,141.9 L644.4,140.7 L644.5,139.6 L644.7,138.5 L644.8,137.6 L644.9,136.7 L645.1,135.8 L645.2,135.0 L645.3,134.3 L645.4,133.6 L645.6,132.9 L645.7,132.3 L645.8,131.7 L646.0,131.1 L646.1,130.6 L646.2,130.1 L646.3,129.7 L646.5,129.2 L646.6,128.8 L646.7,128.5 L646.9,128.1 L647.0,127.8 L647.1,127.5 L647.2,127.2 L647.4,127.0 L647.5,126.7 L647.6,126.5 L647.8,126.3 L647.9,126.1 L648.0,126.0 L648.2,125.9 L648.3,125.7 L648.4,125.6 L648.5,125.6 L648.7,125.5 L648.8,125.5 L648.9,125.4 L649.1,125.4 L649.2,125.4 L649.3,125.5 L649.4,125.5 L649.6,125.6 L649.7,125.7 L649.8,125.8 L650.0,125.9 L650.1,126.0 L650.2,126.2 L650.4,126.4 L650.5,126.5 L650.6,126.7 L650.7,127.0 L650.9,127.2 L651.0,127.5 L651.1,127.8 L651.3,128.1 L651.4,128.4 L651.5,128.7 L651.6,129.1 L651.8,129.5 L651.9,129.9 L652.0,130.4 L652.2,130.8 L652.3,131.3 L652.4,131.8 L652.5,132.4 L652.7,132.9 L652.8,133.5 L652.9,134.2 L653.1,134.8 L653.2,135.5 L653.3,136.2 L653.5,137.0 L653.6,137.8 L653.7,138.7 L653.8,139.6 L654.0,140.5 L654.1,141.6 L654.2,142.6 L654.4,143.8 L654.5,145.0 L654.6,146.3 L654.7,147.7 L654.9,149.1 L655.0,150.7 L655.1,152.5 L655.3,154.3 L655.4,156.4 L655.5,156.6 L655.6,156.5 L655.8,156.5 L655.9,156.4 L656.0,156.3 L656.2,156.3 L656.3,156.3 L656.4,156.2 L656.6,156.2 L656.7,156.2 L656.8,156.2 L656.9,156.2 L657.1,156.3 L657.2,156.3 L657.3,156.3 L657.5,156.4 L657.6,156.5 L657.7,156.5 L657.8,156.6 L658.0,156.7 L658.1,156.8 L658.2,155.8 L658.4,154.0 L658.5,152.3 L658.6,150.8 L658.7,149.4 L658.9,148.1 L659.0,146.9 L659.1,145.8 L659.3,144.8 L659.4,143.8 L659.5,142.9 L659.7,142.0 L659.8,141.2 L659.9,140.4 L660.0,139.7 L660.2,139.0 L660.3,138.4 L660.4,137.8 L660.6,137.2 L660.7,136.7 L660.8,136.2 L660.9,135.7 L661.1,135.3 L661.2,134.9 L661.3,134.5 L661.5,134.1 L661.6,133.8 L661.7,133.5 L661.8,133.2 L662.0,132.9 L662.1,132.7 L662.2,132.4 L662.4,132.2 L662.5,132.0 L662.6,131.9 L662.8,131.7 L662.9,131.6 L663.0,131.5 L663.1,131.4 L663.3,131.3 L663.4,131.3 L663.5,131.2 L663.7,131.2 L663.8,131.2 L663.9,131.2 L664.0,131.3 L664.2,131.3 L664.3,131.4 L664.4,131.5 L664.6,131.6 L664.7,131.7 L664.8,131.9 L665.0,132.0 L665.1,132.2 L665.2,132.4 L665.3,132.6 L665.5,132.8 L665.6,133.1 L665.7,133.4 L665.9,133.7 L666.0,134.0 L666.1,134.3 L666.2,134.7 L666.4,135.1 L666.5,135.5 L666.6,135.9 L666.8,136.3 L666.9,136.8 L667.0,137.3 L667.1,137.8 L667.3,138.4 L667.4,139.0 L667.5,139.6 L667.7,140.3 L667.8,140.9 L667.9,141.7 L668.1,142.4 L668.2,143.2 L668.3,144.1 L668.4,145.0 L668.6,145.9 L668.7,146.9 L668.8,148.0 L669.0,149.1 L669.1,150.3 L669.2,151.6 L669.3,153.0 L669.5,154.5 L669.6,155.6 L669.7,155.7 L669.9,155.7 L670.0,155.8 L670.1,155.9 L670.2,156.0 L670.4,156.1 L670.5,156.2 L670.6,156.3 L670.8,156.4 L670.9,156.5 L671.0,156.5 L671.2,156.6 L671.3,156.7 L671.4,156.8 L671.5,156.8 L671.7,156.9 L671.8,156.9 L671.9,157.0 L672.1,157.0 L672.2,157.1 L672.3,157.1 L672.4,157.1 L672.6,157.1 L672.7,157.1 L672.8,157.1 L673.0,157.1 L673.1,157.0 L673.2,155.7 L673.3,154.3 L673.5,153.0 L673.6,151.8 L673.7,150.7 L673.9,149.6 L674.0,148.6 L674.1,147.7 L674.3,146.9 L674.4,146.0 L674.5,145.3 L674.6,144.5 L674.8,143.9 L674.9,143.2" fill="none" stroke="#9cc76c" stroke-width="0.7" stroke-linejoin="round" clip-path="url(#clipc)"/>
<path d="M532.9,137.4 L533.0,137.5 L533.2,137.6 L533.3,137.8 L533.4,137.9 L533.5,138.0 L533.7,138.1 L533.8,138.2 L533.9,138.3 L534.1,138.4 L534.2,138.5 L534.3,138.6 L534.5,138.8 L534.6,138.9 L534.7,139.0 L534.8,139.1 L535.0,139.1 L535.1,139.2 L535.2,139.3 L535.4,139.4 L535.5,139.5 L535.6,139.6 L535.7,139.7 L535.9,139.8 L536.0,139.8 L536.1,139.9 L536.3,140.0 L536.4,140.1 L536.5,140.2 L536.6,140.3 L536.8,140.3 L536.9,140.4 L537.0,140.5 L537.2,140.5 L537.3,140.6 L537.4,140.7 L537.6,140.7 L537.7,140.8 L537.8,140.8 L537.9,140.8 L538.1,140.9 L538.2,140.9 L538.3,140.9 L538.5,140.9 L538.6,140.9 L538.7,141.0 L538.8,141.0 L539.0,141.0 L539.1,140.9 L539.2,140.9 L539.4,140.9 L539.5,140.9 L539.6,140.8 L539.7,140.8 L539.9,140.7 L540.0,140.7 L540.1,140.6 L540.3,140.5 L540.4,140.4 L540.5,140.3 L540.7,140.2 L540.8,140.0 L540.9,139.9 L541.0,139.7 L541.2,139.5 L541.3,139.4 L541.4,139.2 L541.6,139.0 L541.7,138.8 L541.8,138.6 L541.9,138.4 L542.1,138.1 L542.2,137.9 L542.3,137.7 L542.5,137.5 L542.6,137.3 L542.7,137.1 L542.8,136.8 L543.0,136.6 L543.1,136.4 L543.2,136.2 L543.4,136.0 L543.5,135.9 L543.6,135.7 L543.8,135.5 L543.9,135.4 L544.0,135.2 L544.1,135.1 L544.3,134.9 L544.4,134.8 L544.5,134.7 L544.7,134.6 L544.8,134.5 L544.9,134.3 L545.0,134.2 L545.2,134.1 L545.3,134.0 L545.4,133.9 L545.6,133.8 L545.7,133.7 L545.8,133.6 L546.0,133.4 L546.1,133.3 L546.2,133.2 L546.3,133.1 L546.5,133.0 L546.6,132.9 L546.7,132.8 L546.9,132.7 L547.0,132.6 L547.1,132.5 L547.2,132.4 L547.4,132.3 L547.5,132.2 L547.6,132.2 L547.8,132.1 L547.9,132.0 L548.0,131.9 L548.1,131.8 L548.3,131.7 L548.4,131.7 L548.5,131.6 L548.7,131.5 L548.8,131.4 L548.9,131.3 L549.1,131.2 L549.2,131.1 L549.3,131.0 L549.4,130.9 L549.6,130.8 L549.7,130.7 L549.8,130.6 L550.0,130.4 L550.1,130.3 L550.2,130.2 L550.3,130.1 L550.5,130.0 L550.6,129.9 L550.7,129.8 L550.9,129.7 L551.0,129.6 L551.1,129.4 L551.2,129.3 L551.4,129.3 L551.5,129.2 L551.6,129.1 L551.8,129.0 L551.9,128.9 L552.0,128.8 L552.2,128.8 L552.3,128.7 L552.4,128.7 L552.5,128.6 L552.7,128.6 L552.8,128.6 L552.9,128.6 L553.1,128.5 L553.2,128.5 L553.3,128.5 L553.4,128.5 L553.6,128.5 L553.7,128.5 L553.8,128.5 L554.0,128.5 L554.1,128.5 L554.2,128.5 L554.3,128.5 L554.5,128.5 L554.6,128.5 L554.7,128.6 L554.9,128.6 L555.0,128.6 L555.1,128.6 L555.3,128.6 L555.4,128.7 L555.5,128.7 L555.6,128.7 L555.8,128.8 L555.9,128.8 L556.0,128.8 L556.2,128.9 L556.3,128.9 L556.4,129.0 L556.5,129.0 L556.7,129.0 L556.8,129.1 L556.9,129.1 L557.1,129.1 L557.2,129.2 L557.3,129.2 L557.4,129.3 L557.6,129.3 L557.7,129.3 L557.8,129.3 L558.0,129.4 L558.1,129.4 L558.2,129.4 L558.4,129.4 L558.5,129.4 L558.6,129.4 L558.7,129.4 L558.9,129.4 L559.0,129.4 L559.1,129.4 L559.3,129.4 L559.4,129.4 L559.5,129.4 L559.6,129.4 L559.8,129.3 L559.9,129.3 L560.0,129.3 L560.2,129.3 L560.3,129.2 L560.4,129.2 L560.6,129.1 L560.7,129.1 L560.8,129.1 L560.9,129.0 L561.1,129.0 L561.2,128.9 L561.3,128.9 L561.5,128.9 L561.6,128.8 L561.7,128.8 L561.8,128.7 L562.0,128.7 L562.1,128.7 L562.2,128.6 L562.4,128.6 L562.5,128.6 L562.6,128.6 L562.7,128.5 L562.9,128.5 L563.0,128.5 L563.1,128.5 L563.3,128.5 L563.4,128.5 L563.5,128.6 L563.7,128.6 L563.8,128.6 L563.9,128.7 L564.0,128.7 L564.2,128.8 L564.3,128.8 L564.4,128.9 L564.6,129.0 L564.7,129.1 L564.8,129.2 L564.9,129.2 L565.1,129.3 L565.2,129.4 L565.3,129.6 L565.5,129.7 L565.6,129.8 L565.7,129.9 L565.8,130.0 L566.0,130.1 L566.1,130.3 L566.2,130.4 L566.4,130.5 L566.5,130.7 L566.6,130.8 L566.8,131.0 L566.9,131.1 L567.0,131.3 L567.1,131.5 L567.3,131.7 L567.4,131.9 L567.5,132.2 L567.7,132.5 L567.8,132.8 L567.9,133.1 L568.0,133.4 L568.2,133.8 L568.3,134.1 L568.4,134.5 L568.6,134.8 L568.7,135.2 L568.8,135.6 L568.9,135.9 L569.1,136.3 L569.2,136.7 L569.3,137.0 L569.5,137.4 L569.6,137.7 L569.7,138.0 L569.9,138.3 L570.0,138.6 L570.1,138.9 L570.2,139.2 L570.4,139.4 L570.5,139.6 L570.6,139.8 L570.8,140.0 L570.9,140.1 L571.0,140.2 L571.1,140.3 L571.3,140.3 L571.4,140.3 L571.5,140.3 L571.7,140.2 L571.8,140.2 L571.9,140.0 L572.1,139.9 L572.2,139.8 L572.3,139.6 L572.4,139.4 L572.6,139.2 L572.7,138.9 L572.8,138.7 L573.0,138.4 L573.1,138.1 L573.2,137.8 L573.3,137.5 L573.5,137.2 L573.6,136.8 L573.7,136.5 L573.9,136.1 L574.0,135.8 L574.1,135.3 L574.2,134.8 L574.4,134.1 L574.5,133.5 L574.6,132.7 L574.8,131.9 L574.9,131.1 L575.0,130.2 L575.2,129.3 L575.3,128.4 L575.4,127.5 L575.5,126.6 L575.7,125.7 L575.8,124.8 L575.9,123.9 L576.1,123.1 L576.2,122.4 L576.3,121.7 L576.4,121.0 L576.6,120.4 L576.7,119.7 L576.8,119.0 L577.0,118.4 L577.1,117.7 L577.2,117.1 L577.3,116.4 L577.5,115.8 L577.6,115.2 L577.7,114.6 L577.9,114.0 L578.0,113.4 L578.1,112.8 L578.3,112.2 L578.4,111.7 L578.5,111.1 L578.6,110.6 L578.8,110.1 L578.9,109.6 L579.0,109.1 L579.2,108.7 L579.3,108.2 L579.4,107.8 L579.5,107.4 L579.7,107.0 L579.8,106.6 L579.9,106.3 L580.1,106.0 L580.2,105.7 L580.3,105.4 L580.4,105.1 L580.6,104.8 L580.7,104.5 L580.8,104.3 L581.0,104.0 L581.1,103.8 L581.2,103.5 L581.4,103.3 L581.5,103.1 L581.6,102.8 L581.7,102.6 L581.9,102.4 L582.0,102.2 L582.1,102.0 L582.3,101.8 L582.4,101.6 L582.5,101.5 L582.6,101.3 L582.8,101.1 L582.9,100.9 L583.0,100.8 L583.2,100.6 L583.3,100.5 L583.4,100.3 L583.5,100.2 L583.7,100.0 L583.8,99.9 L583.9,99.7 L584.1,99.6 L584.2,99.4 L584.3,99.3 L584.5,99.2 L584.6,99.0 L584.7,98.9 L584.8,98.7 L585.0,98.6 L585.1,98.5 L585.2,98.3 L585.4,98.2 L585.5,98.0 L585.6,97.9 L585.7,97.7 L585.9,97.5 L586.0,97.4 L586.1,97.2 L586.3,97.1 L586.4,96.9 L586.5,96.7 L586.7,96.6 L586.8,96.4 L586.9,96.2 L587.0,96.1 L587.2,95.9 L587.3,95.7 L587.4,95.5 L587.6,95.3 L587.7,95.2 L587.8,95.0 L587.9,94.8 L588.1,94.6 L588.2,94.4 L588.3,94.3 L588.5,94.1 L588.6,93.9 L588.7,93.7 L588.8,93.5 L589.0,93.4 L589.1,93.2 L589.2,93.0 L589.4,92.8 L589.5,92.7 L589.6,92.5 L589.8,92.3 L589.9,92.2 L590.0,92.0 L590.1,91.8 L590.3,91.7 L590.4,91.5 L590.5,91.3 L590.7,91.2 L590.8,91.0 L590.9,90.9 L591.0,90.8 L591.2,90.6 L591.3,90.5 L591.4,90.3 L591.6,90.2 L591.7,90.1 L591.8,90.0 L591.9,89.8 L592.1,89.7 L592.2,89.6 L592.3,89.5 L592.5,89.4 L592.6,89.3 L592.7,89.2 L592.9,89.1 L593.0,89.0 L593.1,88.9 L593.2,88.9 L593.4,88.8 L593.5,88.7 L593.6,88.6 L593.8,88.6 L593.9,88.5 L594.0,88.4 L594.1,88.4 L594.3,88.3 L594.4,88.3 L594.5,88.2 L594.7,88.2 L594.8,88.1 L594.9,88.1 L595.0,88.0 L595.2,88.0 L595.3,87.9 L595.4,87.9 L595.6,87.9 L595.7,87.8 L595.8,87.8 L596.0,87.7 L596.1,87.7 L596.2,87.7 L596.3,87.6 L596.5,87.6 L596.6,87.5 L596.7,87.5 L596.9,87.5 L597.0,87.4 L597.1,87.4 L597.2,87.3 L597.4,87.3 L597.5,87.2 L597.6,87.2 L597.8,87.1 L597.9,87.1 L598.0,87.0 L598.2,86.9 L598.3,86.9 L598.4,86.8 L598.5,86.7 L598.7,86.6 L598.8,86.6 L598.9,86.5 L599.1,86.4 L599.2,86.3 L599.3,86.2 L599.4,86.1 L599.6,86.0 L599.7,85.9 L599.8,85.8 L600.0,85.7 L600.1,85.6 L600.2,85.5 L600.3,85.4 L600.5,85.3 L600.6,85.2 L600.7,85.1 L600.9,85.0 L601.0,84.9 L601.1,84.8 L601.3,84.7 L601.4,84.6 L601.5,84.5 L601.6,84.4 L601.8,84.4 L601.9,84.3 L602.0,84.2 L602.2,84.1 L602.3,84.0 L602.4,84.0 L602.5,83.9 L602.7,83.8 L602.8,83.8 L602.9,83.7 L603.1,83.7 L603.2,83.6 L603.3,83.6 L603.4,83.5 L603.6,83.5 L603.7,83.5 L603.8,83.4 L604.0,83.4 L604.1,83.4 L604.2,83.3 L604.4,83.3 L604.5,83.3 L604.6,83.3 L604.7,83.2 L604.9,83.2 L605.0,83.2 L605.1,83.2 L605.3,83.2 L605.4,83.2 L605.5,83.1 L605.6,83.1 L605.8,83.1 L605.9,83.1 L606.0,83.1 L606.2,83.1 L606.3,83.1 L606.4,83.1 L606.5,83.1 L606.7,83.1 L606.8,83.1 L606.9,83.1 L607.1,83.1 L607.2,83.1 L607.3,83.1 L607.5,83.1 L607.6,83.1 L607.7,83.2 L607.8,83.2 L608.0,83.2 L608.1,83.3 L608.2,83.3 L608.4,83.4 L608.5,83.4 L608.6,83.5 L608.7,83.5 L608.9,83.6 L609.0,83.7 L609.1,83.8 L609.3,83.8 L609.4,83.9 L609.5,84.0 L609.6,84.1 L609.8,84.2 L609.9,84.3 L610.0,84.4 L610.2,84.5 L610.3,84.6 L610.4,84.7 L610.6,84.8 L610.7,85.0 L610.8,85.1 L610.9,85.2 L611.1,85.3 L611.2,85.4 L611.3,85.6 L611.5,85.7 L611.6,85.8 L611.7,86.0 L611.8,86.1 L612.0,86.2 L612.1,86.4 L612.2,86.5 L612.4,86.6 L612.5,86.8 L612.6,86.9 L612.8,87.1 L612.9,87.2 L613.0,87.4 L613.1,87.5 L613.3,87.6 L613.4,87.8 L613.5,87.9 L613.7,88.1 L613.8,88.3 L613.9,88.4 L614.0,88.6 L614.2,88.8 L614.3,89.0 L614.4,89.2 L614.6,89.4 L614.7,89.6 L614.8,89.8 L614.9,90.0 L615.1,90.2 L615.2,90.5 L615.3,90.7 L615.5,90.9 L615.6,91.2 L615.7,91.5 L615.9,91.7 L616.0,92.0 L616.1,92.3 L616.2,92.5 L616.4,92.8 L616.5,93.1 L616.6,93.4 L616.8,93.7 L616.9,94.0 L617.0,94.3 L617.1,94.6 L617.3,95.0 L617.4,95.3 L617.5,95.6 L617.7,95.9 L617.8,96.3 L617.9,96.6 L618.0,97.0 L618.2,97.3 L618.3,97.7 L618.4,98.0 L618.6,98.4 L618.7,98.7 L618.8,99.1 L619.0,99.4 L619.1,99.8 L619.2,100.2 L619.3,100.6 L619.5,101.0 L619.6,101.5 L619.7,101.9 L619.9,102.4 L620.0,102.9 L620.1,103.3 L620.2,103.8 L620.4,104.3 L620.5,104.8 L620.6,105.3 L620.8,105.8 L620.9,106.4 L621.0,106.9 L621.1,107.4 L621.3,107.9 L621.4,108.4 L621.5,109.0 L621.7,109.5 L621.8,110.0 L621.9,110.6 L622.1,111.1 L622.2,111.6 L622.3,112.1 L622.4,112.6 L622.6,113.1 L622.7,113.6 L622.8,114.1 L623.0,114.6 L623.1,115.1 L623.2,115.7 L623.3,116.2 L623.5,116.8 L623.6,117.3 L623.7,117.9 L623.9,118.5 L624.0,119.1 L624.1,119.7 L624.3,120.3 L624.4,120.9 L624.5,121.4 L624.6,122.0 L624.8,122.6 L624.9,123.2 L625.0,123.8 L625.2,124.4 L625.3,124.9 L625.4,125.5 L625.5,126.0 L625.7,126.5 L625.8,127.0 L625.9,127.5 L626.1,128.0 L626.2,128.4 L626.3,128.8 L626.4,129.2 L626.6,129.6 L626.7,130.0 L626.8,130.5 L627.0,130.9 L627.1,131.4 L627.2,131.8 L627.4,132.3 L627.5,132.7 L627.6,133.1 L627.7,133.5 L627.9,133.9 L628.0,134.3 L628.1,134.7 L628.3,135.0 L628.4,135.3 L628.5,135.6 L628.6,135.8 L628.8,136.0 L628.9,136.2 L629.0,136.3 L629.2,136.4 L629.3,136.4 L629.4,136.4 L629.5,136.4 L629.7,136.4 L629.8,136.3 L629.9,136.3 L630.1,136.2 L630.2,136.1 L630.3,136.0 L630.5,135.9 L630.6,135.8 L630.7,135.7 L630.8,135.6 L631.0,135.4 L631.1,135.3 L631.2,135.2 L631.4,135.0 L631.5,134.9 L631.6,134.8 L631.7,134.6 L631.9,134.4 L632.0,134.3 L632.1,134.0 L632.3,133.8 L632.4,133.6 L632.5,133.3 L632.6,133.1 L632.8,132.8 L632.9,132.5 L633.0,132.3 L633.2,132.0 L633.3,131.6 L633.4,131.3 L633.6,131.0 L633.7,130.7 L633.8,130.3 L633.9,130.0 L634.1,129.6 L634.2,129.2 L634.3,128.7 L634.5,128.3 L634.6,127.8 L634.7,127.3 L634.8,126.9 L635.0,126.4 L635.1,125.9 L635.2,125.4 L635.4,124.9 L635.5,124.4 L635.6,123.8 L635.7,123.3 L635.9,122.8 L636.0,122.4 L636.1,121.9 L636.3,121.4 L636.4,120.9 L636.5,120.5 L636.7,120.1 L636.8,119.7 L636.9,119.3 L637.0,118.9 L637.2,118.6 L637.3,118.2 L637.4,117.8 L637.6,117.5 L637.7,117.1 L637.8,116.8 L637.9,116.4 L638.1,116.0 L638.2,115.7 L638.3,115.3 L638.5,115.0 L638.6,114.6 L638.7,114.3 L638.9,114.0 L639.0,113.7 L639.1,113.4 L639.2,113.1 L639.4,112.8 L639.5,112.6 L639.6,112.4 L639.8,112.1 L639.9,111.9 L640.0,111.8 L640.1,111.6 L640.3,111.5 L640.4,111.4 L640.5,111.3 L640.7,111.2 L640.8,111.2 L640.9,111.2 L641.0,111.2 L641.2,111.2 L641.3,111.3 L641.4,111.3 L641.6,111.3 L641.7,111.4 L641.8,111.5 L642.0,111.5 L642.1,111.6 L642.2,111.7 L642.3,111.8 L642.5,111.9 L642.6,112.0 L642.7,112.2 L642.9,112.3 L643.0,112.4 L643.1,112.6 L643.2,112.7 L643.4,112.9 L643.5,113.1 L643.6,113.2 L643.8,113.4 L643.9,113.6 L644.0,113.8 L644.1,113.9 L644.3,114.1 L644.4,114.3 L644.5,114.5 L644.7,114.7 L644.8,114.9 L644.9,115.1 L645.1,115.3 L645.2,115.5 L645.3,115.7 L645.4,115.9 L645.6,116.1 L645.7,116.3 L645.8,116.5 L646.0,116.7 L646.1,116.9 L646.2,117.0 L646.3,117.2 L646.5,117.4 L646.6,117.6 L646.7,117.8 L646.9,118.0 L647.0,118.2 L647.1,118.4 L647.2,118.6 L647.4,118.8 L647.5,119.0 L647.6,119.3 L647.8,119.5 L647.9,119.7 L648.0,120.0 L648.2,120.2 L648.3,120.5 L648.4,120.7 L648.5,120.9 L648.7,121.2 L648.8,121.4 L648.9,121.7 L649.1,122.0 L649.2,122.2 L649.3,122.5 L649.4,122.7 L649.6,123.0 L649.7,123.3 L649.8,123.5 L650.0,123.8 L650.1,124.1 L650.2,124.3 L650.4,124.6 L650.5,124.9 L650.6,125.1 L650.7,125.4 L650.9,125.7 L651.0,125.9 L651.1,126.2 L651.3,126.4 L651.4,126.7 L651.5,127.0 L651.6,127.2 L651.8,127.5 L651.9,127.8 L652.0,128.0 L652.2,128.3 L652.3,128.5 L652.4,128.8 L652.5,129.1 L652.7,129.4 L652.8,129.7 L652.9,130.0 L653.1,130.3 L653.2,130.7 L653.3,131.1 L653.5,131.4 L653.6,131.8 L653.7,132.2 L653.8,132.6 L654.0,133.0 L654.1,133.4 L654.2,133.8 L654.4,134.1 L654.5,134.5 L654.6,134.9 L654.7,135.3 L654.9,135.6 L655.0,136.0 L655.1,136.3 L655.3,136.6 L655.4,136.9 L655.5,137.2 L655.6,137.5 L655.8,137.7 L655.9,137.9 L656.0,138.1 L656.2,138.3 L656.3,138.4 L656.4,138.5 L656.6,138.6 L656.7,138.6 L656.8,138.6 L656.9,138.6 L657.1,138.5 L657.2,138.3 L657.3,138.2 L657.5,137.9 L657.6,137.7 L657.7,137.4 L657.8,137.0 L658.0,136.7 L658.1,136.3 L658.2,135.9 L658.4,135.5 L658.5,135.0 L658.6,134.6 L658.7,134.1 L658.9,133.7 L659.0,133.3 L659.1,132.8 L659.3,132.4 L659.4,132.0 L659.5,131.6 L659.7,131.2 L659.8,130.9 L659.9,130.5 L660.0,130.2 L660.2,129.9 L660.3,129.6 L660.4,129.2 L660.6,128.9 L660.7,128.5 L660.8,128.1 L660.9,127.8 L661.1,127.4 L661.2,127.0 L661.3,126.7 L661.5,126.3 L661.6,125.9 L661.7,125.6 L661.8,125.3 L662.0,124.9 L662.1,124.6 L662.2,124.3 L662.4,124.0 L662.5,123.7 L662.6,123.5 L662.8,123.2 L662.9,123.0 L663.0,122.8 L663.1,122.7 L663.3,122.5 L663.4,122.4 L663.5,122.3 L663.7,122.2 L663.8,122.2 L663.9,122.2 L664.0,122.2 L664.2,122.3 L664.3,122.3 L664.4,122.3 L664.6,122.4 L664.7,122.4 L664.8,122.5 L665.0,122.5 L665.1,122.6 L665.2,122.6 L665.3,122.7 L665.5,122.8 L665.6,122.9 L665.7,123.0 L665.9,123.1 L666.0,123.2 L666.1,123.3 L666.2,123.4 L666.4,123.5 L666.5,123.6 L666.6,123.8 L666.8,123.9 L666.9,124.0 L667.0,124.1 L667.1,124.3 L667.3,124.4 L667.4,124.5 L667.5,124.7 L667.7,124.8 L667.8,125.0 L667.9,125.1 L668.1,125.2 L668.2,125.4 L668.3,125.5 L668.4,125.7 L668.6,125.8 L668.7,126.0 L668.8,126.2 L669.0,126.4 L669.1,126.7 L669.2,127.0 L669.3,127.3 L669.5,127.6 L669.6,128.0 L669.7,128.4 L669.9,128.8 L670.0,129.2 L670.1,129.6 L670.2,130.1 L670.4,130.5 L670.5,131.0 L670.6,131.5 L670.8,131.9 L670.9,132.4 L671.0,132.9 L671.2,133.3 L671.3,133.7 L671.4,134.2 L671.5,134.6 L671.7,135.0 L671.8,135.4 L671.9,135.7 L672.1,136.1 L672.2,136.4 L672.3,136.7 L672.4,136.9 L672.6,137.2 L672.7,137.4 L672.8,137.6 L673.0,137.8 L673.1,138.0 L673.2,138.2 L673.3,138.4 L673.5,138.5 L673.6,138.7 L673.7,138.9 L673.9,139.0 L674.0,139.2 L674.1,139.4 L674.3,139.5 L674.4,139.6 L674.5,139.8 L674.6,139.9 L674.8,140.0 L674.9,140.2" fill="none" stroke="#3f90d6" stroke-width="0.8" stroke-linejoin="round" clip-path="url(#clipc)"/>
<line x1="532.9" y1="76.1" x2="603.11" y2="76.1" stroke="#ee1c25" stroke-width="0.9" stroke-dasharray="2.3,1.3"/>
<text x="530.6" y="77.63" font-size="5.8" fill="#ee1c25" text-anchor="end" font-weight="normal" >−4.2</text>
<text x="407.2" y="247.5" font-size="15.5" fill="#000" text-anchor="start" font-weight="bold" >d</text>
<rect x="443.5" y="246.5" width="236.0" height="186.89999999999998" fill="none" stroke="#333" stroke-width="0.9"/>
<line x1="443.5" y1="266.2" x2="446.5" y2="266.2" stroke="#333" stroke-width="0.9" />
<line x1="679.5" y1="266.2" x2="676.5" y2="266.2" stroke="#333" stroke-width="0.9" />
<text x="438.8" y="270.2" font-size="11.2" fill="#111" text-anchor="end" font-weight="normal" >−5</text>
<line x1="443.5" y1="290.7" x2="446.5" y2="290.7" stroke="#333" stroke-width="0.9" />
<line x1="679.5" y1="290.7" x2="676.5" y2="290.7" stroke="#333" stroke-width="0.9" />
<text x="438.8" y="294.7" font-size="11.2" fill="#111" text-anchor="end" font-weight="normal" >−10</text>
<line x1="443.5" y1="315.2" x2="446.5" y2="315.2" stroke="#333" stroke-width="0.9" />
<line x1="679.5" y1="315.2" x2="676.5" y2="315.2" stroke="#333" stroke-width="0.9" />
<text x="438.8" y="319.2" font-size="11.2" fill="#111" text-anchor="end" font-weight="normal" >−15</text>
<line x1="443.5" y1="339.7" x2="446.5" y2="339.7" stroke="#333" stroke-width="0.9" />
<line x1="679.5" y1="339.7" x2="676.5" y2="339.7" stroke="#333" stroke-width="0.9" />
<text x="438.8" y="343.7" font-size="11.2" fill="#111" text-anchor="end" font-weight="normal" >−20</text>
<line x1="443.5" y1="364.2" x2="446.5" y2="364.2" stroke="#333" stroke-width="0.9" />
<line x1="679.5" y1="364.2" x2="676.5" y2="364.2" stroke="#333" stroke-width="0.9" />
<text x="438.8" y="368.2" font-size="11.2" fill="#111" text-anchor="end" font-weight="normal" >−25</text>
<line x1="443.5" y1="388.7" x2="446.5" y2="388.7" stroke="#333" stroke-width="0.9" />
<line x1="679.5" y1="388.7" x2="676.5" y2="388.7" stroke="#333" stroke-width="0.9" />
<text x="438.8" y="392.7" font-size="11.2" fill="#111" text-anchor="end" font-weight="normal" >−30</text>
<line x1="443.5" y1="413.2" x2="446.5" y2="413.2" stroke="#333" stroke-width="0.9" />
<line x1="679.5" y1="413.2" x2="676.5" y2="413.2" stroke="#333" stroke-width="0.9" />
<text x="438.8" y="417.2" font-size="11.2" fill="#111" text-anchor="end" font-weight="normal" >−35</text>
<line x1="458.8" y1="433.4" x2="458.8" y2="430.4" stroke="#333" stroke-width="0.9" />
<line x1="458.8" y1="246.5" x2="458.8" y2="249.5" stroke="#333" stroke-width="0.9" />
<text x="458.8" y="448.4" font-size="11.2" fill="#111" text-anchor="middle" font-weight="normal" >38</text>
<line x1="486.3" y1="433.4" x2="486.3" y2="430.4" stroke="#333" stroke-width="0.9" />
<line x1="486.3" y1="246.5" x2="486.3" y2="249.5" stroke="#333" stroke-width="0.9" />
<text x="486.3" y="448.4" font-size="11.2" fill="#111" text-anchor="middle" font-weight="normal" >38.5</text>
<line x1="513.8" y1="433.4" x2="513.8" y2="430.4" stroke="#333" stroke-width="0.9" />
<line x1="513.8" y1="246.5" x2="513.8" y2="249.5" stroke="#333" stroke-width="0.9" />
<text x="513.8" y="448.4" font-size="11.2" fill="#111" text-anchor="middle" font-weight="normal" >39</text>
<line x1="541.3" y1="433.4" x2="541.3" y2="430.4" stroke="#333" stroke-width="0.9" />
<line x1="541.3" y1="246.5" x2="541.3" y2="249.5" stroke="#333" stroke-width="0.9" />
<text x="541.3" y="448.4" font-size="11.2" fill="#111" text-anchor="middle" font-weight="normal" >39.5</text>
<line x1="568.8" y1="433.4" x2="568.8" y2="430.4" stroke="#333" stroke-width="0.9" />
<line x1="568.8" y1="246.5" x2="568.8" y2="249.5" stroke="#333" stroke-width="0.9" />
<text x="568.8" y="448.4" font-size="11.2" fill="#111" text-anchor="middle" font-weight="normal" >40</text>
<line x1="596.3" y1="433.4" x2="596.3" y2="430.4" stroke="#333" stroke-width="0.9" />
<line x1="596.3" y1="246.5" x2="596.3" y2="249.5" stroke="#333" stroke-width="0.9" />
<text x="596.3" y="448.4" font-size="11.2" fill="#111" text-anchor="middle" font-weight="normal" >40.5</text>
<line x1="623.8" y1="433.4" x2="623.8" y2="430.4" stroke="#333" stroke-width="0.9" />
<line x1="623.8" y1="246.5" x2="623.8" y2="249.5" stroke="#333" stroke-width="0.9" />
<text x="623.8" y="448.4" font-size="11.2" fill="#111" text-anchor="middle" font-weight="normal" >41</text>
<line x1="651.3" y1="433.4" x2="651.3" y2="430.4" stroke="#333" stroke-width="0.9" />
<line x1="651.3" y1="246.5" x2="651.3" y2="249.5" stroke="#333" stroke-width="0.9" />
<text x="651.3" y="448.4" font-size="11.2" fill="#111" text-anchor="middle" font-weight="normal" >41.5</text>
<line x1="678.8" y1="433.4" x2="678.8" y2="430.4" stroke="#333" stroke-width="0.9" />
<line x1="678.8" y1="246.5" x2="678.8" y2="249.5" stroke="#333" stroke-width="0.9" />
<text x="678.8" y="448.4" font-size="11.2" fill="#111" text-anchor="middle" font-weight="normal" >42</text>
<text x="562.8" y="467.2" font-size="10.85" fill="#111" text-anchor="middle" font-weight="normal" >Frequency/MHz</text>
<text x="412.8" y="341.6" font-size="11.2" fill="#111" text-anchor="middle" transform="rotate(-90 412.8 341.6)">S21 / dB</text>
<line x1="444.3" y1="341.9" x2="496.7" y2="341.9" stroke="#111" stroke-width="1" stroke-dasharray="1,1.6"/>
<line x1="444.3" y1="370.9" x2="496.7" y2="370.9" stroke="#111" stroke-width="1" stroke-dasharray="1,1.6"/>
<line x1="444.3" y1="408.6" x2="496.7" y2="408.6" stroke="#111" stroke-width="1" stroke-dasharray="1,1.6"/>
<path d="M443.3,340.5 L443.5,339.6 L443.7,338.7 L443.9,337.9 L444.1,337.0 L444.3,336.2 L444.5,335.4 L444.7,334.5 L444.9,333.7 L445.1,333.0 L445.3,332.2 L445.5,331.4 L445.7,330.7 L445.9,330.0 L446.1,329.3 L446.2,328.6 L446.4,328.0 L446.6,327.3 L446.8,326.7 L447.0,326.0 L447.2,325.4 L447.4,324.8 L447.6,324.2 L447.8,323.6 L448.0,323.0 L448.2,322.5 L448.4,321.9 L448.6,321.3 L448.8,320.8 L449.0,320.3 L449.2,319.8 L449.4,319.2 L449.6,318.8 L449.8,318.3 L450.0,317.8 L450.2,317.3 L450.4,316.9 L450.6,316.5 L450.8,316.1 L451.0,315.7 L451.2,315.2 L451.4,314.9 L451.6,314.5 L451.7,314.1 L451.9,313.7 L452.1,313.3 L452.3,312.9 L452.5,312.6 L452.7,312.2 L452.9,311.9 L453.1,311.5 L453.3,311.2 L453.5,310.9 L453.7,310.5 L453.9,310.2 L454.1,309.9 L454.3,309.6 L454.5,309.4 L454.7,309.1 L454.9,308.8 L455.1,308.5 L455.3,308.3 L455.5,308.1 L455.7,307.8 L455.9,307.6 L456.1,307.4 L456.3,307.2 L456.5,307.0 L456.7,306.8 L456.9,306.6 L457.1,306.4 L457.3,306.3 L457.4,306.1 L457.6,305.9 L457.8,305.8 L458.0,305.6 L458.2,305.5 L458.4,305.3 L458.6,305.2 L458.8,305.0 L459.0,304.9 L459.2,304.7 L459.4,304.6 L459.6,304.5 L459.8,304.3 L460.0,304.2 L460.2,304.1 L460.4,303.9 L460.6,303.8 L460.8,303.7 L461.0,303.6 L461.2,303.5 L461.4,303.3 L461.6,303.2 L461.8,303.1 L462.0,303.0 L462.2,302.9 L462.4,302.8 L462.6,302.7 L462.8,302.6 L462.9,302.5 L463.1,302.4 L463.3,302.3 L463.5,302.2 L463.7,302.1 L463.9,302.0 L464.1,301.9 L464.3,301.8 L464.5,301.7 L464.7,301.7 L464.9,301.6 L465.1,301.5 L465.3,301.4 L465.5,301.4 L465.7,301.3 L465.9,301.2 L466.1,301.2 L466.3,301.1 L466.5,301.0 L466.7,300.9 L466.9,300.8 L467.1,300.8 L467.3,300.7 L467.5,300.6 L467.7,300.5 L467.9,300.4 L468.1,300.3 L468.3,300.2 L468.5,300.1 L468.6,300.0 L468.8,299.8 L469.0,299.7 L469.2,299.6 L469.4,299.4 L469.6,299.3 L469.8,299.1 L470.0,298.9 L470.2,298.8 L470.4,298.6 L470.6,298.4 L470.8,298.2 L471.0,298.0 L471.2,297.8 L471.4,297.6 L471.6,297.4 L471.8,297.1 L472.0,296.9 L472.2,296.7 L472.4,296.5 L472.6,296.2 L472.8,296.0 L473.0,295.8 L473.2,295.5 L473.4,295.3 L473.6,295.1 L473.8,294.8 L474.0,294.6 L474.1,294.3 L474.3,294.1 L474.5,293.8 L474.7,293.5 L474.9,293.2 L475.1,292.9 L475.3,292.6 L475.5,292.3 L475.7,292.0 L475.9,291.7 L476.1,291.4 L476.3,291.1 L476.5,290.8 L476.7,290.4 L476.9,290.1 L477.1,289.8 L477.3,289.5 L477.5,289.2 L477.7,288.9 L477.9,288.6 L478.1,288.3 L478.3,288.0 L478.5,287.7 L478.7,287.4 L478.9,287.1 L479.1,286.8 L479.3,286.6 L479.5,286.3 L479.7,286.0 L479.8,285.7 L480.0,285.5 L480.2,285.2 L480.4,284.9 L480.6,284.7 L480.8,284.4 L481.0,284.1 L481.2,283.9 L481.4,283.6 L481.6,283.3 L481.8,283.1 L482.0,282.8 L482.2,282.6 L482.4,282.3 L482.6,282.1 L482.8,281.8 L483.0,281.6 L483.2,281.4 L483.4,281.1 L483.6,280.9 L483.8,280.7 L484.0,280.4 L484.2,280.2 L484.4,280.0 L484.6,279.8 L484.8,279.5 L485.0,279.3 L485.2,279.1 L485.3,278.9 L485.5,278.7 L485.7,278.4 L485.9,278.2 L486.1,278.0 L486.3,277.8 L486.5,277.6 L486.7,277.4 L486.9,277.2 L487.1,277.0 L487.3,276.8 L487.5,276.6 L487.7,276.4 L487.9,276.2 L488.1,276.1 L488.3,275.9 L488.5,275.7 L488.7,275.5 L488.9,275.4 L489.1,275.2 L489.3,275.1 L489.5,274.9 L489.7,274.7 L489.9,274.5 L490.1,274.4 L490.3,274.2 L490.5,274.0 L490.7,273.8 L490.9,273.7 L491.0,273.5 L491.2,273.3 L491.4,273.2 L491.6,273.0 L491.8,272.9 L492.0,272.8 L492.2,272.7 L492.4,272.6 L492.6,272.6 L492.8,272.5 L493.0,272.5 L493.2,272.5 L493.4,272.6 L493.6,272.8 L493.8,273.0 L494.0,273.3 L494.2,273.6 L494.4,274.0 L494.6,274.5 L494.8,275.1 L495.0,276.2 L495.2,277.7 L495.4,279.7 L495.6,283.3 L495.8,289.7 L496.0,297.7 L496.2,309.4 L496.4,322.2 L496.5,335.2 L496.7,341.2 L496.9,338.0 L497.1,332.5 L497.3,326.6 L497.5,322.0 L497.7,317.4 L497.9,312.9 L498.1,308.6 L498.3,304.7 L498.5,301.2 L498.7,298.0 L498.9,294.8 L499.1,291.7 L499.3,288.1 L499.5,284.0 L499.7,280.4 L499.9,278.1 L500.1,276.3 L500.3,274.8 L500.5,273.4 L500.7,272.2 L500.9,271.2 L501.1,270.3 L501.3,269.5 L501.5,268.9 L501.7,268.2 L501.9,267.6 L502.1,267.1 L502.2,266.6 L502.4,266.2 L502.6,265.8 L502.8,265.5 L503.0,265.2 L503.2,265.0 L503.4,264.8 L503.6,264.6 L503.8,264.4 L504.0,264.2 L504.2,264.1 L504.4,263.9 L504.6,263.7 L504.8,263.6 L505.0,263.4 L505.2,263.3 L505.4,263.2 L505.6,263.1 L505.8,263.0 L506.0,262.9 L506.2,262.8 L506.4,262.7 L506.6,262.6 L506.8,262.6 L507.0,262.5 L507.2,262.5 L507.4,262.5 L507.6,262.5 L507.7,262.5 L507.9,262.6 L508.1,262.6 L508.3,262.7 L508.5,262.8 L508.7,262.9 L508.9,263.0 L509.1,263.1 L509.3,263.3 L509.5,263.5 L509.7,263.6 L509.9,263.8 L510.1,264.0 L510.3,264.2 L510.5,264.3 L510.7,264.5 L510.9,264.7 L511.1,264.9 L511.3,265.1 L511.5,265.3 L511.7,265.5 L511.9,265.7 L512.1,265.8 L512.3,266.0 L512.5,266.2 L512.7,266.4 L512.9,266.6 L513.1,266.8 L513.3,267.0 L513.4,267.2 L513.6,267.4 L513.8,267.6 L514.0,267.9 L514.2,268.1 L514.4,268.4 L514.6,268.6 L514.8,268.9 L515.0,269.2 L515.2,269.5 L515.4,269.8 L515.6,270.1 L515.8,270.5 L516.0,270.9 L516.2,271.4 L516.4,271.9 L516.6,272.5 L516.8,273.1 L517.0,273.7 L517.2,274.3 L517.4,275.0 L517.6,275.6 L517.8,276.3 L518.0,276.9 L518.2,277.5 L518.4,278.1 L518.6,278.7 L518.8,279.3 L518.9,279.9 L519.1,280.5 L519.3,281.2 L519.5,281.9 L519.7,282.6 L519.9,283.5 L520.1,284.4 L520.3,285.4 L520.5,286.5 L520.7,287.7 L520.9,289.1 L521.1,290.7 L521.3,292.5 L521.5,294.7 L521.7,298.0" fill="none" stroke="#4593d6" stroke-width="0.9" stroke-linejoin="round" />
<path d="M443.3,340.5 L443.5,339.6 L443.7,338.8 L443.9,337.9 L444.1,337.1 L444.3,336.2 L444.5,335.4 L444.7,334.6 L444.9,333.8 L445.1,333.0 L445.2,332.3 L445.4,331.5 L445.6,330.8 L445.8,330.1 L446.0,329.4 L446.2,328.7 L446.4,328.0 L446.6,327.4 L446.8,326.8 L447.0,326.2 L447.2,325.5 L447.4,324.9 L447.6,324.3 L447.8,323.7 L448.0,323.2 L448.2,322.6 L448.4,322.0 L448.6,321.5 L448.8,320.9 L448.9,320.4 L449.1,319.9 L449.3,319.4 L449.5,318.9 L449.7,318.4 L449.9,317.9 L450.1,317.5 L450.3,317.0 L450.5,316.6 L450.7,316.2 L450.9,315.8 L451.1,315.4 L451.3,315.0 L451.5,314.6 L451.7,314.2 L451.9,313.8 L452.1,313.5 L452.3,313.1 L452.5,312.7 L452.6,312.4 L452.8,312.0 L453.0,311.7 L453.2,311.3 L453.4,311.0 L453.6,310.7 L453.8,310.4 L454.0,310.1 L454.2,309.8 L454.4,309.5 L454.6,309.2 L454.8,308.9 L455.0,308.7 L455.2,308.4 L455.4,308.2 L455.6,308.0 L455.8,307.7 L456.0,307.5 L456.2,307.3 L456.3,307.1 L456.5,306.9 L456.7,306.7 L456.9,306.6 L457.1,306.4 L457.3,306.2 L457.5,306.0 L457.7,305.9 L457.9,305.7 L458.1,305.6 L458.3,305.4 L458.5,305.3 L458.7,305.1 L458.9,305.0 L459.1,304.8 L459.3,304.7 L459.5,304.6 L459.7,304.4 L459.9,304.3 L460.0,304.2 L460.2,304.0 L460.4,303.9 L460.6,303.8 L460.8,303.7 L461.0,303.6 L461.2,303.5 L461.4,303.3 L461.6,303.2 L461.8,303.1 L462.0,303.0 L462.2,302.9 L462.4,302.8 L462.6,302.7 L462.8,302.6 L463.0,302.5 L463.2,302.4 L463.4,302.3 L463.6,302.2 L463.7,302.1 L463.9,301.9 L464.1,301.8 L464.3,301.7 L464.5,301.6 L464.7,301.5 L464.9,301.4 L465.1,301.3 L465.3,301.2 L465.5,301.1 L465.7,301.0 L465.9,300.9 L466.1,300.8 L466.3,300.7 L466.5,300.6 L466.7,300.5 L466.9,300.3 L467.1,300.2 L467.3,300.1 L467.4,300.0 L467.6,299.8 L467.8,299.7 L468.0,299.5 L468.2,299.4 L468.4,299.2 L468.6,299.1 L468.8,298.9 L469.0,298.7 L469.2,298.5 L469.4,298.4 L469.6,298.1 L469.8,297.9 L470.0,297.7 L470.2,297.5 L470.4,297.2 L470.6,297.0 L470.8,296.7 L471.0,296.5 L471.1,296.2 L471.3,295.9 L471.5,295.6 L471.7,295.4 L471.9,295.1 L472.1,294.8 L472.3,294.5 L472.5,294.2 L472.7,293.9 L472.9,293.6 L473.1,293.3 L473.3,293.0 L473.5,292.6 L473.7,292.3 L473.9,292.0 L474.1,291.7 L474.3,291.3 L474.5,291.0 L474.7,290.6 L474.8,290.2 L475.0,289.8 L475.2,289.4 L475.4,289.0 L475.6,288.6 L475.8,288.2 L476.0,287.7 L476.2,287.3 L476.4,286.9 L476.6,286.5 L476.8,286.0 L477.0,285.6 L477.2,285.2 L477.4,284.8 L477.6,284.4 L477.8,284.0 L478.0,283.6 L478.2,283.2 L478.4,282.9 L478.5,282.5 L478.7,282.2 L478.9,281.9 L479.1,281.6 L479.3,281.2 L479.5,280.9 L479.7,280.6 L479.9,280.3 L480.1,280.0 L480.3,279.7 L480.5,279.4 L480.7,279.1 L480.9,278.8 L481.1,278.5 L481.3,278.2 L481.5,278.0 L481.7,277.7 L481.9,277.5 L482.1,277.2 L482.2,277.0 L482.4,276.8 L482.6,276.6 L482.8,276.4 L483.0,276.2 L483.2,276.0 L483.4,275.8 L483.6,275.6 L483.8,275.5 L484.0,275.3 L484.2,275.1 L484.4,274.9 L484.6,274.8 L484.8,274.6 L485.0,274.4 L485.2,274.3 L485.4,274.1 L485.6,274.0 L485.8,273.9 L485.9,273.7 L486.1,273.6 L486.3,273.5 L486.5,273.4 L486.7,273.4 L486.9,273.3 L487.1,273.2 L487.3,273.2 L487.5,273.2 L487.7,273.2 L487.9,273.1 L488.1,273.1 L488.3,273.1 L488.5,273.1 L488.7,273.1 L488.9,273.1 L489.1,273.1 L489.3,273.0 L489.5,273.0 L489.6,273.0 L489.8,273.0 L490.0,273.0 L490.2,273.0 L490.4,273.0 L490.6,273.0 L490.8,273.0 L491.0,273.0 L491.2,273.1 L491.4,273.2 L491.6,273.3 L491.8,273.4 L492.0,273.6 L492.2,273.8 L492.4,273.9 L492.6,274.2 L492.8,274.5 L493.0,275.0 L493.2,275.8 L493.3,276.7 L493.5,277.7 L493.7,278.8 L493.9,280.3 L494.1,282.2 L494.3,284.5 L494.5,287.3 L494.7,290.8 L494.9,296.3 L495.1,303.4 L495.3,311.4 L495.5,319.6 L495.7,329.6 L495.9,342.5 L496.1,355.5 L496.3,365.9 L496.5,371.1 L496.7,369.5 L496.9,363.8 L497.0,355.3 L497.2,345.7 L497.4,336.4 L497.6,329.0 L497.8,322.6 L498.0,316.5 L498.2,310.6 L498.4,305.1 L498.6,299.9 L498.8,294.7 L499.0,289.7 L499.2,285.5 L499.4,282.7 L499.6,280.4 L499.8,278.3 L500.0,276.4 L500.2,274.8 L500.4,273.4 L500.6,272.3 L500.7,271.5 L500.9,270.9 L501.1,270.3 L501.3,269.8 L501.5,269.2 L501.7,268.8 L501.9,268.3 L502.1,267.8 L502.3,267.4 L502.5,267.1 L502.7,266.7 L502.9,266.4 L503.1,266.1 L503.3,265.8 L503.5,265.6 L503.7,265.4 L503.9,265.3 L504.1,265.1 L504.3,265.1 L504.4,265.0 L504.6,265.0 L504.8,265.0 L505.0,265.0 L505.2,265.1 L505.4,265.1 L505.6,265.2 L505.8,265.2 L506.0,265.3 L506.2,265.4 L506.4,265.5 L506.6,265.6 L506.8,265.7 L507.0,265.8 L507.2,265.9 L507.4,266.1 L507.6,266.2 L507.8,266.3 L508.0,266.4 L508.1,266.5 L508.3,266.7 L508.5,266.8 L508.7,266.9 L508.9,267.0 L509.1,267.1 L509.3,267.2 L509.5,267.4 L509.7,267.5 L509.9,267.6 L510.1,267.8 L510.3,267.9 L510.5,268.0 L510.7,268.2 L510.9,268.3 L511.1,268.5 L511.3,268.6 L511.5,268.8 L511.7,268.9 L511.8,269.1 L512.0,269.3 L512.2,269.4 L512.4,269.6 L512.6,269.8 L512.8,269.9 L513.0,270.1 L513.2,270.2 L513.4,270.4 L513.6,270.6 L513.8,270.7 L514.0,270.9 L514.2,271.1 L514.4,271.2 L514.6,271.4 L514.8,271.6 L515.0,271.8 L515.2,272.0 L515.4,272.2 L515.5,272.4 L515.7,272.7 L515.9,273.0 L516.1,273.2 L516.3,273.6 L516.5,274.0 L516.7,274.4 L516.9,274.8 L517.1,275.3 L517.3,275.9 L517.5,276.4 L517.7,277.0 L517.9,277.6 L518.1,278.3 L518.3,278.9 L518.5,279.6 L518.7,280.3 L518.9,281.1 L519.1,281.9 L519.2,282.8 L519.4,283.7 L519.6,284.7 L519.8,285.7 L520.0,286.9 L520.2,288.2 L520.4,289.7 L520.6,291.4 L520.8,293.1 L521.0,295.0" fill="none" stroke="#f3a373" stroke-width="0.9" stroke-linejoin="round" />
<path d="M443.3,340.5 L443.5,339.6 L443.7,338.8 L443.9,337.9 L444.1,337.1 L444.3,336.2 L444.5,335.4 L444.7,334.6 L444.9,333.8 L445.1,333.0 L445.2,332.3 L445.4,331.5 L445.6,330.8 L445.8,330.1 L446.0,329.4 L446.2,328.7 L446.4,328.1 L446.6,327.4 L446.8,326.8 L447.0,326.2 L447.2,325.6 L447.4,324.9 L447.6,324.3 L447.8,323.8 L448.0,323.2 L448.2,322.6 L448.4,322.0 L448.6,321.5 L448.7,321.0 L448.9,320.4 L449.1,319.9 L449.3,319.4 L449.5,318.9 L449.7,318.4 L449.9,318.0 L450.1,317.5 L450.3,317.1 L450.5,316.6 L450.7,316.2 L450.9,315.8 L451.1,315.4 L451.3,315.0 L451.5,314.6 L451.7,314.2 L451.9,313.9 L452.1,313.5 L452.2,313.1 L452.4,312.8 L452.6,312.4 L452.8,312.0 L453.0,311.7 L453.2,311.4 L453.4,311.0 L453.6,310.7 L453.8,310.4 L454.0,310.1 L454.2,309.8 L454.4,309.5 L454.6,309.2 L454.8,309.0 L455.0,308.7 L455.2,308.5 L455.4,308.2 L455.6,308.0 L455.7,307.8 L455.9,307.5 L456.1,307.3 L456.3,307.1 L456.5,306.9 L456.7,306.8 L456.9,306.6 L457.1,306.4 L457.3,306.2 L457.5,306.1 L457.7,305.9 L457.9,305.7 L458.1,305.6 L458.3,305.4 L458.5,305.3 L458.7,305.1 L458.9,305.0 L459.1,304.9 L459.2,304.7 L459.4,304.6 L459.6,304.4 L459.8,304.3 L460.0,304.2 L460.2,304.1 L460.4,303.9 L460.6,303.8 L460.8,303.7 L461.0,303.6 L461.2,303.5 L461.4,303.4 L461.6,303.3 L461.8,303.2 L462.0,303.1 L462.2,303.0 L462.4,302.9 L462.6,302.8 L462.7,302.7 L462.9,302.6 L463.1,302.5 L463.3,302.3 L463.5,302.2 L463.7,302.0 L463.9,301.9 L464.1,301.7 L464.3,301.6 L464.5,301.4 L464.7,301.2 L464.9,301.0 L465.1,300.8 L465.3,300.6 L465.5,300.4 L465.7,300.2 L465.9,300.0 L466.1,299.8 L466.2,299.6 L466.4,299.4 L466.6,299.1 L466.8,298.9 L467.0,298.7 L467.2,298.4 L467.4,298.2 L467.6,297.9 L467.8,297.7 L468.0,297.4 L468.2,297.1 L468.4,296.9 L468.6,296.6 L468.8,296.4 L469.0,296.1 L469.2,295.8 L469.4,295.5 L469.6,295.1 L469.8,294.8 L469.9,294.5 L470.1,294.1 L470.3,293.8 L470.5,293.4 L470.7,293.0 L470.9,292.7 L471.1,292.3 L471.3,291.9 L471.5,291.5 L471.7,291.2 L471.9,290.8 L472.1,290.4 L472.3,290.1 L472.5,289.7 L472.7,289.3 L472.9,289.0 L473.1,288.6 L473.3,288.3 L473.4,287.9 L473.6,287.5 L473.8,287.1 L474.0,286.7 L474.2,286.4 L474.4,286.0 L474.6,285.6 L474.8,285.2 L475.0,284.8 L475.2,284.4 L475.4,284.1 L475.6,283.7 L475.8,283.3 L476.0,283.0 L476.2,282.6 L476.4,282.3 L476.6,282.0 L476.8,281.7 L476.9,281.4 L477.1,281.1 L477.3,280.9 L477.5,280.6 L477.7,280.3 L477.9,280.0 L478.1,279.8 L478.3,279.5 L478.5,279.3 L478.7,279.0 L478.9,278.8 L479.1,278.6 L479.3,278.5 L479.5,278.4 L479.7,278.3 L479.9,278.3 L480.1,278.2 L480.3,278.2 L480.4,278.1 L480.6,278.1 L480.8,278.1 L481.0,278.0 L481.2,278.0 L481.4,278.0 L481.6,278.0 L481.8,277.9 L482.0,277.9 L482.2,277.9 L482.4,277.9 L482.6,277.9 L482.8,277.8 L483.0,277.8 L483.2,277.8 L483.4,277.8 L483.6,277.8 L483.8,277.8 L483.9,277.8 L484.1,277.8 L484.3,277.8 L484.5,277.9 L484.7,277.9 L484.9,277.9 L485.1,278.0 L485.3,278.1 L485.5,278.2 L485.7,278.3 L485.9,278.4 L486.1,278.5 L486.3,278.6 L486.5,278.7 L486.7,278.8 L486.9,278.9 L487.1,279.0 L487.3,279.2 L487.4,279.3 L487.6,279.4 L487.8,279.5 L488.0,279.6 L488.2,279.8 L488.4,279.9 L488.6,280.1 L488.8,280.2 L489.0,280.4 L489.2,280.5 L489.4,280.7 L489.6,280.9 L489.8,281.1 L490.0,281.3 L490.2,281.6 L490.4,281.8 L490.6,282.1 L490.8,282.4 L490.9,282.7 L491.1,283.0 L491.3,283.4 L491.5,283.8 L491.7,284.3 L491.9,284.8 L492.1,285.4 L492.3,286.1 L492.5,286.8 L492.7,287.6 L492.9,288.5 L493.1,289.4 L493.3,290.7 L493.5,292.6 L493.7,295.0 L493.9,297.9 L494.1,301.1 L494.3,305.1 L494.4,310.1 L494.6,316.0 L494.8,322.5 L495.0,329.6 L495.2,337.1 L495.4,345.9 L495.6,358.6 L495.8,373.3 L496.0,387.8 L496.2,399.8 L496.4,407.1 L496.6,407.8 L496.8,404.0 L497.0,397.3 L497.2,388.7 L497.4,379.2 L497.6,369.8 L497.8,361.6 L498.0,354.7 L498.1,347.8 L498.3,341.1 L498.5,334.5 L498.7,328.1 L498.9,322.2 L499.1,316.7 L499.3,311.3 L499.5,306.3 L499.7,301.9 L499.9,298.3 L500.1,294.7 L500.3,291.3 L500.5,288.0 L500.7,284.9 L500.9,282.1 L501.1,279.6 L501.3,277.4 L501.5,275.7 L501.6,274.5 L501.8,273.6 L502.0,272.8 L502.2,272.1 L502.4,271.5 L502.6,271.0 L502.8,270.6 L503.0,270.4 L503.2,270.3 L503.4,270.3 L503.6,270.3 L503.8,270.3 L504.0,270.4 L504.2,270.4 L504.4,270.4 L504.6,270.5 L504.8,270.5 L505.0,270.6 L505.1,270.6 L505.3,270.7 L505.5,270.7 L505.7,270.7 L505.9,270.8 L506.1,270.8 L506.3,270.9 L506.5,270.9 L506.7,270.9 L506.9,271.0 L507.1,271.0 L507.3,271.1 L507.5,271.1 L507.7,271.2 L507.9,271.2 L508.1,271.2 L508.3,271.3 L508.5,271.3 L508.6,271.3 L508.8,271.3 L509.0,271.3 L509.2,271.3 L509.4,271.3 L509.6,271.2 L509.8,271.2 L510.0,271.1 L510.2,271.0 L510.4,271.0 L510.6,270.9 L510.8,270.8 L511.0,270.7 L511.2,270.6 L511.4,270.5 L511.6,270.4 L511.8,270.3 L512.0,270.3 L512.1,270.2 L512.3,270.1 L512.5,270.0 L512.7,269.9 L512.9,269.9 L513.1,269.8 L513.3,269.7 L513.5,269.6 L513.7,269.5 L513.9,269.4 L514.1,269.3 L514.3,269.3 L514.5,269.2 L514.7,269.2 L514.9,269.2 L515.1,269.2 L515.3,269.3 L515.5,269.4 L515.6,269.5 L515.8,269.6 L516.0,269.7 L516.2,269.9 L516.4,270.0 L516.6,270.2 L516.8,270.5 L517.0,270.7 L517.2,271.0 L517.4,271.7 L517.6,272.7 L517.8,273.9 L518.0,275.3 L518.2,276.7 L518.4,278.1 L518.6,279.4 L518.8,280.6 L519.0,281.8 L519.1,282.9 L519.3,284.1 L519.5,285.3 L519.7,286.6 L519.9,288.1 L520.1,289.7 L520.3,291.5 L520.5,293.5 L520.7,296.4 L520.9,300.0" fill="none" stroke="#a2ca7a" stroke-width="0.9" stroke-linejoin="round" />
<line x1="593.4" y1="253.7" x2="625.9" y2="253.7" stroke="#4593d6" stroke-width="1.8" />
<text x="630" y="256.4" font-size="7.85" fill="#222" text-anchor="start" font-weight="normal" >11-cell PM</text>
<line x1="593.4" y1="263.8" x2="625.9" y2="263.8" stroke="#f3a373" stroke-width="1.8" />
<text x="630" y="266.5" font-size="7.85" fill="#222" text-anchor="start" font-weight="normal" >20-cell PM</text>
<line x1="593.4" y1="273.9" x2="625.9" y2="273.9" stroke="#a2ca7a" stroke-width="1.8" />
<text x="630" y="276.6" font-size="7.85" fill="#222" text-anchor="start" font-weight="normal" >30-cell PM</text>
<rect x="525.1" y="304.3" width="151.60000000000002" height="119.89999999999998" fill="#fff" stroke="#444" stroke-width="0.7"/>
<line x1="525.1" y1="304.3" x2="527.1" y2="304.3" stroke="#333" stroke-width="0.6" />
<line x1="676.7" y1="304.3" x2="674.7" y2="304.3" stroke="#333" stroke-width="0.6" />
<text x="523.2" y="306.5" font-size="6.2" fill="#222" text-anchor="end" font-weight="normal" >0</text>
<line x1="525.1" y1="326.05" x2="527.1" y2="326.05" stroke="#333" stroke-width="0.6" />
<line x1="676.7" y1="326.05" x2="674.7" y2="326.05" stroke="#333" stroke-width="0.6" />
<text x="523.2" y="328.25" font-size="6.2" fill="#222" text-anchor="end" font-weight="normal" >−20</text>
<line x1="525.1" y1="347.8" x2="527.1" y2="347.8" stroke="#333" stroke-width="0.6" />
<line x1="676.7" y1="347.8" x2="674.7" y2="347.8" stroke="#333" stroke-width="0.6" />
<text x="523.2" y="350" font-size="6.2" fill="#222" text-anchor="end" font-weight="normal" >−40</text>
<line x1="525.1" y1="369.55" x2="527.1" y2="369.55" stroke="#333" stroke-width="0.6" />
<line x1="676.7" y1="369.55" x2="674.7" y2="369.55" stroke="#333" stroke-width="0.6" />
<text x="523.2" y="371.75" font-size="6.2" fill="#222" text-anchor="end" font-weight="normal" >−60</text>
<line x1="525.1" y1="391.3" x2="527.1" y2="391.3" stroke="#333" stroke-width="0.6" />
<line x1="676.7" y1="391.3" x2="674.7" y2="391.3" stroke="#333" stroke-width="0.6" />
<text x="523.2" y="393.5" font-size="6.2" fill="#222" text-anchor="end" font-weight="normal" >−80</text>
<line x1="525.1" y1="413.05" x2="527.1" y2="413.05" stroke="#333" stroke-width="0.6" />
<line x1="676.7" y1="413.05" x2="674.7" y2="413.05" stroke="#333" stroke-width="0.6" />
<text x="523.2" y="415.25" font-size="6.2" fill="#222" text-anchor="end" font-weight="normal" >−100</text>
<line x1="532.3" y1="424.2" x2="532.3" y2="422.2" stroke="#333" stroke-width="0.6" />
<line x1="532.3" y1="304.3" x2="532.3" y2="306.3" stroke="#333" stroke-width="0.6" />
<text x="532.3" y="431" font-size="6.2" fill="#222" text-anchor="middle" font-weight="normal" >34</text>
<line x1="561.14" y1="424.2" x2="561.14" y2="422.2" stroke="#333" stroke-width="0.6" />
<line x1="561.14" y1="304.3" x2="561.14" y2="306.3" stroke="#333" stroke-width="0.6" />
<text x="561.14" y="431" font-size="6.2" fill="#222" text-anchor="middle" font-weight="normal" >36</text>
<line x1="589.98" y1="424.2" x2="589.98" y2="422.2" stroke="#333" stroke-width="0.6" />
<line x1="589.98" y1="304.3" x2="589.98" y2="306.3" stroke="#333" stroke-width="0.6" />
<text x="589.98" y="431" font-size="6.2" fill="#222" text-anchor="middle" font-weight="normal" >38</text>
<line x1="618.82" y1="424.2" x2="618.82" y2="422.2" stroke="#333" stroke-width="0.6" />
<line x1="618.82" y1="304.3" x2="618.82" y2="306.3" stroke="#333" stroke-width="0.6" />
<text x="618.82" y="431" font-size="6.2" fill="#222" text-anchor="middle" font-weight="normal" >40</text>
<line x1="647.66" y1="424.2" x2="647.66" y2="422.2" stroke="#333" stroke-width="0.6" />
<line x1="647.66" y1="304.3" x2="647.66" y2="306.3" stroke="#333" stroke-width="0.6" />
<text x="647.66" y="431" font-size="6.2" fill="#222" text-anchor="middle" font-weight="normal" >42</text>
<line x1="676.5" y1="424.2" x2="676.5" y2="422.2" stroke="#333" stroke-width="0.6" />
<line x1="676.5" y1="304.3" x2="676.5" y2="306.3" stroke="#333" stroke-width="0.6" />
<text x="676.5" y="431" font-size="6.2" fill="#222" text-anchor="middle" font-weight="normal" >44</text>
<clipPath id="clipd"><rect x="525.1" y="304.3" width="151.60000000000002" height="119.89999999999998"/></clipPath>
<path d="M525.3,377.1 L525.5,375.9 L525.6,374.7 L525.8,373.7 L525.9,372.7 L526.1,371.8 L526.2,370.9 L526.4,370.1 L526.6,369.4 L526.7,368.7 L526.9,368.0 L527.0,367.4 L527.2,366.8 L527.3,366.2 L527.5,365.7 L527.6,365.2 L527.8,364.8 L527.9,364.3 L528.1,363.9 L528.2,363.5 L528.4,363.2 L528.5,362.9 L528.7,362.6 L528.8,362.3 L529.0,362.1 L529.1,361.8 L529.3,361.6 L529.4,361.4 L529.6,361.3 L529.7,361.1 L529.9,361.0 L530.0,360.9 L530.2,360.8 L530.3,360.8 L530.5,360.7 L530.6,360.7 L530.8,360.7 L530.9,360.7 L531.1,360.8 L531.3,360.8 L531.4,360.9 L531.6,361.0 L531.7,361.1 L531.9,361.3 L532.0,361.5 L532.2,361.7 L532.3,361.9 L532.5,362.1 L532.6,362.4 L532.8,362.7 L532.9,363.0 L533.1,363.4 L533.2,363.8 L533.4,364.2 L533.5,364.6 L533.7,365.1 L533.8,365.6 L534.0,366.2 L534.1,366.8 L534.3,367.4 L534.4,368.1 L534.6,368.8 L534.7,369.6 L534.9,370.5 L535.0,371.4 L535.2,372.4 L535.3,373.4 L535.5,374.6 L535.6,375.9 L535.8,377.3 L535.9,378.8 L536.1,380.5 L536.3,382.4 L536.4,384.6 L536.6,387.0 L536.7,389.9 L536.9,393.4 L537.0,397.6 L537.2,403.2 L537.3,411.2 L537.5,412.8 L537.6,412.8 L537.8,412.8 L537.9,408.6 L538.1,401.3 L538.2,396.0 L538.4,391.9 L538.5,388.5 L538.7,385.7 L538.8,383.2 L539.0,381.0 L539.1,379.1 L539.3,377.3 L539.4,375.7 L539.6,374.2 L539.7,372.9 L539.9,371.7 L540.0,370.5 L540.2,369.4 L540.3,368.4 L540.5,367.5 L540.6,366.6 L540.8,365.8 L541.0,365.0 L541.1,364.3 L541.3,363.6 L541.4,363.0 L541.6,362.4 L541.7,361.8 L541.9,361.3 L542.0,360.8 L542.2,360.3 L542.3,359.8 L542.5,359.4 L542.6,359.0 L542.8,358.7 L542.9,358.3 L543.1,358.0 L543.2,357.7 L543.4,357.5 L543.5,357.2 L543.7,357.0 L543.8,356.8 L544.0,356.6 L544.1,356.4 L544.3,356.3 L544.4,356.2 L544.6,356.1 L544.7,356.0 L544.9,356.0 L545.0,355.9 L545.2,355.9 L545.3,355.9 L545.5,355.9 L545.6,356.0 L545.8,356.1 L546.0,356.2 L546.1,356.3 L546.3,356.4 L546.4,356.6 L546.6,356.7 L546.7,356.9 L546.9,357.2 L547.0,357.4 L547.2,357.7 L547.3,358.0 L547.5,358.3 L547.6,358.7 L547.8,359.1 L547.9,359.5 L548.1,360.0 L548.2,360.5 L548.4,361.0 L548.5,361.6 L548.7,362.2 L548.8,362.9 L549.0,363.6 L549.1,364.3 L549.3,365.2 L549.4,366.1 L549.6,367.0 L549.7,368.1 L549.9,369.2 L550.0,370.5 L550.2,371.8 L550.3,373.3 L550.5,375.0 L550.7,376.8 L550.8,378.9 L551.0,381.3 L551.1,384.1 L551.3,387.5 L551.4,391.6 L551.6,396.9 L551.7,404.4 L551.9,414.2 L552.0,414.0 L552.2,413.8 L552.3,404.4 L552.5,396.7 L552.6,391.2 L552.8,386.9 L552.9,383.4 L553.1,380.5 L553.2,377.9 L553.4,375.7 L553.5,373.7 L553.7,371.9 L553.8,370.3 L554.0,368.8 L554.1,367.4 L554.3,366.1 L554.4,364.9 L554.6,363.8 L554.7,362.8 L554.9,361.9 L555.0,361.0 L555.2,360.1 L555.3,359.3 L555.5,358.6 L555.7,357.8 L555.8,357.2 L556.0,356.5 L556.1,356.0 L556.3,355.4 L556.4,354.9 L556.6,354.4 L556.7,353.9 L556.9,353.5 L557.0,353.0 L557.2,352.7 L557.3,352.3 L557.5,351.9 L557.6,351.6 L557.8,351.3 L557.9,351.1 L558.1,350.8 L558.2,350.6 L558.4,350.4 L558.5,350.2 L558.7,350.0 L558.8,349.9 L559.0,349.8 L559.1,349.7 L559.3,349.6 L559.4,349.5 L559.6,349.5 L559.7,349.5 L559.9,349.5 L560.0,349.5 L560.2,349.5 L560.4,349.6 L560.5,349.7 L560.7,349.8 L560.8,349.9 L561.0,350.1 L561.1,350.3 L561.3,350.5 L561.4,350.7 L561.6,350.9 L561.7,351.2 L561.9,351.5 L562.0,351.8 L562.2,352.2 L562.3,352.6 L562.5,353.0 L562.6,353.5 L562.8,354.0 L562.9,354.5 L563.1,355.1 L563.2,355.7 L563.4,356.4 L563.5,357.2 L563.7,357.9 L563.8,358.8 L564.0,359.7 L564.1,360.7 L564.3,361.8 L564.4,363.0 L564.6,364.3 L564.7,365.8 L564.9,367.4 L565.0,369.2 L565.2,371.2 L565.4,373.5 L565.5,376.2 L565.7,379.5 L565.8,383.4 L566.0,388.5 L566.1,395.5 L566.3,397.2 L566.4,397.0 L566.6,396.8 L566.7,396.6 L566.9,389.8 L567.0,384.1 L567.2,379.6 L567.3,376.0 L567.5,373.0 L567.6,370.3 L567.8,368.0 L567.9,366.0 L568.1,364.1 L568.2,362.4 L568.4,360.9 L568.5,359.4 L568.7,358.1 L568.8,356.9 L569.0,355.7 L569.1,354.6 L569.3,353.6 L569.4,352.7 L569.6,351.8 L569.7,350.9 L569.9,350.1 L570.1,349.4 L570.2,348.7 L570.4,348.0 L570.5,347.3 L570.7,346.7 L570.8,346.2 L571.0,345.6 L571.1,345.1 L571.3,344.6 L571.4,344.1 L571.6,343.7 L571.7,343.3 L571.9,342.9 L572.0,342.5 L572.2,342.2 L572.3,341.9 L572.5,341.6 L572.6,341.3 L572.8,341.0 L572.9,340.8 L573.1,340.6 L573.2,340.4 L573.4,340.2 L573.5,340.0 L573.7,339.9 L573.8,339.8 L574.0,339.7 L574.1,339.6 L574.3,339.5 L574.4,339.5 L574.6,339.5 L574.7,339.5 L574.9,339.5 L575.1,339.5 L575.2,339.6 L575.4,339.7 L575.5,339.8 L575.7,339.9 L575.8,340.1 L576.0,340.3 L576.1,340.5 L576.3,340.7 L576.4,341.0 L576.6,341.2 L576.7,341.6 L576.9,341.9 L577.0,342.3 L577.2,342.7 L577.3,343.2 L577.5,343.7 L577.6,344.2 L577.8,344.8 L577.9,345.5 L578.1,346.2 L578.2,346.9 L578.4,347.8 L578.5,348.7 L578.7,349.7 L578.8,350.8 L579.0,352.0 L579.1,353.3 L579.3,354.8 L579.4,356.5 L579.6,358.4 L579.8,360.5 L579.9,363.1 L580.1,366.1 L580.2,369.8 L580.4,374.6 L580.5,378.4 L580.7,378.2 L580.8,378.1 L581.0,378.1 L581.1,378.1 L581.3,377.1 L581.4,371.0 L581.6,366.3 L581.7,362.4 L581.9,359.2 L582.0,356.4 L582.2,353.9 L582.3,351.7 L582.5,349.7 L582.6,347.8 L582.8,346.1 L582.9,344.5 L583.1,343.1 L583.2,341.7 L583.4,340.4 L583.5,339.1 L583.7,337.9 L583.8,336.8 L584.0,335.8 L584.1,334.7 L584.3,333.8 L584.4,332.8 L584.6,331.9 L584.8,331.1 L584.9,330.3 L585.1,329.5 L585.2,328.7 L585.4,327.9 L585.5,327.2 L585.7,326.5 L585.8,325.8 L586.0,325.2 L586.1,324.6 L586.3,326.0 L586.4,325.5 L586.6,325.0 L586.7,324.4 L586.9,324.0 L587.0,323.5 L587.2,323.1 L587.3,322.7 L587.5,322.4 L587.6,322.0 L587.8,321.7 L587.9,321.4 L588.1,321.1 L588.2,320.8 L588.4,320.5 L588.5,320.3 L588.7,320.1 L588.8,319.9 L589.0,319.6 L589.1,319.5 L589.3,319.3 L589.5,319.1 L589.6,319.0 L589.8,318.9 L589.9,318.8 L590.1,318.7 L590.2,318.6 L590.4,318.5 L590.5,318.4 L590.7,318.3 L590.8,318.2 L591.0,318.2 L591.1,318.1 L591.3,318.0 L591.4,318.0 L591.6,317.9 L591.7,317.7 L591.9,317.6 L592.0,317.5 L592.2,317.3 L592.3,317.2 L592.5,317.0 L592.6,316.9 L592.8,316.7 L592.9,316.5 L593.1,316.3 L593.2,316.1 L593.4,315.8 L593.5,315.6 L593.7,315.3 L593.8,315.1 L594.0,314.9 L594.1,314.6 L594.3,314.4 L594.5,314.1 L594.6,313.9 L594.8,313.6 L594.9,313.4 L595.1,313.2 L595.2,313.0 L595.4,312.9 L595.5,312.7 L595.7,312.6 L595.8,312.6 L596.0,312.6 L596.1,312.6 L596.3,312.5 L596.4,312.5 L596.6,312.5 L596.7,312.5 L596.9,312.5 L597.0,312.5 L597.2,312.6 L597.3,312.6 L597.5,312.7 L597.6,312.8 L597.8,312.9 L597.9,312.9 L598.1,313.0 L598.2,313.2 L598.4,313.3 L598.5,313.5 L598.7,313.7 L598.8,313.9 L599.0,314.3 L599.2,314.8 L599.3,315.6 L599.5,317.4 L599.6,320.4 L599.8,324.9 L599.9,332.1 L600.1,340.3 L600.2,339.8 L600.4,334.2 L600.5,329.0 L600.7,324.6 L600.8,320.7 L601.0,317.6 L601.1,315.3 L601.3,313.3 L601.4,312.0 L601.6,311.4 L601.7,311.0 L601.9,310.8 L602.0,310.9 L602.2,310.9 L602.3,310.9 L602.5,310.9 L602.6,311.0 L602.8,311.0 L602.9,311.0 L603.1,311.0 L603.2,311.1 L603.4,311.1 L603.5,311.1 L603.7,311.0 L603.8,311.0 L604.0,310.9 L604.2,310.8 L604.3,310.8 L604.5,310.7 L604.6,310.7 L604.8,310.6 L604.9,310.6 L605.1,310.6 L605.2,310.7 L605.4,310.8 L605.5,311.0 L605.7,311.5 L605.8,312.4 L606.0,313.2 L606.1,314.0 L606.3,314.9 L606.4,327.2 L606.6,328.2 L606.7,329.2 L606.9,330.3 L607.0,331.4 L607.2,332.7 L607.3,333.9 L607.5,335.3 L607.6,336.8 L607.8,338.3 L607.9,340.0 L608.1,341.9 L608.2,343.9 L608.4,346.1 L608.5,348.6 L608.7,351.4 L608.9,354.7 L609.0,358.6 L609.2,363.4 L609.3,369.7 L609.5,373.1 L609.6,373.1 L609.8,373.1 L609.9,373.0 L610.1,372.0 L610.2,365.6 L610.4,361.0 L610.5,357.3 L610.7,354.4 L610.8,351.8 L611.0,349.7 L611.1,347.8 L611.3,346.1 L611.4,344.6 L611.6,343.3 L611.7,342.1 L611.9,341.0 L612.0,340.0 L612.2,339.1 L612.3,338.3 L612.5,337.5 L612.6,336.8 L612.8,336.1 L612.9,335.5 L613.1,335.0 L613.2,334.5 L613.4,334.0 L613.5,333.6 L613.7,333.2 L613.9,332.8 L614.0,332.5 L614.2,332.2 L614.3,332.0 L614.5,331.7 L614.6,331.5 L614.8,331.3 L614.9,331.2 L615.1,331.0 L615.2,330.9 L615.4,330.8 L615.5,330.8 L615.7,330.7 L615.8,330.7 L616.0,330.7 L616.1,330.7 L616.3,330.8 L616.4,330.8 L616.6,330.9 L616.7,331.0 L616.9,331.1 L617.0,331.2 L617.2,331.4 L617.3,331.6 L617.5,331.8 L617.6,332.0 L617.8,332.2 L617.9,332.5 L618.1,332.8 L618.2,333.1 L618.4,333.4 L618.6,333.7 L618.7,334.1 L618.9,334.5 L619.0,334.9 L619.2,335.3 L619.3,335.8 L619.5,336.3 L619.6,336.8 L619.8,337.4 L619.9,337.9 L620.1,338.6 L620.2,339.2 L620.4,339.9 L620.5,340.6 L620.7,341.4 L620.8,342.2 L621.0,343.0 L621.1,343.9 L621.3,344.9 L621.4,345.9 L621.6,347.0 L621.7,348.1 L621.9,349.4 L622.0,350.7 L622.2,352.1 L622.3,353.7 L622.5,355.4 L622.6,357.3 L622.8,359.4 L622.9,361.7 L623.1,364.4 L623.2,367.5 L623.4,371.2 L623.6,375.8 L623.7,378.0 L623.9,378.0 L624.0,378.1 L624.2,378.2 L624.3,378.3 L624.5,378.4 L624.6,378.5 L624.8,374.0 L624.9,370.2 L625.1,367.0 L625.2,364.4 L625.4,362.1 L625.5,360.1 L625.7,358.3 L625.8,356.7 L626.0,355.3 L626.1,354.0 L626.3,352.8 L626.4,351.7 L626.6,350.7 L626.7,349.8 L626.9,348.9 L627.0,348.2 L627.2,347.4 L627.3,346.8 L627.5,346.1 L627.6,345.6 L627.8,345.0 L627.9,344.5 L628.1,344.1 L628.3,343.6 L628.4,343.3 L628.6,342.9 L628.7,342.6 L628.9,342.3 L629.0,342.0 L629.2,341.7 L629.3,341.5 L629.5,341.3 L629.6,341.1 L629.8,341.0 L629.9,340.9 L630.1,340.8 L630.2,340.7 L630.4,340.6 L630.5,340.6 L630.7,340.6 L630.8,340.6 L631.0,340.6 L631.1,340.6 L631.3,340.7 L631.4,340.8 L631.6,340.9 L631.7,341.0 L631.9,341.2 L632.0,341.3 L632.2,341.5 L632.3,341.7 L632.5,341.9 L632.6,342.2 L632.8,342.5 L632.9,342.8 L633.1,343.1 L633.3,343.4 L633.4,343.8 L633.6,344.2 L633.7,344.6 L633.9,345.0 L634.0,345.5 L634.2,346.0 L634.3,346.5 L634.5,347.1 L634.6,347.7 L634.8,348.3 L634.9,349.0 L635.1,349.7 L635.2,350.5 L635.4,351.3 L635.5,352.1 L635.7,353.0 L635.8,354.0 L636.0,355.1 L636.1,356.2 L636.3,357.4 L636.4,358.6 L636.6,360.0 L636.7,361.5 L636.9,363.2 L637.0,365.0 L637.2,367.0 L637.3,369.3 L637.5,371.9 L637.6,374.9 L637.8,378.4 L638.0,382.8 L638.1,388.0 L638.3,388.1 L638.4,388.1 L638.6,388.2 L638.7,388.3 L638.9,388.3 L639.0,387.3 L639.2,382.1 L639.3,378.1 L639.5,374.9 L639.6,372.1 L639.8,369.8 L639.9,367.7 L640.1,365.9 L640.2,364.2 L640.4,362.7 L640.5,361.4 L640.7,360.2 L640.8,359.0 L641.0,358.0 L641.1,357.0 L641.3,356.2 L641.4,355.3 L641.6,354.6 L641.7,353.9 L641.9,353.2 L642.0,352.6 L642.2,352.0 L642.3,351.5 L642.5,351.0 L642.6,350.6 L642.8,350.1 L643.0,349.7 L643.1,349.4 L643.3,349.1 L643.4,348.7 L643.6,348.5 L643.7,348.2 L643.9,348.0 L644.0,347.8 L644.2,347.6 L644.3,347.5 L644.5,347.3 L644.6,347.2 L644.8,347.1 L644.9,347.1 L645.1,347.0 L645.2,347.0 L645.4,347.0 L645.5,347.0 L645.7,347.1 L645.8,347.1 L646.0,347.2 L646.1,347.3 L646.3,347.4 L646.4,347.5 L646.6,347.7 L646.7,347.9 L646.9,348.1 L647.0,348.3 L647.2,348.6 L647.3,348.8 L647.5,349.1 L647.7,349.4 L647.8,349.8 L648.0,350.2 L648.1,350.5 L648.3,351.0 L648.4,351.4 L648.6,351.9 L648.7,352.4 L648.9,352.9 L649.0,353.5 L649.2,354.1 L649.3,354.8 L649.5,355.5 L649.6,356.2 L649.8,357.0 L649.9,357.8 L650.1,358.7 L650.2,359.6 L650.4,360.6 L650.5,361.7 L650.7,362.9 L650.8,364.1 L651.0,365.5 L651.1,367.0 L651.3,368.6 L651.4,370.3 L651.6,372.3 L651.7,374.5 L651.9,377.0 L652.0,380.0 L652.2,383.4 L652.3,387.6 L652.5,393.1 L652.7,394.0 L652.8,394.0 L653.0,394.1 L653.1,394.2 L653.3,394.2 L653.4,393.5 L653.6,388.2 L653.7,384.0 L653.9,380.6 L654.0,377.8 L654.2,375.4 L654.3,373.3 L654.5,371.4 L654.6,369.7 L654.8,368.2 L654.9,366.8 L655.1,365.6 L655.2,364.4 L655.4,363.3 L655.5,362.3 L655.7,361.4 L655.8,360.6 L656.0,359.8 L656.1,359.1 L656.3,358.4 L656.4,357.8 L656.6,357.2 L656.7,356.6 L656.9,356.1 L657.0,355.6 L657.2,355.2 L657.4,354.8 L657.5,354.4 L657.7,354.1 L657.8,353.7 L658.0,353.4 L658.1,353.2 L658.3,352.9 L658.4,352.7 L658.6,352.5 L658.7,352.4 L658.9,352.2 L659.0,352.1 L659.2,352.0 L659.3,351.9 L659.5,351.8 L659.6,351.8 L659.8,351.8 L659.9,351.8 L660.1,351.8 L660.2,351.8 L660.4,351.9 L660.5,352.0 L660.7,352.1 L660.8,352.2 L661.0,352.4 L661.1,352.5 L661.3,352.7 L661.4,352.9 L661.6,353.2 L661.7,353.4 L661.9,353.7 L662.0,354.0 L662.2,354.3 L662.4,354.7 L662.5,355.1 L662.7,355.5 L662.8,355.9 L663.0,356.3 L663.1,356.8 L663.3,357.4 L663.4,357.9 L663.6,358.5 L663.7,359.1 L663.9,359.8 L664.0,360.5 L664.2,361.3 L664.3,362.1 L664.5,363.0 L664.6,363.9 L664.8,364.9 L664.9,365.9 L665.1,367.1 L665.2,368.3 L665.4,369.6 L665.5,371.1 L665.7,372.7 L665.8,374.4 L666.0,376.3 L666.1,378.5 L666.3,381.0 L666.4,383.8 L666.6,387.1 L666.7,391.2 L666.9,396.4 L667.1,398.7 L667.2,398.8 L667.4,398.8 L667.5,398.8 L667.7,398.8 L667.8,398.6 L668.0,393.0 L668.1,388.7 L668.3,385.2 L668.4,382.3 L668.6,379.9 L668.7,377.7 L668.9,375.8 L669.0,374.0 L669.2,372.5 L669.3,371.1 L669.5,369.8 L669.6,368.6 L669.8,367.5 L669.9,366.5 L670.1,365.6 L670.2,364.7 L670.4,363.9 L670.5,363.2 L670.7,362.5 L670.8,361.9 L671.0,361.2 L671.1,360.7 L671.3,360.2 L671.4,359.7 L671.6,359.2 L671.7,358.8 L671.9,358.4 L672.1,358.0 L672.2,357.7 L672.4,357.4 L672.5,357.1 L672.7,356.9 L672.8,356.6 L673.0,356.4 L673.1,356.3 L673.3,356.1 L673.4,356.0 L673.6,355.8 L673.7,355.7 L673.9,355.7 L674.0,355.6 L674.2,355.6 L674.3,355.6 L674.5,355.6 L674.6,355.6 L674.8,355.7 L674.9,355.7 L675.1,355.8 L675.2,356.0 L675.4,356.1 L675.5,356.2 L675.7,356.4 L675.8,356.6 L676.0,356.8 L676.1,357.1 L676.3,357.4 L676.4,357.6 L676.6,358.0 L676.8,358.3" fill="none" stroke="#4593d6" stroke-width="0.6" stroke-linejoin="round" clip-path="url(#clipd)"/>
<path d="M524.9,377.0 L525.1,375.8 L525.2,374.7 L525.4,373.6 L525.5,372.6 L525.7,371.7 L525.8,370.9 L526.0,370.1 L526.2,369.3 L526.3,368.6 L526.5,367.9 L526.6,367.3 L526.8,366.7 L526.9,366.2 L527.1,365.7 L527.2,365.2 L527.4,364.7 L527.5,364.3 L527.7,363.9 L527.8,363.5 L528.0,363.2 L528.1,362.8 L528.3,362.5 L528.4,362.3 L528.6,362.0 L528.7,361.8 L528.9,361.6 L529.0,361.4 L529.2,361.2 L529.3,361.1 L529.5,360.9 L529.6,360.8 L529.8,360.8 L529.9,360.7 L530.1,360.7 L530.2,360.6 L530.4,360.6 L530.5,360.7 L530.7,360.7 L530.9,360.8 L531.0,360.9 L531.2,361.0 L531.3,361.1 L531.5,361.2 L531.6,361.4 L531.8,361.6 L531.9,361.8 L532.1,362.1 L532.2,362.3 L532.4,362.6 L532.5,363.0 L532.7,363.3 L532.8,363.7 L533.0,364.1 L533.1,364.6 L533.3,365.0 L533.4,365.6 L533.6,366.1 L533.7,366.7 L533.9,367.3 L534.0,368.0 L534.2,368.8 L534.3,369.6 L534.5,370.4 L534.6,371.3 L534.8,372.3 L534.9,373.4 L535.1,374.6 L535.2,375.8 L535.4,377.2 L535.5,378.8 L535.7,380.5 L535.9,382.4 L536.0,384.5 L536.2,387.0 L536.3,389.9 L536.5,393.3 L536.6,397.6 L536.8,403.1 L536.9,411.2 L537.1,412.7 L537.2,412.7 L537.4,412.8 L537.5,408.5 L537.7,401.2 L537.8,396.0 L538.0,391.8 L538.1,388.5 L538.3,385.6 L538.4,383.1 L538.6,380.9 L538.7,379.0 L538.9,377.2 L539.0,375.6 L539.2,374.2 L539.3,372.8 L539.5,371.6 L539.6,370.5 L539.8,369.4 L539.9,368.4 L540.1,367.4 L540.2,366.6 L540.4,365.7 L540.6,365.0 L540.7,364.2 L540.9,363.6 L541.0,362.9 L541.2,362.3 L541.3,361.7 L541.5,361.2 L541.6,360.7 L541.8,360.2 L541.9,359.8 L542.1,359.4 L542.2,359.0 L542.4,358.6 L542.5,358.3 L542.7,358.0 L542.8,357.7 L543.0,357.4 L543.1,357.2 L543.3,356.9 L543.4,356.7 L543.6,356.6 L543.7,356.4 L543.9,356.3 L544.0,356.1 L544.2,356.0 L544.3,356.0 L544.5,355.9 L544.6,355.9 L544.8,355.9 L544.9,355.9 L545.1,355.9 L545.2,355.9 L545.4,356.0 L545.6,356.1 L545.7,356.2 L545.9,356.3 L546.0,356.5 L546.2,356.7 L546.3,356.9 L546.5,357.1 L546.6,357.4 L546.8,357.6 L546.9,358.0 L547.1,358.3 L547.2,358.7 L547.4,359.0 L547.5,359.5 L547.7,359.9 L547.8,360.4 L548.0,361.0 L548.1,361.5 L548.3,362.2 L548.4,362.8 L548.6,363.5 L548.7,364.3 L548.9,365.1 L549.0,366.0 L549.2,367.0 L549.3,368.0 L549.5,369.2 L549.6,370.4 L549.8,371.8 L549.9,373.3 L550.1,374.9 L550.3,376.8 L550.4,378.9 L550.6,381.3 L550.7,384.1 L550.9,387.4 L551.0,391.5 L551.2,396.8 L551.3,404.4 L551.5,414.1 L551.6,413.9 L551.8,413.8 L551.9,404.4 L552.1,396.6 L552.2,391.1 L552.4,386.9 L552.5,383.4 L552.7,380.4 L552.8,377.9 L553.0,375.7 L553.1,373.7 L553.3,371.9 L553.4,370.2 L553.6,368.7 L553.7,367.4 L553.9,366.1 L554.0,364.9 L554.2,363.8 L554.3,362.8 L554.5,361.8 L554.6,360.9 L554.8,360.1 L554.9,359.3 L555.1,358.5 L555.3,357.8 L555.4,357.1 L555.6,356.5 L555.7,355.9 L555.9,355.3 L556.0,354.8 L556.2,354.3 L556.3,353.8 L556.5,353.4 L556.6,353.0 L556.8,352.6 L556.9,352.2 L557.1,351.9 L557.2,351.6 L557.4,351.3 L557.5,351.0 L557.7,350.8 L557.8,350.5 L558.0,350.3 L558.1,350.2 L558.3,350.0 L558.4,349.9 L558.6,349.7 L558.7,349.6 L558.9,349.6 L559.0,349.5 L559.2,349.5 L559.3,349.4 L559.5,349.4 L559.6,349.5 L559.8,349.5 L560.0,349.6 L560.1,349.6 L560.3,349.7 L560.4,349.9 L560.6,350.0 L560.7,350.2 L560.9,350.4 L561.0,350.6 L561.2,350.9 L561.3,351.2 L561.5,351.5 L561.6,351.8 L561.8,352.2 L561.9,352.5 L562.1,353.0 L562.2,353.4 L562.4,353.9 L562.5,354.5 L562.7,355.1 L562.8,355.7 L563.0,356.4 L563.1,357.1 L563.3,357.9 L563.4,358.8 L563.6,359.7 L563.7,360.7 L563.9,361.8 L564.0,363.0 L564.2,364.3 L564.3,365.7 L564.5,367.3 L564.6,369.1 L564.8,371.2 L565.0,373.5 L565.1,376.2 L565.3,379.4 L565.4,383.3 L565.6,388.4 L565.7,395.5 L565.9,397.1 L566.0,396.9 L566.2,396.7 L566.3,396.5 L566.5,389.8 L566.6,384.0 L566.8,379.6 L566.9,376.0 L567.1,372.9 L567.2,370.3 L567.4,368.0 L567.5,365.9 L567.7,364.1 L567.8,362.4 L568.0,360.8 L568.1,359.4 L568.3,358.1 L568.4,356.8 L568.6,355.7 L568.7,354.6 L568.9,353.6 L569.0,352.6 L569.2,351.7 L569.3,350.9 L569.5,350.1 L569.7,349.3 L569.8,348.6 L570.0,347.9 L570.1,347.3 L570.3,346.7 L570.4,346.1 L570.6,345.6 L570.7,345.0 L570.9,344.5 L571.0,344.1 L571.2,343.6 L571.3,343.2 L571.5,342.8 L571.6,342.5 L571.8,342.1 L571.9,341.8 L572.1,341.5 L572.2,341.2 L572.4,341.0 L572.5,340.7 L572.7,340.5 L572.8,340.3 L573.0,340.1 L573.1,340.0 L573.3,339.8 L573.4,339.7 L573.6,339.6 L573.7,339.5 L573.9,339.5 L574.0,339.4 L574.2,339.4 L574.3,339.4 L574.5,339.4 L574.7,339.5 L574.8,339.5 L575.0,339.6 L575.1,339.7 L575.3,339.9 L575.4,340.0 L575.6,340.2 L575.7,340.4 L575.9,340.6 L576.0,340.9 L576.2,341.2 L576.3,341.5 L576.5,341.9 L576.6,342.2 L576.8,342.7 L576.9,343.1 L577.1,343.6 L577.2,344.2 L577.4,344.8 L577.5,345.4 L577.7,346.1 L577.8,346.9 L578.0,347.7 L578.1,348.6 L578.3,349.6 L578.4,350.7 L578.6,351.9 L578.7,353.3 L578.9,354.7 L579.0,356.4 L579.2,358.3 L579.4,360.5 L579.5,363.0 L579.7,366.1 L579.8,369.8 L580.0,374.6 L580.1,378.3 L580.3,378.1 L580.4,378.1 L580.6,378.0 L580.7,378.0 L580.9,377.1 L581.0,370.9 L581.2,366.2 L581.3,362.4 L581.5,359.2 L581.6,356.4 L581.8,353.9 L581.9,351.7 L582.1,349.6 L582.2,347.8 L582.4,346.1 L582.5,344.5 L582.7,343.0 L582.8,341.6 L583.0,340.3 L583.1,339.1 L583.3,337.9 L583.4,336.8 L583.6,335.7 L583.7,334.7 L583.9,333.7 L584.0,332.8 L584.2,331.9 L584.4,331.0 L584.5,330.2 L584.7,329.4 L584.8,328.6 L585.0,327.9 L585.1,327.2 L585.3,326.5 L585.4,325.8 L585.6,325.1 L585.7,324.5 L585.9,326.0 L586.0,325.4 L586.2,324.9 L586.3,324.4 L586.5,323.9 L586.6,323.5 L586.8,323.1 L586.9,322.7 L587.1,322.3 L587.2,322.0 L587.4,321.6 L587.5,321.3 L587.7,321.0 L587.8,320.8 L588.0,320.5 L588.1,320.3 L588.3,320.0 L588.4,319.8 L588.6,319.6 L588.7,319.4 L588.9,319.2 L589.1,319.1 L589.2,319.0 L589.4,318.8 L589.5,318.7 L589.7,318.6 L589.8,318.5 L590.0,318.4 L590.1,318.3 L590.3,318.3 L590.4,318.2 L590.6,318.1 L590.7,318.1 L590.9,318.0 L591.0,317.9 L591.2,317.8 L591.3,317.7 L591.5,317.6 L591.6,317.4 L591.8,317.3 L591.9,317.1 L592.1,317.0 L592.2,316.8 L592.4,316.7 L592.5,316.5 L592.7,316.3 L592.8,316.0 L593.0,315.8 L593.1,315.5 L593.3,315.3 L593.4,315.1 L593.6,314.8 L593.7,314.6 L593.9,314.3 L594.1,314.1 L594.2,313.8 L594.4,313.6 L594.5,313.4 L594.7,313.2 L594.8,313.0 L595.0,312.8 L595.1,312.7 L595.3,312.6 L595.4,312.6 L595.6,312.5 L595.7,312.5 L595.9,312.5 L596.0,312.5 L596.2,312.5 L596.3,312.5 L596.5,312.5 L596.6,312.5 L596.8,312.5 L596.9,312.6 L597.1,312.7 L597.2,312.7 L597.4,312.8 L597.5,312.9 L597.7,313.0 L597.8,313.1 L598.0,313.2 L598.1,313.4 L598.3,313.6 L598.4,313.9 L598.6,314.3 L598.8,314.8 L598.9,315.6 L599.1,317.3 L599.2,320.4 L599.4,324.8 L599.5,332.0 L599.7,340.3 L599.8,339.8 L600.0,334.1 L600.1,328.9 L600.3,324.5 L600.4,320.7 L600.6,317.6 L600.7,315.3 L600.9,313.3 L601.0,311.9 L601.2,311.3 L601.3,310.9 L601.5,310.8 L601.6,310.8 L601.8,310.8 L601.9,310.9 L602.1,310.9 L602.2,310.9 L602.4,310.9 L602.5,311.0 L602.7,311.0 L602.8,311.0 L603.0,311.0 L603.1,311.0 L603.3,311.0 L603.4,310.9 L603.6,310.9 L603.8,310.8 L603.9,310.7 L604.1,310.7 L604.2,310.6 L604.4,310.6 L604.5,310.6 L604.7,310.6 L604.8,310.7 L605.0,310.8 L605.1,310.9 L605.3,311.5 L605.4,312.4 L605.6,313.2 L605.7,314.0 L605.9,314.9 L606.0,327.2 L606.2,328.1 L606.3,329.2 L606.5,330.2 L606.6,331.4 L606.8,332.6 L606.9,333.9 L607.1,335.3 L607.2,336.7 L607.4,338.3 L607.5,340.0 L607.7,341.8 L607.8,343.8 L608.0,346.0 L608.1,348.5 L608.3,351.4 L608.5,354.6 L608.6,358.5 L608.8,363.3 L608.9,369.7 L609.1,373.1 L609.2,373.0 L609.4,373.0 L609.5,373.0 L609.7,371.9 L609.8,365.6 L610.0,360.9 L610.1,357.3 L610.3,354.3 L610.4,351.8 L610.6,349.6 L610.7,347.7 L610.9,346.1 L611.0,344.6 L611.2,343.3 L611.3,342.0 L611.5,341.0 L611.6,340.0 L611.8,339.0 L611.9,338.2 L612.1,337.4 L612.2,336.7 L612.4,336.1 L612.5,335.5 L612.7,334.9 L612.8,334.4 L613.0,334.0 L613.1,333.5 L613.3,333.2 L613.5,332.8 L613.6,332.5 L613.8,332.2 L613.9,331.9 L614.1,331.7 L614.2,331.5 L614.4,331.3 L614.5,331.1 L614.7,331.0 L614.8,330.9 L615.0,330.8 L615.1,330.7 L615.3,330.7 L615.4,330.7 L615.6,330.7 L615.7,330.7 L615.9,330.7 L616.0,330.8 L616.2,330.8 L616.3,330.9 L616.5,331.1 L616.6,331.2 L616.8,331.4 L616.9,331.5 L617.1,331.7 L617.2,331.9 L617.4,332.2 L617.5,332.4 L617.7,332.7 L617.8,333.0 L618.0,333.3 L618.2,333.7 L618.3,334.0 L618.5,334.4 L618.6,334.8 L618.8,335.3 L618.9,335.8 L619.1,336.2 L619.2,336.8 L619.4,337.3 L619.5,337.9 L619.7,338.5 L619.8,339.1 L620.0,339.8 L620.1,340.5 L620.3,341.3 L620.4,342.1 L620.6,343.0 L620.7,343.9 L620.9,344.8 L621.0,345.8 L621.2,346.9 L621.3,348.1 L621.5,349.3 L621.6,350.7 L621.8,352.1 L621.9,353.7 L622.1,355.4 L622.2,357.3 L622.4,359.3 L622.5,361.7 L622.7,364.4 L622.8,367.5 L623.0,371.1 L623.2,375.7 L623.3,377.9 L623.5,378.0 L623.6,378.0 L623.8,378.1 L623.9,378.2 L624.1,378.3 L624.2,378.4 L624.4,373.9 L624.5,370.1 L624.7,367.0 L624.8,364.3 L625.0,362.0 L625.1,360.0 L625.3,358.2 L625.4,356.7 L625.6,355.2 L625.7,353.9 L625.9,352.7 L626.0,351.7 L626.2,350.7 L626.3,349.7 L626.5,348.9 L626.6,348.1 L626.8,347.4 L626.9,346.7 L627.1,346.1 L627.2,345.5 L627.4,345.0 L627.5,344.5 L627.7,344.0 L627.9,343.6 L628.0,343.2 L628.2,342.8 L628.3,342.5 L628.5,342.2 L628.6,341.9 L628.8,341.7 L628.9,341.5 L629.1,341.3 L629.2,341.1 L629.4,340.9 L629.5,340.8 L629.7,340.7 L629.8,340.6 L630.0,340.6 L630.1,340.5 L630.3,340.5 L630.4,340.5 L630.6,340.5 L630.7,340.6 L630.9,340.6 L631.0,340.7 L631.2,340.8 L631.3,341.0 L631.5,341.1 L631.6,341.3 L631.8,341.5 L631.9,341.7 L632.1,341.9 L632.2,342.1 L632.4,342.4 L632.5,342.7 L632.7,343.0 L632.9,343.4 L633.0,343.7 L633.2,344.1 L633.3,344.5 L633.5,345.0 L633.6,345.5 L633.8,346.0 L633.9,346.5 L634.1,347.1 L634.2,347.7 L634.4,348.3 L634.5,349.0 L634.7,349.7 L634.8,350.4 L635.0,351.2 L635.1,352.1 L635.3,353.0 L635.4,354.0 L635.6,355.0 L635.7,356.1 L635.9,357.3 L636.0,358.6 L636.2,360.0 L636.3,361.5 L636.5,363.1 L636.6,365.0 L636.8,367.0 L636.9,369.3 L637.1,371.8 L637.2,374.8 L637.4,378.4 L637.6,382.8 L637.7,388.0 L637.9,388.0 L638.0,388.1 L638.2,388.2 L638.3,388.2 L638.5,388.3 L638.6,387.2 L638.8,382.1 L638.9,378.1 L639.1,374.8 L639.2,372.1 L639.4,369.7 L639.5,367.6 L639.7,365.8 L639.8,364.2 L640.0,362.7 L640.1,361.3 L640.3,360.1 L640.4,359.0 L640.6,358.0 L640.7,357.0 L640.9,356.1 L641.0,355.3 L641.2,354.5 L641.3,353.8 L641.5,353.2 L641.6,352.6 L641.8,352.0 L641.9,351.5 L642.1,351.0 L642.2,350.5 L642.4,350.1 L642.6,349.7 L642.7,349.3 L642.9,349.0 L643.0,348.7 L643.2,348.4 L643.3,348.2 L643.5,347.9 L643.6,347.7 L643.8,347.6 L643.9,347.4 L644.1,347.3 L644.2,347.2 L644.4,347.1 L644.5,347.0 L644.7,347.0 L644.8,347.0 L645.0,346.9 L645.1,347.0 L645.3,347.0 L645.4,347.1 L645.6,347.1 L645.7,347.2 L645.9,347.4 L646.0,347.5 L646.2,347.7 L646.3,347.8 L646.5,348.0 L646.6,348.3 L646.8,348.5 L646.9,348.8 L647.1,349.1 L647.3,349.4 L647.4,349.7 L647.6,350.1 L647.7,350.5 L647.9,350.9 L648.0,351.4 L648.2,351.8 L648.3,352.4 L648.5,352.9 L648.6,353.5 L648.8,354.1 L648.9,354.7 L649.1,355.4 L649.2,356.1 L649.4,356.9 L649.5,357.7 L649.7,358.6 L649.8,359.6 L650.0,360.6 L650.1,361.7 L650.3,362.8 L650.4,364.1 L650.6,365.4 L650.7,366.9 L650.9,368.5 L651.0,370.3 L651.2,372.3 L651.3,374.5 L651.5,377.0 L651.6,379.9 L651.8,383.4 L651.9,387.6 L652.1,393.0 L652.3,393.9 L652.4,394.0 L652.6,394.0 L652.7,394.1 L652.9,394.2 L653.0,393.5 L653.2,388.1 L653.3,384.0 L653.5,380.6 L653.6,377.8 L653.8,375.3 L653.9,373.2 L654.1,371.3 L654.2,369.7 L654.4,368.1 L654.5,366.8 L654.7,365.5 L654.8,364.3 L655.0,363.3 L655.1,362.3 L655.3,361.4 L655.4,360.5 L655.6,359.8 L655.7,359.0 L655.9,358.3 L656.0,357.7 L656.2,357.1 L656.3,356.6 L656.5,356.1 L656.6,355.6 L656.8,355.1 L657.0,354.7 L657.1,354.4 L657.3,354.0 L657.4,353.7 L657.6,353.4 L657.7,353.1 L657.9,352.9 L658.0,352.7 L658.2,352.5 L658.3,352.3 L658.5,352.2 L658.6,352.0 L658.8,351.9 L658.9,351.8 L659.1,351.8 L659.2,351.7 L659.4,351.7 L659.5,351.7 L659.7,351.7 L659.8,351.8 L660.0,351.9 L660.1,351.9 L660.3,352.0 L660.4,352.2 L660.6,352.3 L660.7,352.5 L660.9,352.7 L661.0,352.9 L661.2,353.1 L661.3,353.4 L661.5,353.6 L661.6,353.9 L661.8,354.3 L662.0,354.6 L662.1,355.0 L662.3,355.4 L662.4,355.8 L662.6,356.3 L662.7,356.8 L662.9,357.3 L663.0,357.9 L663.2,358.5 L663.3,359.1 L663.5,359.8 L663.6,360.5 L663.8,361.2 L663.9,362.1 L664.1,362.9 L664.2,363.8 L664.4,364.8 L664.5,365.9 L664.7,367.0 L664.8,368.3 L665.0,369.6 L665.1,371.0 L665.3,372.6 L665.4,374.3 L665.6,376.3 L665.7,378.4 L665.9,380.9 L666.0,383.7 L666.2,387.1 L666.3,391.2 L666.5,396.4 L666.7,398.7 L666.8,398.7 L667.0,398.7 L667.1,398.8 L667.3,398.8 L667.4,398.6 L667.6,393.0 L667.7,388.7 L667.9,385.2 L668.0,382.3 L668.2,379.8 L668.3,377.6 L668.5,375.7 L668.6,374.0 L668.8,372.4 L668.9,371.0 L669.1,369.8 L669.2,368.6 L669.4,367.5 L669.5,366.5 L669.7,365.6 L669.8,364.7 L670.0,363.9 L670.1,363.1 L670.3,362.5 L670.4,361.8 L670.6,361.2 L670.7,360.6 L670.9,360.1 L671.0,359.6 L671.2,359.2 L671.3,358.7 L671.5,358.4 L671.7,358.0 L671.8,357.7 L672.0,357.4 L672.1,357.1 L672.3,356.8 L672.4,356.6 L672.6,356.4 L672.7,356.2 L672.9,356.0 L673.0,355.9 L673.2,355.8 L673.3,355.7 L673.5,355.6 L673.6,355.6 L673.8,355.5 L673.9,355.5 L674.1,355.5 L674.2,355.6 L674.4,355.6 L674.5,355.7 L674.7,355.8 L674.8,355.9 L675.0,356.0 L675.1,356.2 L675.3,356.4 L675.4,356.6 L675.6,356.8 L675.7,357.0 L675.9,357.3 L676.0,357.6 L676.2,357.9 L676.4,358.3" fill="none" stroke="#f3a373" stroke-width="0.6" stroke-linejoin="round" clip-path="url(#clipd)"/>
<path d="M525.1,376.9 L525.2,375.7 L525.4,374.5 L525.5,373.5 L525.7,372.5 L525.8,371.6 L526.0,370.7 L526.2,369.9 L526.3,369.2 L526.5,368.5 L526.6,367.8 L526.8,367.2 L526.9,366.6 L527.1,366.0 L527.2,365.5 L527.4,365.0 L527.5,364.6 L527.7,364.1 L527.8,363.7 L528.0,363.3 L528.1,363.0 L528.3,362.7 L528.4,362.4 L528.6,362.1 L528.7,361.9 L528.9,361.6 L529.0,361.4 L529.2,361.2 L529.3,361.1 L529.5,360.9 L529.6,360.8 L529.8,360.7 L529.9,360.6 L530.1,360.6 L530.2,360.5 L530.4,360.5 L530.5,360.5 L530.7,360.5 L530.8,360.6 L531.0,360.6 L531.2,360.7 L531.3,360.8 L531.5,360.9 L531.6,361.1 L531.8,361.3 L531.9,361.5 L532.1,361.7 L532.2,361.9 L532.4,362.2 L532.5,362.5 L532.7,362.8 L532.8,363.2 L533.0,363.6 L533.1,364.0 L533.3,364.4 L533.4,364.9 L533.6,365.4 L533.7,366.0 L533.9,366.6 L534.0,367.2 L534.2,367.9 L534.3,368.6 L534.5,369.4 L534.6,370.3 L534.8,371.2 L534.9,372.2 L535.1,373.2 L535.2,374.4 L535.4,375.7 L535.5,377.1 L535.7,378.6 L535.9,380.3 L536.0,382.2 L536.2,384.4 L536.3,386.8 L536.5,389.7 L536.6,393.2 L536.8,397.4 L536.9,403.0 L537.1,411.0 L537.2,412.6 L537.4,412.6 L537.5,412.6 L537.7,408.4 L537.8,401.1 L538.0,395.8 L538.1,391.7 L538.3,388.3 L538.4,385.5 L538.6,383.0 L538.7,380.8 L538.9,378.9 L539.0,377.1 L539.2,375.5 L539.3,374.0 L539.5,372.7 L539.6,371.5 L539.8,370.3 L539.9,369.2 L540.1,368.2 L540.2,367.3 L540.4,366.4 L540.5,365.6 L540.7,364.8 L540.9,364.1 L541.0,363.4 L541.2,362.8 L541.3,362.2 L541.5,361.6 L541.6,361.1 L541.8,360.6 L541.9,360.1 L542.1,359.6 L542.2,359.2 L542.4,358.8 L542.5,358.5 L542.7,358.1 L542.8,357.8 L543.0,357.5 L543.1,357.3 L543.3,357.0 L543.4,356.8 L543.6,356.6 L543.7,356.4 L543.9,356.2 L544.0,356.1 L544.2,356.0 L544.3,355.9 L544.5,355.8 L544.6,355.8 L544.8,355.7 L544.9,355.7 L545.1,355.7 L545.2,355.7 L545.4,355.8 L545.6,355.9 L545.7,356.0 L545.9,356.1 L546.0,356.2 L546.2,356.4 L546.3,356.5 L546.5,356.7 L546.6,357.0 L546.8,357.2 L546.9,357.5 L547.1,357.8 L547.2,358.1 L547.4,358.5 L547.5,358.9 L547.7,359.3 L547.8,359.8 L548.0,360.3 L548.1,360.8 L548.3,361.4 L548.4,362.0 L548.6,362.7 L548.7,363.4 L548.9,364.1 L549.0,365.0 L549.2,365.9 L549.3,366.8 L549.5,367.9 L549.6,369.0 L549.8,370.3 L549.9,371.6 L550.1,373.1 L550.2,374.8 L550.4,376.6 L550.6,378.7 L550.7,381.1 L550.9,383.9 L551.0,387.3 L551.2,391.4 L551.3,396.7 L551.5,404.2 L551.6,414.0 L551.8,413.8 L551.9,413.6 L552.1,404.2 L552.2,396.5 L552.4,391.0 L552.5,386.7 L552.7,383.2 L552.8,380.3 L553.0,377.7 L553.1,375.5 L553.3,373.5 L553.4,371.7 L553.6,370.1 L553.7,368.6 L553.9,367.2 L554.0,365.9 L554.2,364.7 L554.3,363.6 L554.5,362.6 L554.6,361.7 L554.8,360.8 L554.9,359.9 L555.1,359.1 L555.3,358.4 L555.4,357.6 L555.6,357.0 L555.7,356.3 L555.9,355.8 L556.0,355.2 L556.2,354.7 L556.3,354.2 L556.5,353.7 L556.6,353.3 L556.8,352.8 L556.9,352.5 L557.1,352.1 L557.2,351.7 L557.4,351.4 L557.5,351.1 L557.7,350.9 L557.8,350.6 L558.0,350.4 L558.1,350.2 L558.3,350.0 L558.4,349.8 L558.6,349.7 L558.7,349.6 L558.9,349.5 L559.0,349.4 L559.2,349.3 L559.3,349.3 L559.5,349.3 L559.6,349.3 L559.8,349.3 L559.9,349.3 L560.1,349.4 L560.3,349.5 L560.4,349.6 L560.6,349.7 L560.7,349.9 L560.9,350.1 L561.0,350.3 L561.2,350.5 L561.3,350.7 L561.5,351.0 L561.6,351.3 L561.8,351.6 L561.9,352.0 L562.1,352.4 L562.2,352.8 L562.4,353.3 L562.5,353.8 L562.7,354.3 L562.8,354.9 L563.0,355.5 L563.1,356.2 L563.3,357.0 L563.4,357.7 L563.6,358.6 L563.7,359.5 L563.9,360.5 L564.0,361.6 L564.2,362.8 L564.3,364.1 L564.5,365.6 L564.6,367.2 L564.8,369.0 L565.0,371.0 L565.1,373.3 L565.3,376.0 L565.4,379.3 L565.6,383.2 L565.7,388.3 L565.9,395.3 L566.0,397.0 L566.2,396.8 L566.3,396.6 L566.5,396.4 L566.6,389.6 L566.8,383.9 L566.9,379.4 L567.1,375.8 L567.2,372.8 L567.4,370.1 L567.5,367.8 L567.7,365.8 L567.8,363.9 L568.0,362.2 L568.1,360.7 L568.3,359.2 L568.4,357.9 L568.6,356.7 L568.7,355.5 L568.9,354.4 L569.0,353.4 L569.2,352.5 L569.3,351.6 L569.5,350.7 L569.6,349.9 L569.8,349.2 L570.0,348.5 L570.1,347.8 L570.3,347.1 L570.4,346.5 L570.6,346.0 L570.7,345.4 L570.9,344.9 L571.0,344.4 L571.2,343.9 L571.3,343.5 L571.5,343.1 L571.6,342.7 L571.8,342.3 L571.9,342.0 L572.1,341.7 L572.2,341.4 L572.4,341.1 L572.5,340.8 L572.7,340.6 L572.8,340.4 L573.0,340.2 L573.1,340.0 L573.3,339.8 L573.4,339.7 L573.6,339.6 L573.7,339.5 L573.9,339.4 L574.0,339.3 L574.2,339.3 L574.3,339.3 L574.5,339.3 L574.7,339.3 L574.8,339.3 L575.0,339.4 L575.1,339.5 L575.3,339.6 L575.4,339.7 L575.6,339.9 L575.7,340.1 L575.9,340.3 L576.0,340.5 L576.2,340.8 L576.3,341.0 L576.5,341.4 L576.6,341.7 L576.8,342.1 L576.9,342.5 L577.1,343.0 L577.2,343.5 L577.4,344.0 L577.5,344.6 L577.7,345.3 L577.8,346.0 L578.0,346.7 L578.1,347.6 L578.3,348.5 L578.4,349.5 L578.6,350.6 L578.7,351.8 L578.9,353.1 L579.0,354.6 L579.2,356.3 L579.3,358.2 L579.5,360.3 L579.7,362.9 L579.8,365.9 L580.0,369.6 L580.1,374.4 L580.3,378.2 L580.4,378.0 L580.6,377.9 L580.7,377.9 L580.9,377.9 L581.0,376.9 L581.2,370.8 L581.3,366.1 L581.5,362.2 L581.6,359.0 L581.8,356.2 L581.9,353.7 L582.1,351.5 L582.2,349.5 L582.4,347.6 L582.5,345.9 L582.7,344.3 L582.8,342.9 L583.0,341.5 L583.1,340.2 L583.3,338.9 L583.4,337.7 L583.6,336.6 L583.7,335.6 L583.9,334.5 L584.0,333.6 L584.2,332.6 L584.4,331.7 L584.5,330.9 L584.7,330.1 L584.8,329.3 L585.0,328.5 L585.1,327.7 L585.3,327.0 L585.4,326.3 L585.6,325.6 L585.7,325.0 L585.9,324.4 L586.0,325.8 L586.2,325.3 L586.3,324.8 L586.5,324.2 L586.6,323.8 L586.8,323.3 L586.9,322.9 L587.1,322.5 L587.2,322.2 L587.4,321.8 L587.5,321.5 L587.7,321.2 L587.8,320.9 L588.0,320.6 L588.1,320.3 L588.3,320.1 L588.4,319.9 L588.6,319.7 L588.7,319.4 L588.9,319.3 L589.0,319.1 L589.2,318.9 L589.4,318.8 L589.5,318.7 L589.7,318.6 L589.8,318.5 L590.0,318.4 L590.1,318.3 L590.3,318.2 L590.4,318.1 L590.6,318.0 L590.7,318.0 L590.9,317.9 L591.0,317.8 L591.2,317.8 L591.3,317.7 L591.5,317.5 L591.6,317.4 L591.8,317.3 L591.9,317.1 L592.1,317.0 L592.2,316.8 L592.4,316.7 L592.5,316.5 L592.7,316.3 L592.8,316.1 L593.0,315.9 L593.1,315.6 L593.3,315.4 L593.4,315.1 L593.6,314.9 L593.7,314.7 L593.9,314.4 L594.1,314.2 L594.2,313.9 L594.4,313.7 L594.5,313.4 L594.7,313.2 L594.8,313.0 L595.0,312.8 L595.1,312.7 L595.3,312.5 L595.4,312.4 L595.6,312.4 L595.7,312.4 L595.9,312.4 L596.0,312.3 L596.2,312.3 L596.3,312.3 L596.5,312.3 L596.6,312.3 L596.8,312.3 L596.9,312.4 L597.1,312.4 L597.2,312.5 L597.4,312.6 L597.5,312.7 L597.7,312.7 L597.8,312.8 L598.0,313.0 L598.1,313.1 L598.3,313.3 L598.4,313.5 L598.6,313.7 L598.7,314.1 L598.9,314.6 L599.1,315.4 L599.2,317.2 L599.4,320.2 L599.5,324.7 L599.7,331.9 L599.8,340.1 L600.0,339.6 L600.1,334.0 L600.3,328.8 L600.4,324.4 L600.6,320.5 L600.7,317.4 L600.9,315.1 L601.0,313.1 L601.2,311.8 L601.3,311.2 L601.5,310.8 L601.6,310.6 L601.8,310.7 L601.9,310.7 L602.1,310.7 L602.2,310.7 L602.4,310.8 L602.5,310.8 L602.7,310.8 L602.8,310.8 L603.0,310.9 L603.1,310.9 L603.3,310.9 L603.4,310.8 L603.6,310.8 L603.8,310.7 L603.9,310.6 L604.1,310.6 L604.2,310.5 L604.4,310.5 L604.5,310.4 L604.7,310.4 L604.8,310.4 L605.0,310.5 L605.1,310.6 L605.3,310.8 L605.4,311.3 L605.6,312.2 L605.7,313.0 L605.9,313.8 L606.0,314.7 L606.2,327.0 L606.3,328.0 L606.5,329.0 L606.6,330.1 L606.8,331.2 L606.9,332.5 L607.1,333.7 L607.2,335.1 L607.4,336.6 L607.5,338.1 L607.7,339.8 L607.8,341.7 L608.0,343.7 L608.1,345.9 L608.3,348.4 L608.4,351.2 L608.6,354.5 L608.8,358.4 L608.9,363.2 L609.1,369.5 L609.2,372.9 L609.4,372.9 L609.5,372.9 L609.7,372.8 L609.8,371.8 L610.0,365.4 L610.1,360.8 L610.3,357.1 L610.4,354.2 L610.6,351.6 L610.7,349.5 L610.9,347.6 L611.0,345.9 L611.2,344.4 L611.3,343.1 L611.5,341.9 L611.6,340.8 L611.8,339.8 L611.9,338.9 L612.1,338.1 L612.2,337.3 L612.4,336.6 L612.5,335.9 L612.7,335.3 L612.8,334.8 L613.0,334.3 L613.1,333.8 L613.3,333.4 L613.5,333.0 L613.6,332.6 L613.8,332.3 L613.9,332.0 L614.1,331.8 L614.2,331.5 L614.4,331.3 L614.5,331.1 L614.7,331.0 L614.8,330.8 L615.0,330.7 L615.1,330.6 L615.3,330.6 L615.4,330.5 L615.6,330.5 L615.7,330.5 L615.9,330.5 L616.0,330.6 L616.2,330.6 L616.3,330.7 L616.5,330.8 L616.6,330.9 L616.8,331.0 L616.9,331.2 L617.1,331.4 L617.2,331.6 L617.4,331.8 L617.5,332.0 L617.7,332.3 L617.8,332.6 L618.0,332.9 L618.1,333.2 L618.3,333.5 L618.5,333.9 L618.6,334.3 L618.8,334.7 L618.9,335.1 L619.1,335.6 L619.2,336.1 L619.4,336.6 L619.5,337.2 L619.7,337.7 L619.8,338.4 L620.0,339.0 L620.1,339.7 L620.3,340.4 L620.4,341.2 L620.6,342.0 L620.7,342.8 L620.9,343.7 L621.0,344.7 L621.2,345.7 L621.3,346.8 L621.5,347.9 L621.6,349.2 L621.8,350.5 L621.9,351.9 L622.1,353.5 L622.2,355.2 L622.4,357.1 L622.5,359.2 L622.7,361.5 L622.8,364.2 L623.0,367.3 L623.2,371.0 L623.3,375.6 L623.5,377.8 L623.6,377.8 L623.8,377.9 L623.9,378.0 L624.1,378.1 L624.2,378.2 L624.4,378.3 L624.5,373.8 L624.7,370.0 L624.8,366.8 L625.0,364.2 L625.1,361.9 L625.3,359.9 L625.4,358.1 L625.6,356.5 L625.7,355.1 L625.9,353.8 L626.0,352.6 L626.2,351.5 L626.3,350.5 L626.5,349.6 L626.6,348.7 L626.8,348.0 L626.9,347.2 L627.1,346.6 L627.2,345.9 L627.4,345.4 L627.5,344.8 L627.7,344.3 L627.8,343.9 L628.0,343.4 L628.2,343.1 L628.3,342.7 L628.5,342.4 L628.6,342.1 L628.8,341.8 L628.9,341.5 L629.1,341.3 L629.2,341.1 L629.4,340.9 L629.5,340.8 L629.7,340.7 L629.8,340.6 L630.0,340.5 L630.1,340.4 L630.3,340.4 L630.4,340.4 L630.6,340.4 L630.7,340.4 L630.9,340.4 L631.0,340.5 L631.2,340.6 L631.3,340.7 L631.5,340.8 L631.6,341.0 L631.8,341.1 L631.9,341.3 L632.1,341.5 L632.2,341.7 L632.4,342.0 L632.5,342.3 L632.7,342.6 L632.9,342.9 L633.0,343.2 L633.2,343.6 L633.3,344.0 L633.5,344.4 L633.6,344.8 L633.8,345.3 L633.9,345.8 L634.1,346.3 L634.2,346.9 L634.4,347.5 L634.5,348.1 L634.7,348.8 L634.8,349.5 L635.0,350.3 L635.1,351.1 L635.3,351.9 L635.4,352.8 L635.6,353.8 L635.7,354.9 L635.9,356.0 L636.0,357.2 L636.2,358.4 L636.3,359.8 L636.5,361.3 L636.6,363.0 L636.8,364.8 L636.9,366.8 L637.1,369.1 L637.2,371.7 L637.4,374.7 L637.5,378.2 L637.7,382.6 L637.9,387.8 L638.0,387.9 L638.2,387.9 L638.3,388.0 L638.5,388.1 L638.6,388.1 L638.8,387.1 L638.9,381.9 L639.1,377.9 L639.2,374.7 L639.4,371.9 L639.5,369.6 L639.7,367.5 L639.8,365.7 L640.0,364.0 L640.1,362.5 L640.3,361.2 L640.4,360.0 L640.6,358.8 L640.7,357.8 L640.9,356.8 L641.0,356.0 L641.2,355.1 L641.3,354.4 L641.5,353.7 L641.6,353.0 L641.8,352.4 L641.9,351.8 L642.1,351.3 L642.2,350.8 L642.4,350.4 L642.6,349.9 L642.7,349.5 L642.9,349.2 L643.0,348.9 L643.2,348.5 L643.3,348.3 L643.5,348.0 L643.6,347.8 L643.8,347.6 L643.9,347.4 L644.1,347.3 L644.2,347.1 L644.4,347.0 L644.5,346.9 L644.7,346.9 L644.8,346.8 L645.0,346.8 L645.1,346.8 L645.3,346.8 L645.4,346.9 L645.6,346.9 L645.7,347.0 L645.9,347.1 L646.0,347.2 L646.2,347.3 L646.3,347.5 L646.5,347.7 L646.6,347.9 L646.8,348.1 L646.9,348.4 L647.1,348.6 L647.2,348.9 L647.4,349.2 L647.6,349.6 L647.7,350.0 L647.9,350.3 L648.0,350.8 L648.2,351.2 L648.3,351.7 L648.5,352.2 L648.6,352.7 L648.8,353.3 L648.9,353.9 L649.1,354.6 L649.2,355.3 L649.4,356.0 L649.5,356.8 L649.7,357.6 L649.8,358.5 L650.0,359.4 L650.1,360.4 L650.3,361.5 L650.4,362.7 L650.6,363.9 L650.7,365.3 L650.9,366.8 L651.0,368.4 L651.2,370.1 L651.3,372.1 L651.5,374.3 L651.6,376.8 L651.8,379.8 L651.9,383.2 L652.1,387.4 L652.3,392.9 L652.4,393.8 L652.6,393.8 L652.7,393.9 L652.9,394.0 L653.0,394.0 L653.2,393.3 L653.3,388.0 L653.5,383.8 L653.6,380.4 L653.8,377.6 L653.9,375.2 L654.1,373.1 L654.2,371.2 L654.4,369.5 L654.5,368.0 L654.7,366.6 L654.8,365.4 L655.0,364.2 L655.1,363.1 L655.3,362.1 L655.4,361.2 L655.6,360.4 L655.7,359.6 L655.9,358.9 L656.0,358.2 L656.2,357.6 L656.3,357.0 L656.5,356.4 L656.6,355.9 L656.8,355.4 L656.9,355.0 L657.1,354.6 L657.3,354.2 L657.4,353.9 L657.6,353.5 L657.7,353.2 L657.9,353.0 L658.0,352.7 L658.2,352.5 L658.3,352.3 L658.5,352.2 L658.6,352.0 L658.8,351.9 L658.9,351.8 L659.1,351.7 L659.2,351.6 L659.4,351.6 L659.5,351.6 L659.7,351.6 L659.8,351.6 L660.0,351.6 L660.1,351.7 L660.3,351.8 L660.4,351.9 L660.6,352.0 L660.7,352.2 L660.9,352.3 L661.0,352.5 L661.2,352.7 L661.3,353.0 L661.5,353.2 L661.6,353.5 L661.8,353.8 L662.0,354.1 L662.1,354.5 L662.3,354.9 L662.4,355.3 L662.6,355.7 L662.7,356.1 L662.9,356.6 L663.0,357.2 L663.2,357.7 L663.3,358.3 L663.5,358.9 L663.6,359.6 L663.8,360.3 L663.9,361.1 L664.1,361.9 L664.2,362.8 L664.4,363.7 L664.5,364.7 L664.7,365.7 L664.8,366.9 L665.0,368.1 L665.1,369.4 L665.3,370.9 L665.4,372.5 L665.6,374.2 L665.7,376.1 L665.9,378.3 L666.0,380.8 L666.2,383.6 L666.3,386.9 L666.5,391.0 L666.6,396.2 L666.8,398.5 L667.0,398.6 L667.1,398.6 L667.3,398.6 L667.4,398.6 L667.6,398.4 L667.7,392.8 L667.9,388.5 L668.0,385.0 L668.2,382.1 L668.3,379.7 L668.5,377.5 L668.6,375.6 L668.8,373.8 L668.9,372.3 L669.1,370.9 L669.2,369.6 L669.4,368.4 L669.5,367.3 L669.7,366.3 L669.8,365.4 L670.0,364.5 L670.1,363.7 L670.3,363.0 L670.4,362.3 L670.6,361.7 L670.7,361.0 L670.9,360.5 L671.0,360.0 L671.2,359.5 L671.3,359.0 L671.5,358.6 L671.7,358.2 L671.8,357.8 L672.0,357.5 L672.1,357.2 L672.3,356.9 L672.4,356.7 L672.6,356.4 L672.7,356.2 L672.9,356.1 L673.0,355.9 L673.2,355.8 L673.3,355.6 L673.5,355.5 L673.6,355.5 L673.8,355.4 L673.9,355.4 L674.1,355.4 L674.2,355.4 L674.4,355.4 L674.5,355.5 L674.7,355.5 L674.8,355.6 L675.0,355.8 L675.1,355.9 L675.3,356.0 L675.4,356.2 L675.6,356.4 L675.7,356.6 L675.9,356.9 L676.0,357.2 L676.2,357.4 L676.3,357.8 L676.5,358.1" fill="none" stroke="#a2ca7a" stroke-width="0.65" stroke-linejoin="round" clip-path="url(#clipd)"/>
<polyline points="524,278.1 598.5,278.1 598.5,296.4 604.6,297.7" fill="none" stroke="#ee1c25" stroke-width="1.1" stroke-dasharray="4.5,2.5"/>
<polygon points="518.3,278.1 523.5,275.2 523.5,281" fill="#ee1c25" stroke="none" stroke-width="0" />
<ellipse cx="597.7" cy="320.7" rx="15.9" ry="21.8" fill="none" stroke="#ee1c25" stroke-width="1.1" stroke-dasharray="4,2.4"/>
</svg>
</body></html>
